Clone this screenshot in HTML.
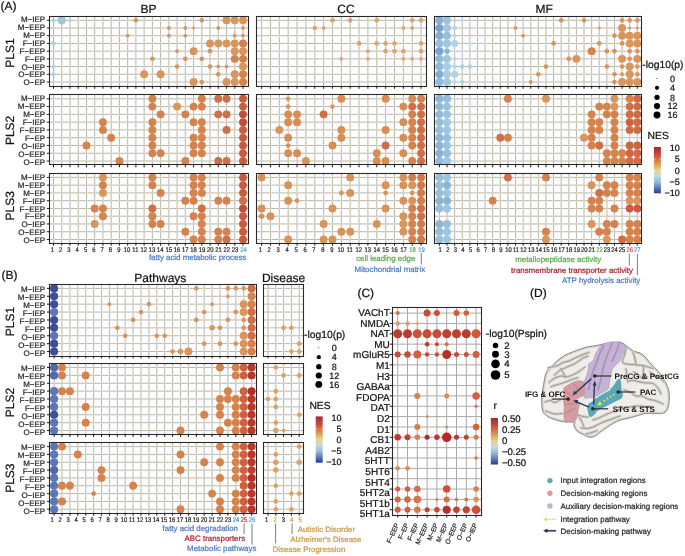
<!DOCTYPE html>
<html><head><meta charset="utf-8"><style>
html,body{margin:0;padding:0;background:#fff;width:685px;height:556px;overflow:hidden;}
svg{display:block;will-change:transform;}
text{font-family:"Liberation Sans", sans-serif;text-rendering:geometricPrecision;}
</style></head><body>
<svg width="685" height="556" viewBox="0 0 685 556" font-family='"Liberation Sans", sans-serif'>
<rect width="685" height="556" fill="#ffffff"/>
<path d="M53.50,16.0V86.4M61.74,16.0V86.4M69.98,16.0V86.4M78.22,16.0V86.4M86.46,16.0V86.4M94.70,16.0V86.4M102.94,16.0V86.4M111.18,16.0V86.4M119.42,16.0V86.4M127.66,16.0V86.4M135.90,16.0V86.4M144.14,16.0V86.4M152.38,16.0V86.4M160.62,16.0V86.4M168.86,16.0V86.4M177.10,16.0V86.4M185.34,16.0V86.4M193.58,16.0V86.4M201.82,16.0V86.4M210.06,16.0V86.4M218.30,16.0V86.4M226.54,16.0V86.4M234.78,16.0V86.4M243.02,16.0V86.4M49.5,20.30H248.3M49.5,28.01H248.3M49.5,35.72H248.3M49.5,43.43H248.3M49.5,51.14H248.3M49.5,58.85H248.3M49.5,66.56H248.3M49.5,74.27H248.3M49.5,81.98H248.3" stroke="#B6B6B6" stroke-width="1" fill="none"/>
<path d="M53.50,20.30h0M53.50,28.01h0M53.50,35.72h0M53.50,43.43h0M53.50,51.14h0M53.50,58.85h0M53.50,66.56h0M53.50,74.27h0M53.50,81.98h0M61.74,20.30h0M61.74,28.01h0M61.74,35.72h0M61.74,43.43h0M61.74,51.14h0M61.74,58.85h0M61.74,66.56h0M61.74,74.27h0M61.74,81.98h0M69.98,20.30h0M69.98,28.01h0M69.98,35.72h0M69.98,43.43h0M69.98,51.14h0M69.98,58.85h0M69.98,66.56h0M69.98,74.27h0M69.98,81.98h0M78.22,20.30h0M78.22,28.01h0M78.22,35.72h0M78.22,43.43h0M78.22,51.14h0M78.22,58.85h0M78.22,66.56h0M78.22,74.27h0M78.22,81.98h0M86.46,20.30h0M86.46,28.01h0M86.46,35.72h0M86.46,43.43h0M86.46,51.14h0M86.46,58.85h0M86.46,66.56h0M86.46,74.27h0M86.46,81.98h0M94.70,20.30h0M94.70,28.01h0M94.70,35.72h0M94.70,43.43h0M94.70,51.14h0M94.70,58.85h0M94.70,66.56h0M94.70,74.27h0M94.70,81.98h0M102.94,20.30h0M102.94,28.01h0M102.94,35.72h0M102.94,43.43h0M102.94,51.14h0M102.94,58.85h0M102.94,66.56h0M102.94,74.27h0M102.94,81.98h0M111.18,20.30h0M111.18,28.01h0M111.18,35.72h0M111.18,43.43h0M111.18,51.14h0M111.18,58.85h0M111.18,66.56h0M111.18,74.27h0M111.18,81.98h0M119.42,20.30h0M119.42,28.01h0M119.42,35.72h0M119.42,43.43h0M119.42,51.14h0M119.42,58.85h0M119.42,66.56h0M119.42,74.27h0M119.42,81.98h0M127.66,20.30h0M127.66,28.01h0M127.66,35.72h0M127.66,43.43h0M127.66,51.14h0M127.66,58.85h0M127.66,66.56h0M127.66,74.27h0M127.66,81.98h0M135.90,20.30h0M135.90,28.01h0M135.90,35.72h0M135.90,43.43h0M135.90,51.14h0M135.90,58.85h0M135.90,66.56h0M135.90,74.27h0M135.90,81.98h0M144.14,20.30h0M144.14,28.01h0M144.14,35.72h0M144.14,43.43h0M144.14,51.14h0M144.14,58.85h0M144.14,66.56h0M144.14,74.27h0M144.14,81.98h0M152.38,20.30h0M152.38,28.01h0M152.38,35.72h0M152.38,43.43h0M152.38,51.14h0M152.38,58.85h0M152.38,66.56h0M152.38,74.27h0M152.38,81.98h0M160.62,20.30h0M160.62,28.01h0M160.62,35.72h0M160.62,43.43h0M160.62,51.14h0M160.62,58.85h0M160.62,66.56h0M160.62,74.27h0M160.62,81.98h0M168.86,20.30h0M168.86,28.01h0M168.86,35.72h0M168.86,43.43h0M168.86,51.14h0M168.86,58.85h0M168.86,66.56h0M168.86,74.27h0M168.86,81.98h0M177.10,20.30h0M177.10,28.01h0M177.10,35.72h0M177.10,43.43h0M177.10,51.14h0M177.10,58.85h0M177.10,66.56h0M177.10,74.27h0M177.10,81.98h0M185.34,20.30h0M185.34,28.01h0M185.34,35.72h0M185.34,43.43h0M185.34,51.14h0M185.34,58.85h0M185.34,66.56h0M185.34,74.27h0M185.34,81.98h0M193.58,20.30h0M193.58,28.01h0M193.58,35.72h0M193.58,43.43h0M193.58,51.14h0M193.58,58.85h0M193.58,66.56h0M193.58,74.27h0M193.58,81.98h0M201.82,20.30h0M201.82,28.01h0M201.82,35.72h0M201.82,43.43h0M201.82,51.14h0M201.82,58.85h0M201.82,66.56h0M201.82,74.27h0M201.82,81.98h0M210.06,20.30h0M210.06,28.01h0M210.06,35.72h0M210.06,43.43h0M210.06,51.14h0M210.06,58.85h0M210.06,66.56h0M210.06,74.27h0M210.06,81.98h0M218.30,20.30h0M218.30,28.01h0M218.30,35.72h0M218.30,43.43h0M218.30,51.14h0M218.30,58.85h0M218.30,66.56h0M218.30,74.27h0M218.30,81.98h0M226.54,20.30h0M226.54,28.01h0M226.54,35.72h0M226.54,43.43h0M226.54,51.14h0M226.54,58.85h0M226.54,66.56h0M226.54,74.27h0M226.54,81.98h0M234.78,20.30h0M234.78,28.01h0M234.78,35.72h0M234.78,43.43h0M234.78,51.14h0M234.78,58.85h0M234.78,66.56h0M234.78,74.27h0M234.78,81.98h0M243.02,20.30h0M243.02,28.01h0M243.02,35.72h0M243.02,43.43h0M243.02,51.14h0M243.02,58.85h0M243.02,66.56h0M243.02,74.27h0M243.02,81.98h0" stroke="#EBDB88" stroke-width="1.7" stroke-linecap="round" fill="none"/>
<circle cx="53.50" cy="20.30" r="1.90" fill="#ADD2E3"/>
<circle cx="61.74" cy="20.30" r="4.20" fill="#A0C6DE"/>
<circle cx="69.98" cy="20.30" r="1.90" fill="#ADD2E3"/>
<circle cx="78.22" cy="20.30" r="1.40" fill="#C4DFE7"/>
<circle cx="135.90" cy="20.30" r="2.35" fill="#D9955A"/>
<circle cx="201.82" cy="20.30" r="2.35" fill="#D9955A"/>
<circle cx="226.54" cy="20.30" r="3.95" fill="#D9955A"/>
<circle cx="234.78" cy="20.30" r="3.95" fill="#D9955A"/>
<circle cx="243.02" cy="20.30" r="3.95" fill="#D9955A"/>
<circle cx="168.86" cy="28.01" r="1.90" fill="#D9955A"/>
<circle cx="185.34" cy="28.01" r="1.90" fill="#D9955A"/>
<circle cx="193.58" cy="28.01" r="1.40" fill="#D9955A"/>
<circle cx="218.30" cy="28.01" r="1.90" fill="#D9955A"/>
<circle cx="243.02" cy="28.01" r="1.90" fill="#D9955A"/>
<circle cx="127.66" cy="35.72" r="1.90" fill="#D9955A"/>
<circle cx="168.86" cy="35.72" r="1.90" fill="#D9955A"/>
<circle cx="185.34" cy="35.72" r="1.90" fill="#D9955A"/>
<circle cx="234.78" cy="35.72" r="1.90" fill="#D9955A"/>
<circle cx="243.02" cy="35.72" r="1.90" fill="#D9955A"/>
<circle cx="53.50" cy="43.43" r="2.35" fill="#ADD2E3"/>
<circle cx="210.06" cy="43.43" r="3.95" fill="#D9955A"/>
<circle cx="218.30" cy="43.43" r="3.95" fill="#D9955A"/>
<circle cx="226.54" cy="43.43" r="3.95" fill="#D9955A"/>
<circle cx="234.78" cy="43.43" r="3.95" fill="#D9955A"/>
<circle cx="243.02" cy="43.43" r="3.95" fill="#D4804A"/>
<circle cx="177.10" cy="51.14" r="1.90" fill="#D9955A"/>
<circle cx="193.58" cy="51.14" r="3.95" fill="#D9955A"/>
<circle cx="210.06" cy="51.14" r="2.35" fill="#D9955A"/>
<circle cx="234.78" cy="51.14" r="3.95" fill="#D9955A"/>
<circle cx="243.02" cy="51.14" r="3.95" fill="#D9955A"/>
<circle cx="152.38" cy="58.85" r="2.35" fill="#D9955A"/>
<circle cx="185.34" cy="58.85" r="2.35" fill="#D9955A"/>
<circle cx="201.82" cy="58.85" r="2.35" fill="#D9955A"/>
<circle cx="234.78" cy="58.85" r="3.95" fill="#D6824D"/>
<circle cx="243.02" cy="58.85" r="3.95" fill="#D4804A"/>
<circle cx="53.50" cy="66.56" r="1.90" fill="#ADD2E3"/>
<circle cx="177.10" cy="66.56" r="2.35" fill="#D9955A"/>
<circle cx="210.06" cy="66.56" r="2.35" fill="#D9955A"/>
<circle cx="218.30" cy="66.56" r="1.90" fill="#D9955A"/>
<circle cx="226.54" cy="66.56" r="1.90" fill="#D9955A"/>
<circle cx="243.02" cy="66.56" r="3.95" fill="#D9955A"/>
<circle cx="53.50" cy="74.27" r="1.90" fill="#ADD2E3"/>
<circle cx="144.14" cy="74.27" r="3.95" fill="#D9955A"/>
<circle cx="160.62" cy="74.27" r="3.95" fill="#D9955A"/>
<circle cx="218.30" cy="74.27" r="2.35" fill="#D9955A"/>
<circle cx="234.78" cy="74.27" r="3.95" fill="#D9955A"/>
<circle cx="243.02" cy="74.27" r="3.95" fill="#D6824D"/>
<circle cx="193.58" cy="81.98" r="3.95" fill="#D9955A"/>
<circle cx="201.82" cy="81.98" r="2.35" fill="#D9955A"/>
<circle cx="226.54" cy="81.98" r="3.95" fill="#D9955A"/>
<circle cx="234.78" cy="81.98" r="3.95" fill="#D9955A"/>
<circle cx="243.02" cy="81.98" r="3.95" fill="#D6824D"/>
<rect x="49.5" y="16.5" width="199.00" height="70.00" fill="none" stroke="#2a2a2a" stroke-width="1.1"/>
<line x1="46.90" y1="20.30" x2="49.5" y2="20.30" stroke="#1a1a1a" stroke-width="1.0"/>
<line x1="46.90" y1="28.01" x2="49.5" y2="28.01" stroke="#1a1a1a" stroke-width="1.0"/>
<line x1="46.90" y1="35.72" x2="49.5" y2="35.72" stroke="#1a1a1a" stroke-width="1.0"/>
<line x1="46.90" y1="43.43" x2="49.5" y2="43.43" stroke="#1a1a1a" stroke-width="1.0"/>
<line x1="46.90" y1="51.14" x2="49.5" y2="51.14" stroke="#1a1a1a" stroke-width="1.0"/>
<line x1="46.90" y1="58.85" x2="49.5" y2="58.85" stroke="#1a1a1a" stroke-width="1.0"/>
<line x1="46.90" y1="66.56" x2="49.5" y2="66.56" stroke="#1a1a1a" stroke-width="1.0"/>
<line x1="46.90" y1="74.27" x2="49.5" y2="74.27" stroke="#1a1a1a" stroke-width="1.0"/>
<line x1="46.90" y1="81.98" x2="49.5" y2="81.98" stroke="#1a1a1a" stroke-width="1.0"/>
<line x1="53.50" y1="86.4" x2="53.50" y2="88.80" stroke="#1a1a1a" stroke-width="1.0"/>
<line x1="61.74" y1="86.4" x2="61.74" y2="88.80" stroke="#1a1a1a" stroke-width="1.0"/>
<line x1="69.98" y1="86.4" x2="69.98" y2="88.80" stroke="#1a1a1a" stroke-width="1.0"/>
<line x1="78.22" y1="86.4" x2="78.22" y2="88.80" stroke="#1a1a1a" stroke-width="1.0"/>
<line x1="86.46" y1="86.4" x2="86.46" y2="88.80" stroke="#1a1a1a" stroke-width="1.0"/>
<line x1="94.70" y1="86.4" x2="94.70" y2="88.80" stroke="#1a1a1a" stroke-width="1.0"/>
<line x1="102.94" y1="86.4" x2="102.94" y2="88.80" stroke="#1a1a1a" stroke-width="1.0"/>
<line x1="111.18" y1="86.4" x2="111.18" y2="88.80" stroke="#1a1a1a" stroke-width="1.0"/>
<line x1="119.42" y1="86.4" x2="119.42" y2="88.80" stroke="#1a1a1a" stroke-width="1.0"/>
<line x1="127.66" y1="86.4" x2="127.66" y2="88.80" stroke="#1a1a1a" stroke-width="1.0"/>
<line x1="135.90" y1="86.4" x2="135.90" y2="88.80" stroke="#1a1a1a" stroke-width="1.0"/>
<line x1="144.14" y1="86.4" x2="144.14" y2="88.80" stroke="#1a1a1a" stroke-width="1.0"/>
<line x1="152.38" y1="86.4" x2="152.38" y2="88.80" stroke="#1a1a1a" stroke-width="1.0"/>
<line x1="160.62" y1="86.4" x2="160.62" y2="88.80" stroke="#1a1a1a" stroke-width="1.0"/>
<line x1="168.86" y1="86.4" x2="168.86" y2="88.80" stroke="#1a1a1a" stroke-width="1.0"/>
<line x1="177.10" y1="86.4" x2="177.10" y2="88.80" stroke="#1a1a1a" stroke-width="1.0"/>
<line x1="185.34" y1="86.4" x2="185.34" y2="88.80" stroke="#1a1a1a" stroke-width="1.0"/>
<line x1="193.58" y1="86.4" x2="193.58" y2="88.80" stroke="#1a1a1a" stroke-width="1.0"/>
<line x1="201.82" y1="86.4" x2="201.82" y2="88.80" stroke="#1a1a1a" stroke-width="1.0"/>
<line x1="210.06" y1="86.4" x2="210.06" y2="88.80" stroke="#1a1a1a" stroke-width="1.0"/>
<line x1="218.30" y1="86.4" x2="218.30" y2="88.80" stroke="#1a1a1a" stroke-width="1.0"/>
<line x1="226.54" y1="86.4" x2="226.54" y2="88.80" stroke="#1a1a1a" stroke-width="1.0"/>
<line x1="234.78" y1="86.4" x2="234.78" y2="88.80" stroke="#1a1a1a" stroke-width="1.0"/>
<line x1="243.02" y1="86.4" x2="243.02" y2="88.80" stroke="#1a1a1a" stroke-width="1.0"/>
<path d="M261.60,16.0V86.4M270.46,16.0V86.4M279.32,16.0V86.4M288.18,16.0V86.4M297.04,16.0V86.4M305.90,16.0V86.4M314.76,16.0V86.4M323.62,16.0V86.4M332.48,16.0V86.4M341.34,16.0V86.4M350.20,16.0V86.4M359.06,16.0V86.4M367.92,16.0V86.4M376.78,16.0V86.4M385.64,16.0V86.4M394.50,16.0V86.4M403.36,16.0V86.4M412.22,16.0V86.4M421.08,16.0V86.4M256.6,20.30H426.6M256.6,28.01H426.6M256.6,35.72H426.6M256.6,43.43H426.6M256.6,51.14H426.6M256.6,58.85H426.6M256.6,66.56H426.6M256.6,74.27H426.6M256.6,81.98H426.6" stroke="#B6B6B6" stroke-width="1" fill="none"/>
<path d="M261.60,20.30h0M261.60,28.01h0M261.60,35.72h0M261.60,43.43h0M261.60,51.14h0M261.60,58.85h0M261.60,66.56h0M261.60,74.27h0M261.60,81.98h0M270.46,20.30h0M270.46,28.01h0M270.46,35.72h0M270.46,43.43h0M270.46,51.14h0M270.46,58.85h0M270.46,66.56h0M270.46,74.27h0M270.46,81.98h0M279.32,20.30h0M279.32,28.01h0M279.32,35.72h0M279.32,43.43h0M279.32,51.14h0M279.32,58.85h0M279.32,66.56h0M279.32,74.27h0M279.32,81.98h0M288.18,20.30h0M288.18,28.01h0M288.18,35.72h0M288.18,43.43h0M288.18,51.14h0M288.18,58.85h0M288.18,66.56h0M288.18,74.27h0M288.18,81.98h0M297.04,20.30h0M297.04,28.01h0M297.04,35.72h0M297.04,43.43h0M297.04,51.14h0M297.04,58.85h0M297.04,66.56h0M297.04,74.27h0M297.04,81.98h0M305.90,20.30h0M305.90,28.01h0M305.90,35.72h0M305.90,43.43h0M305.90,51.14h0M305.90,58.85h0M305.90,66.56h0M305.90,74.27h0M305.90,81.98h0M314.76,20.30h0M314.76,28.01h0M314.76,35.72h0M314.76,43.43h0M314.76,51.14h0M314.76,58.85h0M314.76,66.56h0M314.76,74.27h0M314.76,81.98h0M323.62,20.30h0M323.62,28.01h0M323.62,35.72h0M323.62,43.43h0M323.62,51.14h0M323.62,58.85h0M323.62,66.56h0M323.62,74.27h0M323.62,81.98h0M332.48,20.30h0M332.48,28.01h0M332.48,35.72h0M332.48,43.43h0M332.48,51.14h0M332.48,58.85h0M332.48,66.56h0M332.48,74.27h0M332.48,81.98h0M341.34,20.30h0M341.34,28.01h0M341.34,35.72h0M341.34,43.43h0M341.34,51.14h0M341.34,58.85h0M341.34,66.56h0M341.34,74.27h0M341.34,81.98h0M350.20,20.30h0M350.20,28.01h0M350.20,35.72h0M350.20,43.43h0M350.20,51.14h0M350.20,58.85h0M350.20,66.56h0M350.20,74.27h0M350.20,81.98h0M359.06,20.30h0M359.06,28.01h0M359.06,35.72h0M359.06,43.43h0M359.06,51.14h0M359.06,58.85h0M359.06,66.56h0M359.06,74.27h0M359.06,81.98h0M367.92,20.30h0M367.92,28.01h0M367.92,35.72h0M367.92,43.43h0M367.92,51.14h0M367.92,58.85h0M367.92,66.56h0M367.92,74.27h0M367.92,81.98h0M376.78,20.30h0M376.78,28.01h0M376.78,35.72h0M376.78,43.43h0M376.78,51.14h0M376.78,58.85h0M376.78,66.56h0M376.78,74.27h0M376.78,81.98h0M385.64,20.30h0M385.64,28.01h0M385.64,35.72h0M385.64,43.43h0M385.64,51.14h0M385.64,58.85h0M385.64,66.56h0M385.64,74.27h0M385.64,81.98h0M394.50,20.30h0M394.50,28.01h0M394.50,35.72h0M394.50,43.43h0M394.50,51.14h0M394.50,58.85h0M394.50,66.56h0M394.50,74.27h0M394.50,81.98h0M403.36,20.30h0M403.36,28.01h0M403.36,35.72h0M403.36,43.43h0M403.36,51.14h0M403.36,58.85h0M403.36,66.56h0M403.36,74.27h0M403.36,81.98h0M412.22,20.30h0M412.22,28.01h0M412.22,35.72h0M412.22,43.43h0M412.22,51.14h0M412.22,58.85h0M412.22,66.56h0M412.22,74.27h0M412.22,81.98h0M421.08,20.30h0M421.08,28.01h0M421.08,35.72h0M421.08,43.43h0M421.08,51.14h0M421.08,58.85h0M421.08,66.56h0M421.08,74.27h0M421.08,81.98h0" stroke="#EBDB88" stroke-width="1.7" stroke-linecap="round" fill="none"/>
<circle cx="332.48" cy="20.30" r="2.35" fill="#DFA466"/>
<circle cx="350.20" cy="20.30" r="2.35" fill="#DFA466"/>
<circle cx="376.78" cy="20.30" r="2.35" fill="#DFA466"/>
<circle cx="412.22" cy="20.30" r="2.35" fill="#DFA466"/>
<circle cx="421.08" cy="20.30" r="2.35" fill="#DFA466"/>
<circle cx="314.76" cy="28.01" r="2.35" fill="#DFA466"/>
<circle cx="323.62" cy="28.01" r="1.90" fill="#DFA466"/>
<circle cx="403.36" cy="28.01" r="1.90" fill="#DFA466"/>
<circle cx="412.22" cy="28.01" r="1.90" fill="#DFA466"/>
<circle cx="359.06" cy="43.43" r="2.35" fill="#DFA466"/>
<circle cx="376.78" cy="43.43" r="2.35" fill="#DFA466"/>
<circle cx="385.64" cy="43.43" r="2.35" fill="#DFA466"/>
<circle cx="394.50" cy="43.43" r="2.35" fill="#DFA466"/>
<circle cx="421.08" cy="43.43" r="2.35" fill="#DFA466"/>
<circle cx="367.92" cy="51.14" r="1.90" fill="#DFA466"/>
<circle cx="385.64" cy="51.14" r="2.35" fill="#DFA466"/>
<circle cx="394.50" cy="51.14" r="2.35" fill="#DFA466"/>
<circle cx="403.36" cy="51.14" r="2.35" fill="#DFA466"/>
<circle cx="421.08" cy="51.14" r="2.35" fill="#DFA466"/>
<circle cx="341.34" cy="58.85" r="1.90" fill="#DFA466"/>
<circle cx="367.92" cy="58.85" r="1.90" fill="#DFA466"/>
<circle cx="403.36" cy="58.85" r="1.90" fill="#DFA466"/>
<circle cx="412.22" cy="58.85" r="1.90" fill="#DFA466"/>
<circle cx="421.08" cy="58.85" r="1.90" fill="#DFA466"/>
<rect x="256.5" y="16.5" width="170.00" height="70.00" fill="none" stroke="#2a2a2a" stroke-width="1.1"/>
<line x1="261.60" y1="86.4" x2="261.60" y2="88.80" stroke="#1a1a1a" stroke-width="1.0"/>
<line x1="270.46" y1="86.4" x2="270.46" y2="88.80" stroke="#1a1a1a" stroke-width="1.0"/>
<line x1="279.32" y1="86.4" x2="279.32" y2="88.80" stroke="#1a1a1a" stroke-width="1.0"/>
<line x1="288.18" y1="86.4" x2="288.18" y2="88.80" stroke="#1a1a1a" stroke-width="1.0"/>
<line x1="297.04" y1="86.4" x2="297.04" y2="88.80" stroke="#1a1a1a" stroke-width="1.0"/>
<line x1="305.90" y1="86.4" x2="305.90" y2="88.80" stroke="#1a1a1a" stroke-width="1.0"/>
<line x1="314.76" y1="86.4" x2="314.76" y2="88.80" stroke="#1a1a1a" stroke-width="1.0"/>
<line x1="323.62" y1="86.4" x2="323.62" y2="88.80" stroke="#1a1a1a" stroke-width="1.0"/>
<line x1="332.48" y1="86.4" x2="332.48" y2="88.80" stroke="#1a1a1a" stroke-width="1.0"/>
<line x1="341.34" y1="86.4" x2="341.34" y2="88.80" stroke="#1a1a1a" stroke-width="1.0"/>
<line x1="350.20" y1="86.4" x2="350.20" y2="88.80" stroke="#1a1a1a" stroke-width="1.0"/>
<line x1="359.06" y1="86.4" x2="359.06" y2="88.80" stroke="#1a1a1a" stroke-width="1.0"/>
<line x1="367.92" y1="86.4" x2="367.92" y2="88.80" stroke="#1a1a1a" stroke-width="1.0"/>
<line x1="376.78" y1="86.4" x2="376.78" y2="88.80" stroke="#1a1a1a" stroke-width="1.0"/>
<line x1="385.64" y1="86.4" x2="385.64" y2="88.80" stroke="#1a1a1a" stroke-width="1.0"/>
<line x1="394.50" y1="86.4" x2="394.50" y2="88.80" stroke="#1a1a1a" stroke-width="1.0"/>
<line x1="403.36" y1="86.4" x2="403.36" y2="88.80" stroke="#1a1a1a" stroke-width="1.0"/>
<line x1="412.22" y1="86.4" x2="412.22" y2="88.80" stroke="#1a1a1a" stroke-width="1.0"/>
<line x1="421.08" y1="86.4" x2="421.08" y2="88.80" stroke="#1a1a1a" stroke-width="1.0"/>
<path d="M439.40,16.0V86.4M447.01,16.0V86.4M454.62,16.0V86.4M462.24,16.0V86.4M469.85,16.0V86.4M477.46,16.0V86.4M485.07,16.0V86.4M492.68,16.0V86.4M500.30,16.0V86.4M507.91,16.0V86.4M515.52,16.0V86.4M523.13,16.0V86.4M530.74,16.0V86.4M538.36,16.0V86.4M545.97,16.0V86.4M553.58,16.0V86.4M561.19,16.0V86.4M568.80,16.0V86.4M576.42,16.0V86.4M584.03,16.0V86.4M591.64,16.0V86.4M599.25,16.0V86.4M606.86,16.0V86.4M614.48,16.0V86.4M622.09,16.0V86.4M629.70,16.0V86.4M637.31,16.0V86.4M435.0,20.30H641.3M435.0,28.01H641.3M435.0,35.72H641.3M435.0,43.43H641.3M435.0,51.14H641.3M435.0,58.85H641.3M435.0,66.56H641.3M435.0,74.27H641.3M435.0,81.98H641.3" stroke="#B6B6B6" stroke-width="1" fill="none"/>
<path d="M439.40,20.30h0M439.40,28.01h0M439.40,35.72h0M439.40,43.43h0M439.40,51.14h0M439.40,58.85h0M439.40,66.56h0M439.40,74.27h0M439.40,81.98h0M447.01,20.30h0M447.01,28.01h0M447.01,35.72h0M447.01,43.43h0M447.01,51.14h0M447.01,58.85h0M447.01,66.56h0M447.01,74.27h0M447.01,81.98h0M454.62,20.30h0M454.62,28.01h0M454.62,35.72h0M454.62,43.43h0M454.62,51.14h0M454.62,58.85h0M454.62,66.56h0M454.62,74.27h0M454.62,81.98h0M462.24,20.30h0M462.24,28.01h0M462.24,35.72h0M462.24,43.43h0M462.24,51.14h0M462.24,58.85h0M462.24,66.56h0M462.24,74.27h0M462.24,81.98h0M469.85,20.30h0M469.85,28.01h0M469.85,35.72h0M469.85,43.43h0M469.85,51.14h0M469.85,58.85h0M469.85,66.56h0M469.85,74.27h0M469.85,81.98h0M477.46,20.30h0M477.46,28.01h0M477.46,35.72h0M477.46,43.43h0M477.46,51.14h0M477.46,58.85h0M477.46,66.56h0M477.46,74.27h0M477.46,81.98h0M485.07,20.30h0M485.07,28.01h0M485.07,35.72h0M485.07,43.43h0M485.07,51.14h0M485.07,58.85h0M485.07,66.56h0M485.07,74.27h0M485.07,81.98h0M492.68,20.30h0M492.68,28.01h0M492.68,35.72h0M492.68,43.43h0M492.68,51.14h0M492.68,58.85h0M492.68,66.56h0M492.68,74.27h0M492.68,81.98h0M500.30,20.30h0M500.30,28.01h0M500.30,35.72h0M500.30,43.43h0M500.30,51.14h0M500.30,58.85h0M500.30,66.56h0M500.30,74.27h0M500.30,81.98h0M507.91,20.30h0M507.91,28.01h0M507.91,35.72h0M507.91,43.43h0M507.91,51.14h0M507.91,58.85h0M507.91,66.56h0M507.91,74.27h0M507.91,81.98h0M515.52,20.30h0M515.52,28.01h0M515.52,35.72h0M515.52,43.43h0M515.52,51.14h0M515.52,58.85h0M515.52,66.56h0M515.52,74.27h0M515.52,81.98h0M523.13,20.30h0M523.13,28.01h0M523.13,35.72h0M523.13,43.43h0M523.13,51.14h0M523.13,58.85h0M523.13,66.56h0M523.13,74.27h0M523.13,81.98h0M530.74,20.30h0M530.74,28.01h0M530.74,35.72h0M530.74,43.43h0M530.74,51.14h0M530.74,58.85h0M530.74,66.56h0M530.74,74.27h0M530.74,81.98h0M538.36,20.30h0M538.36,28.01h0M538.36,35.72h0M538.36,43.43h0M538.36,51.14h0M538.36,58.85h0M538.36,66.56h0M538.36,74.27h0M538.36,81.98h0M545.97,20.30h0M545.97,28.01h0M545.97,35.72h0M545.97,43.43h0M545.97,51.14h0M545.97,58.85h0M545.97,66.56h0M545.97,74.27h0M545.97,81.98h0M553.58,20.30h0M553.58,28.01h0M553.58,35.72h0M553.58,43.43h0M553.58,51.14h0M553.58,58.85h0M553.58,66.56h0M553.58,74.27h0M553.58,81.98h0M561.19,20.30h0M561.19,28.01h0M561.19,35.72h0M561.19,43.43h0M561.19,51.14h0M561.19,58.85h0M561.19,66.56h0M561.19,74.27h0M561.19,81.98h0M568.80,20.30h0M568.80,28.01h0M568.80,35.72h0M568.80,43.43h0M568.80,51.14h0M568.80,58.85h0M568.80,66.56h0M568.80,74.27h0M568.80,81.98h0M576.42,20.30h0M576.42,28.01h0M576.42,35.72h0M576.42,43.43h0M576.42,51.14h0M576.42,58.85h0M576.42,66.56h0M576.42,74.27h0M576.42,81.98h0M584.03,20.30h0M584.03,28.01h0M584.03,35.72h0M584.03,43.43h0M584.03,51.14h0M584.03,58.85h0M584.03,66.56h0M584.03,74.27h0M584.03,81.98h0M591.64,20.30h0M591.64,28.01h0M591.64,35.72h0M591.64,43.43h0M591.64,51.14h0M591.64,58.85h0M591.64,66.56h0M591.64,74.27h0M591.64,81.98h0M599.25,20.30h0M599.25,28.01h0M599.25,35.72h0M599.25,43.43h0M599.25,51.14h0M599.25,58.85h0M599.25,66.56h0M599.25,74.27h0M599.25,81.98h0M606.86,20.30h0M606.86,28.01h0M606.86,35.72h0M606.86,43.43h0M606.86,51.14h0M606.86,58.85h0M606.86,66.56h0M606.86,74.27h0M606.86,81.98h0M614.48,20.30h0M614.48,28.01h0M614.48,35.72h0M614.48,43.43h0M614.48,51.14h0M614.48,58.85h0M614.48,66.56h0M614.48,74.27h0M614.48,81.98h0M622.09,20.30h0M622.09,28.01h0M622.09,35.72h0M622.09,43.43h0M622.09,51.14h0M622.09,58.85h0M622.09,66.56h0M622.09,74.27h0M622.09,81.98h0M629.70,20.30h0M629.70,28.01h0M629.70,35.72h0M629.70,43.43h0M629.70,51.14h0M629.70,58.85h0M629.70,66.56h0M629.70,74.27h0M629.70,81.98h0M637.31,20.30h0M637.31,28.01h0M637.31,35.72h0M637.31,43.43h0M637.31,51.14h0M637.31,58.85h0M637.31,66.56h0M637.31,74.27h0M637.31,81.98h0" stroke="#EBDB88" stroke-width="1.7" stroke-linecap="round" fill="none"/>
<circle cx="439.40" cy="20.30" r="3.95" fill="#8AB0D3"/>
<circle cx="447.01" cy="20.30" r="3.95" fill="#9CC2DC"/>
<circle cx="454.62" cy="20.30" r="1.90" fill="#B8DAE8"/>
<circle cx="462.24" cy="20.30" r="1.90" fill="#C4DFE7"/>
<circle cx="561.19" cy="20.30" r="2.35" fill="#D9955A"/>
<circle cx="584.03" cy="20.30" r="2.35" fill="#D9955A"/>
<circle cx="622.09" cy="20.30" r="2.35" fill="#D9955A"/>
<circle cx="629.70" cy="20.30" r="2.35" fill="#D9955A"/>
<circle cx="637.31" cy="20.30" r="2.35" fill="#D9955A"/>
<circle cx="439.40" cy="28.01" r="3.95" fill="#7BA2CC"/>
<circle cx="447.01" cy="28.01" r="3.95" fill="#A2C7DF"/>
<circle cx="454.62" cy="28.01" r="2.35" fill="#B5D8E8"/>
<circle cx="515.52" cy="28.01" r="1.90" fill="#D9955A"/>
<circle cx="599.25" cy="28.01" r="1.40" fill="#D9955A"/>
<circle cx="622.09" cy="28.01" r="3.95" fill="#D9955A"/>
<circle cx="629.70" cy="28.01" r="1.40" fill="#D9955A"/>
<circle cx="637.31" cy="28.01" r="1.40" fill="#D9955A"/>
<circle cx="439.40" cy="35.72" r="3.95" fill="#84ABD1"/>
<circle cx="447.01" cy="35.72" r="3.95" fill="#98BEDA"/>
<circle cx="454.62" cy="35.72" r="1.90" fill="#B8DAE8"/>
<circle cx="523.13" cy="35.72" r="1.90" fill="#D9955A"/>
<circle cx="614.48" cy="35.72" r="2.35" fill="#D9955A"/>
<circle cx="622.09" cy="35.72" r="3.95" fill="#D9955A"/>
<circle cx="629.70" cy="35.72" r="3.95" fill="#D9955A"/>
<circle cx="637.31" cy="35.72" r="3.95" fill="#D9955A"/>
<circle cx="439.40" cy="43.43" r="3.95" fill="#98BEDA"/>
<circle cx="447.01" cy="43.43" r="3.95" fill="#A0C5DE"/>
<circle cx="454.62" cy="43.43" r="3.50" fill="#AFD3E4"/>
<circle cx="469.85" cy="43.43" r="1.90" fill="#C4DFE7"/>
<circle cx="485.07" cy="43.43" r="1.40" fill="#C4DFE7"/>
<circle cx="553.58" cy="43.43" r="2.35" fill="#D9955A"/>
<circle cx="599.25" cy="43.43" r="2.35" fill="#D9955A"/>
<circle cx="622.09" cy="43.43" r="2.35" fill="#D9955A"/>
<circle cx="629.70" cy="43.43" r="3.95" fill="#D9955A"/>
<circle cx="637.31" cy="43.43" r="3.95" fill="#D9955A"/>
<circle cx="439.40" cy="51.14" r="3.95" fill="#7CA3CC"/>
<circle cx="447.01" cy="51.14" r="2.75" fill="#8DB3D4"/>
<circle cx="454.62" cy="51.14" r="1.40" fill="#CDE5E5"/>
<circle cx="462.24" cy="51.14" r="1.40" fill="#C4DFE7"/>
<circle cx="591.64" cy="51.14" r="3.95" fill="#D6824D"/>
<circle cx="606.86" cy="51.14" r="2.35" fill="#D9955A"/>
<circle cx="614.48" cy="51.14" r="2.35" fill="#D9955A"/>
<circle cx="629.70" cy="51.14" r="2.35" fill="#D9955A"/>
<circle cx="637.31" cy="51.14" r="2.35" fill="#D9955A"/>
<circle cx="439.40" cy="58.85" r="3.95" fill="#92B8D7"/>
<circle cx="447.01" cy="58.85" r="3.95" fill="#A0C5DE"/>
<circle cx="454.62" cy="58.85" r="1.90" fill="#B8DAE8"/>
<circle cx="462.24" cy="58.85" r="1.40" fill="#C4DFE7"/>
<circle cx="469.85" cy="58.85" r="1.40" fill="#C4DFE7"/>
<circle cx="568.80" cy="58.85" r="2.35" fill="#D9955A"/>
<circle cx="576.42" cy="58.85" r="3.95" fill="#D9955A"/>
<circle cx="622.09" cy="58.85" r="3.95" fill="#D9955A"/>
<circle cx="629.70" cy="58.85" r="2.35" fill="#D9955A"/>
<circle cx="637.31" cy="58.85" r="3.95" fill="#D9955A"/>
<circle cx="439.40" cy="66.56" r="3.95" fill="#92B8D7"/>
<circle cx="447.01" cy="66.56" r="3.95" fill="#A8CCE2"/>
<circle cx="454.62" cy="66.56" r="2.35" fill="#B5D8E8"/>
<circle cx="462.24" cy="66.56" r="2.35" fill="#ADD2E3"/>
<circle cx="469.85" cy="66.56" r="2.35" fill="#ADD2E3"/>
<circle cx="545.97" cy="66.56" r="2.35" fill="#D9955A"/>
<circle cx="606.86" cy="66.56" r="2.35" fill="#D9955A"/>
<circle cx="622.09" cy="66.56" r="2.35" fill="#D9955A"/>
<circle cx="629.70" cy="66.56" r="3.95" fill="#D9955A"/>
<circle cx="637.31" cy="66.56" r="2.35" fill="#D9955A"/>
<circle cx="439.40" cy="74.27" r="3.95" fill="#84ABD1"/>
<circle cx="447.01" cy="74.27" r="3.95" fill="#A8CCE2"/>
<circle cx="454.62" cy="74.27" r="3.50" fill="#AFD3E4"/>
<circle cx="538.36" cy="74.27" r="2.35" fill="#D9955A"/>
<circle cx="614.48" cy="74.27" r="2.35" fill="#D9955A"/>
<circle cx="622.09" cy="74.27" r="1.90" fill="#D9955A"/>
<circle cx="629.70" cy="74.27" r="3.95" fill="#D9955A"/>
<circle cx="637.31" cy="74.27" r="2.35" fill="#D9955A"/>
<circle cx="439.40" cy="81.98" r="3.95" fill="#93B9D8"/>
<circle cx="447.01" cy="81.98" r="3.95" fill="#A5CAE0"/>
<circle cx="454.62" cy="81.98" r="1.90" fill="#BBDCE8"/>
<circle cx="462.24" cy="81.98" r="1.90" fill="#ADD2E3"/>
<circle cx="477.46" cy="81.98" r="1.40" fill="#C4DFE7"/>
<circle cx="530.74" cy="81.98" r="1.90" fill="#D9955A"/>
<circle cx="614.48" cy="81.98" r="2.35" fill="#D9955A"/>
<circle cx="622.09" cy="81.98" r="3.95" fill="#D9955A"/>
<circle cx="629.70" cy="81.98" r="3.95" fill="#D9955A"/>
<circle cx="637.31" cy="81.98" r="3.95" fill="#D9955A"/>
<rect x="434.5" y="16.5" width="207.00" height="70.00" fill="none" stroke="#2a2a2a" stroke-width="1.1"/>
<line x1="439.40" y1="86.4" x2="439.40" y2="88.80" stroke="#1a1a1a" stroke-width="1.0"/>
<line x1="447.01" y1="86.4" x2="447.01" y2="88.80" stroke="#1a1a1a" stroke-width="1.0"/>
<line x1="454.62" y1="86.4" x2="454.62" y2="88.80" stroke="#1a1a1a" stroke-width="1.0"/>
<line x1="462.24" y1="86.4" x2="462.24" y2="88.80" stroke="#1a1a1a" stroke-width="1.0"/>
<line x1="469.85" y1="86.4" x2="469.85" y2="88.80" stroke="#1a1a1a" stroke-width="1.0"/>
<line x1="477.46" y1="86.4" x2="477.46" y2="88.80" stroke="#1a1a1a" stroke-width="1.0"/>
<line x1="485.07" y1="86.4" x2="485.07" y2="88.80" stroke="#1a1a1a" stroke-width="1.0"/>
<line x1="492.68" y1="86.4" x2="492.68" y2="88.80" stroke="#1a1a1a" stroke-width="1.0"/>
<line x1="500.30" y1="86.4" x2="500.30" y2="88.80" stroke="#1a1a1a" stroke-width="1.0"/>
<line x1="507.91" y1="86.4" x2="507.91" y2="88.80" stroke="#1a1a1a" stroke-width="1.0"/>
<line x1="515.52" y1="86.4" x2="515.52" y2="88.80" stroke="#1a1a1a" stroke-width="1.0"/>
<line x1="523.13" y1="86.4" x2="523.13" y2="88.80" stroke="#1a1a1a" stroke-width="1.0"/>
<line x1="530.74" y1="86.4" x2="530.74" y2="88.80" stroke="#1a1a1a" stroke-width="1.0"/>
<line x1="538.36" y1="86.4" x2="538.36" y2="88.80" stroke="#1a1a1a" stroke-width="1.0"/>
<line x1="545.97" y1="86.4" x2="545.97" y2="88.80" stroke="#1a1a1a" stroke-width="1.0"/>
<line x1="553.58" y1="86.4" x2="553.58" y2="88.80" stroke="#1a1a1a" stroke-width="1.0"/>
<line x1="561.19" y1="86.4" x2="561.19" y2="88.80" stroke="#1a1a1a" stroke-width="1.0"/>
<line x1="568.80" y1="86.4" x2="568.80" y2="88.80" stroke="#1a1a1a" stroke-width="1.0"/>
<line x1="576.42" y1="86.4" x2="576.42" y2="88.80" stroke="#1a1a1a" stroke-width="1.0"/>
<line x1="584.03" y1="86.4" x2="584.03" y2="88.80" stroke="#1a1a1a" stroke-width="1.0"/>
<line x1="591.64" y1="86.4" x2="591.64" y2="88.80" stroke="#1a1a1a" stroke-width="1.0"/>
<line x1="599.25" y1="86.4" x2="599.25" y2="88.80" stroke="#1a1a1a" stroke-width="1.0"/>
<line x1="606.86" y1="86.4" x2="606.86" y2="88.80" stroke="#1a1a1a" stroke-width="1.0"/>
<line x1="614.48" y1="86.4" x2="614.48" y2="88.80" stroke="#1a1a1a" stroke-width="1.0"/>
<line x1="622.09" y1="86.4" x2="622.09" y2="88.80" stroke="#1a1a1a" stroke-width="1.0"/>
<line x1="629.70" y1="86.4" x2="629.70" y2="88.80" stroke="#1a1a1a" stroke-width="1.0"/>
<line x1="637.31" y1="86.4" x2="637.31" y2="88.80" stroke="#1a1a1a" stroke-width="1.0"/>
<text x="45.2" y="21.93" font-size="8.0" text-anchor="end" fill="#262626" stroke="#262626" stroke-width="0.22" font-weight="normal" >M−IEP</text>
<text x="45.2" y="29.86" font-size="8.0" text-anchor="end" fill="#262626" stroke="#262626" stroke-width="0.22" font-weight="normal" >M−EEP</text>
<text x="45.2" y="37.79" font-size="8.0" text-anchor="end" fill="#262626" stroke="#262626" stroke-width="0.22" font-weight="normal" >M−EP</text>
<text x="45.2" y="45.72" font-size="8.0" text-anchor="end" fill="#262626" stroke="#262626" stroke-width="0.22" font-weight="normal" >F−IEP</text>
<text x="45.2" y="53.65" font-size="8.0" text-anchor="end" fill="#262626" stroke="#262626" stroke-width="0.22" font-weight="normal" >F−EEP</text>
<text x="45.2" y="61.58" font-size="8.0" text-anchor="end" fill="#262626" stroke="#262626" stroke-width="0.22" font-weight="normal" >F−EP</text>
<text x="45.2" y="69.51" font-size="8.0" text-anchor="end" fill="#262626" stroke="#262626" stroke-width="0.22" font-weight="normal" >O−IEP</text>
<text x="45.2" y="77.44" font-size="8.0" text-anchor="end" fill="#262626" stroke="#262626" stroke-width="0.22" font-weight="normal" >O−EEP</text>
<text x="45.2" y="85.37" font-size="8.0" text-anchor="end" fill="#262626" stroke="#262626" stroke-width="0.22" font-weight="normal" >O−EP</text>
<text x="0" y="0" font-size="12" text-anchor="middle" fill="#111" stroke="#111" stroke-width="0.22" font-weight="normal" transform="translate(13.8,53.0) rotate(-90)">PLS1</text>
<path d="M53.50,94.7V164.9M61.74,94.7V164.9M69.98,94.7V164.9M78.22,94.7V164.9M86.46,94.7V164.9M94.70,94.7V164.9M102.94,94.7V164.9M111.18,94.7V164.9M119.42,94.7V164.9M127.66,94.7V164.9M135.90,94.7V164.9M144.14,94.7V164.9M152.38,94.7V164.9M160.62,94.7V164.9M168.86,94.7V164.9M177.10,94.7V164.9M185.34,94.7V164.9M193.58,94.7V164.9M201.82,94.7V164.9M210.06,94.7V164.9M218.30,94.7V164.9M226.54,94.7V164.9M234.78,94.7V164.9M243.02,94.7V164.9M49.5,98.80H248.3M49.5,106.58H248.3M49.5,114.36H248.3M49.5,122.14H248.3M49.5,129.92H248.3M49.5,137.70H248.3M49.5,145.48H248.3M49.5,153.26H248.3M49.5,161.04H248.3" stroke="#B6B6B6" stroke-width="1" fill="none"/>
<path d="M53.50,98.80h0M53.50,106.58h0M53.50,114.36h0M53.50,122.14h0M53.50,129.92h0M53.50,137.70h0M53.50,145.48h0M53.50,153.26h0M53.50,161.04h0M61.74,98.80h0M61.74,106.58h0M61.74,114.36h0M61.74,122.14h0M61.74,129.92h0M61.74,137.70h0M61.74,145.48h0M61.74,153.26h0M61.74,161.04h0M69.98,98.80h0M69.98,106.58h0M69.98,114.36h0M69.98,122.14h0M69.98,129.92h0M69.98,137.70h0M69.98,145.48h0M69.98,153.26h0M69.98,161.04h0M78.22,98.80h0M78.22,106.58h0M78.22,114.36h0M78.22,122.14h0M78.22,129.92h0M78.22,137.70h0M78.22,145.48h0M78.22,153.26h0M78.22,161.04h0M86.46,98.80h0M86.46,106.58h0M86.46,114.36h0M86.46,122.14h0M86.46,129.92h0M86.46,137.70h0M86.46,145.48h0M86.46,153.26h0M86.46,161.04h0M94.70,98.80h0M94.70,106.58h0M94.70,114.36h0M94.70,122.14h0M94.70,129.92h0M94.70,137.70h0M94.70,145.48h0M94.70,153.26h0M94.70,161.04h0M102.94,98.80h0M102.94,106.58h0M102.94,114.36h0M102.94,122.14h0M102.94,129.92h0M102.94,137.70h0M102.94,145.48h0M102.94,153.26h0M102.94,161.04h0M111.18,98.80h0M111.18,106.58h0M111.18,114.36h0M111.18,122.14h0M111.18,129.92h0M111.18,137.70h0M111.18,145.48h0M111.18,153.26h0M111.18,161.04h0M119.42,98.80h0M119.42,106.58h0M119.42,114.36h0M119.42,122.14h0M119.42,129.92h0M119.42,137.70h0M119.42,145.48h0M119.42,153.26h0M119.42,161.04h0M127.66,98.80h0M127.66,106.58h0M127.66,114.36h0M127.66,122.14h0M127.66,129.92h0M127.66,137.70h0M127.66,145.48h0M127.66,153.26h0M127.66,161.04h0M135.90,98.80h0M135.90,106.58h0M135.90,114.36h0M135.90,122.14h0M135.90,129.92h0M135.90,137.70h0M135.90,145.48h0M135.90,153.26h0M135.90,161.04h0M144.14,98.80h0M144.14,106.58h0M144.14,114.36h0M144.14,122.14h0M144.14,129.92h0M144.14,137.70h0M144.14,145.48h0M144.14,153.26h0M144.14,161.04h0M152.38,98.80h0M152.38,106.58h0M152.38,114.36h0M152.38,122.14h0M152.38,129.92h0M152.38,137.70h0M152.38,145.48h0M152.38,153.26h0M152.38,161.04h0M160.62,98.80h0M160.62,106.58h0M160.62,114.36h0M160.62,122.14h0M160.62,129.92h0M160.62,137.70h0M160.62,145.48h0M160.62,153.26h0M160.62,161.04h0M168.86,98.80h0M168.86,106.58h0M168.86,114.36h0M168.86,122.14h0M168.86,129.92h0M168.86,137.70h0M168.86,145.48h0M168.86,153.26h0M168.86,161.04h0M177.10,98.80h0M177.10,106.58h0M177.10,114.36h0M177.10,122.14h0M177.10,129.92h0M177.10,137.70h0M177.10,145.48h0M177.10,153.26h0M177.10,161.04h0M185.34,98.80h0M185.34,106.58h0M185.34,114.36h0M185.34,122.14h0M185.34,129.92h0M185.34,137.70h0M185.34,145.48h0M185.34,153.26h0M185.34,161.04h0M193.58,98.80h0M193.58,106.58h0M193.58,114.36h0M193.58,122.14h0M193.58,129.92h0M193.58,137.70h0M193.58,145.48h0M193.58,153.26h0M193.58,161.04h0M201.82,98.80h0M201.82,106.58h0M201.82,114.36h0M201.82,122.14h0M201.82,129.92h0M201.82,137.70h0M201.82,145.48h0M201.82,153.26h0M201.82,161.04h0M210.06,98.80h0M210.06,106.58h0M210.06,114.36h0M210.06,122.14h0M210.06,129.92h0M210.06,137.70h0M210.06,145.48h0M210.06,153.26h0M210.06,161.04h0M218.30,98.80h0M218.30,106.58h0M218.30,114.36h0M218.30,122.14h0M218.30,129.92h0M218.30,137.70h0M218.30,145.48h0M218.30,153.26h0M218.30,161.04h0M226.54,98.80h0M226.54,106.58h0M226.54,114.36h0M226.54,122.14h0M226.54,129.92h0M226.54,137.70h0M226.54,145.48h0M226.54,153.26h0M226.54,161.04h0M234.78,98.80h0M234.78,106.58h0M234.78,114.36h0M234.78,122.14h0M234.78,129.92h0M234.78,137.70h0M234.78,145.48h0M234.78,153.26h0M234.78,161.04h0M243.02,98.80h0M243.02,106.58h0M243.02,114.36h0M243.02,122.14h0M243.02,129.92h0M243.02,137.70h0M243.02,145.48h0M243.02,153.26h0M243.02,161.04h0" stroke="#EBDB88" stroke-width="1.7" stroke-linecap="round" fill="none"/>
<circle cx="152.38" cy="98.80" r="3.95" fill="#D6824D"/>
<circle cx="201.82" cy="98.80" r="3.95" fill="#D6824D"/>
<circle cx="218.30" cy="98.80" r="3.95" fill="#D06E48"/>
<circle cx="226.54" cy="98.80" r="3.95" fill="#D06E48"/>
<circle cx="243.02" cy="98.80" r="3.95" fill="#C95C3F"/>
<circle cx="152.38" cy="106.58" r="3.95" fill="#D6824D"/>
<circle cx="177.10" cy="106.58" r="3.95" fill="#D9955A"/>
<circle cx="193.58" cy="106.58" r="3.95" fill="#D6824D"/>
<circle cx="201.82" cy="106.58" r="3.95" fill="#D6824D"/>
<circle cx="243.02" cy="106.58" r="3.95" fill="#C95C3F"/>
<circle cx="160.62" cy="114.36" r="3.95" fill="#D6824D"/>
<circle cx="185.34" cy="114.36" r="3.95" fill="#D6824D"/>
<circle cx="218.30" cy="114.36" r="3.95" fill="#D06E48"/>
<circle cx="226.54" cy="114.36" r="3.95" fill="#D06E48"/>
<circle cx="243.02" cy="114.36" r="3.95" fill="#C24E3A"/>
<circle cx="102.94" cy="122.14" r="3.95" fill="#D6824D"/>
<circle cx="152.38" cy="122.14" r="3.95" fill="#D6824D"/>
<circle cx="193.58" cy="122.14" r="3.95" fill="#D6824D"/>
<circle cx="201.82" cy="122.14" r="3.95" fill="#D6824D"/>
<circle cx="243.02" cy="122.14" r="3.95" fill="#C24E3A"/>
<circle cx="102.94" cy="129.92" r="3.95" fill="#D6824D"/>
<circle cx="152.38" cy="129.92" r="3.95" fill="#D6824D"/>
<circle cx="201.82" cy="129.92" r="3.95" fill="#D6824D"/>
<circle cx="226.54" cy="129.92" r="3.95" fill="#D06E48"/>
<circle cx="243.02" cy="129.92" r="3.95" fill="#C95C3F"/>
<circle cx="111.18" cy="137.70" r="3.95" fill="#D6824D"/>
<circle cx="152.38" cy="137.70" r="3.95" fill="#D6824D"/>
<circle cx="193.58" cy="137.70" r="3.95" fill="#D6824D"/>
<circle cx="201.82" cy="137.70" r="3.95" fill="#D6824D"/>
<circle cx="243.02" cy="137.70" r="3.95" fill="#C95C3F"/>
<circle cx="86.46" cy="145.48" r="3.95" fill="#D6824D"/>
<circle cx="152.38" cy="145.48" r="3.95" fill="#D6824D"/>
<circle cx="193.58" cy="145.48" r="3.95" fill="#D6824D"/>
<circle cx="201.82" cy="145.48" r="3.95" fill="#D6824D"/>
<circle cx="243.02" cy="145.48" r="3.95" fill="#C95C3F"/>
<circle cx="152.38" cy="153.26" r="3.95" fill="#D6824D"/>
<circle cx="160.62" cy="153.26" r="3.95" fill="#D6824D"/>
<circle cx="193.58" cy="153.26" r="3.95" fill="#D6824D"/>
<circle cx="201.82" cy="153.26" r="3.95" fill="#D6824D"/>
<circle cx="243.02" cy="153.26" r="3.95" fill="#C95C3F"/>
<circle cx="119.42" cy="161.04" r="3.95" fill="#D6824D"/>
<circle cx="185.34" cy="161.04" r="3.95" fill="#D6824D"/>
<circle cx="218.30" cy="161.04" r="3.95" fill="#D06E48"/>
<circle cx="226.54" cy="161.04" r="3.95" fill="#D06E48"/>
<circle cx="243.02" cy="161.04" r="3.95" fill="#C95C3F"/>
<rect x="49.5" y="94.5" width="199.00" height="70.00" fill="none" stroke="#2a2a2a" stroke-width="1.1"/>
<line x1="46.90" y1="98.80" x2="49.5" y2="98.80" stroke="#1a1a1a" stroke-width="1.0"/>
<line x1="46.90" y1="106.58" x2="49.5" y2="106.58" stroke="#1a1a1a" stroke-width="1.0"/>
<line x1="46.90" y1="114.36" x2="49.5" y2="114.36" stroke="#1a1a1a" stroke-width="1.0"/>
<line x1="46.90" y1="122.14" x2="49.5" y2="122.14" stroke="#1a1a1a" stroke-width="1.0"/>
<line x1="46.90" y1="129.92" x2="49.5" y2="129.92" stroke="#1a1a1a" stroke-width="1.0"/>
<line x1="46.90" y1="137.70" x2="49.5" y2="137.70" stroke="#1a1a1a" stroke-width="1.0"/>
<line x1="46.90" y1="145.48" x2="49.5" y2="145.48" stroke="#1a1a1a" stroke-width="1.0"/>
<line x1="46.90" y1="153.26" x2="49.5" y2="153.26" stroke="#1a1a1a" stroke-width="1.0"/>
<line x1="46.90" y1="161.04" x2="49.5" y2="161.04" stroke="#1a1a1a" stroke-width="1.0"/>
<line x1="53.50" y1="164.9" x2="53.50" y2="167.30" stroke="#1a1a1a" stroke-width="1.0"/>
<line x1="61.74" y1="164.9" x2="61.74" y2="167.30" stroke="#1a1a1a" stroke-width="1.0"/>
<line x1="69.98" y1="164.9" x2="69.98" y2="167.30" stroke="#1a1a1a" stroke-width="1.0"/>
<line x1="78.22" y1="164.9" x2="78.22" y2="167.30" stroke="#1a1a1a" stroke-width="1.0"/>
<line x1="86.46" y1="164.9" x2="86.46" y2="167.30" stroke="#1a1a1a" stroke-width="1.0"/>
<line x1="94.70" y1="164.9" x2="94.70" y2="167.30" stroke="#1a1a1a" stroke-width="1.0"/>
<line x1="102.94" y1="164.9" x2="102.94" y2="167.30" stroke="#1a1a1a" stroke-width="1.0"/>
<line x1="111.18" y1="164.9" x2="111.18" y2="167.30" stroke="#1a1a1a" stroke-width="1.0"/>
<line x1="119.42" y1="164.9" x2="119.42" y2="167.30" stroke="#1a1a1a" stroke-width="1.0"/>
<line x1="127.66" y1="164.9" x2="127.66" y2="167.30" stroke="#1a1a1a" stroke-width="1.0"/>
<line x1="135.90" y1="164.9" x2="135.90" y2="167.30" stroke="#1a1a1a" stroke-width="1.0"/>
<line x1="144.14" y1="164.9" x2="144.14" y2="167.30" stroke="#1a1a1a" stroke-width="1.0"/>
<line x1="152.38" y1="164.9" x2="152.38" y2="167.30" stroke="#1a1a1a" stroke-width="1.0"/>
<line x1="160.62" y1="164.9" x2="160.62" y2="167.30" stroke="#1a1a1a" stroke-width="1.0"/>
<line x1="168.86" y1="164.9" x2="168.86" y2="167.30" stroke="#1a1a1a" stroke-width="1.0"/>
<line x1="177.10" y1="164.9" x2="177.10" y2="167.30" stroke="#1a1a1a" stroke-width="1.0"/>
<line x1="185.34" y1="164.9" x2="185.34" y2="167.30" stroke="#1a1a1a" stroke-width="1.0"/>
<line x1="193.58" y1="164.9" x2="193.58" y2="167.30" stroke="#1a1a1a" stroke-width="1.0"/>
<line x1="201.82" y1="164.9" x2="201.82" y2="167.30" stroke="#1a1a1a" stroke-width="1.0"/>
<line x1="210.06" y1="164.9" x2="210.06" y2="167.30" stroke="#1a1a1a" stroke-width="1.0"/>
<line x1="218.30" y1="164.9" x2="218.30" y2="167.30" stroke="#1a1a1a" stroke-width="1.0"/>
<line x1="226.54" y1="164.9" x2="226.54" y2="167.30" stroke="#1a1a1a" stroke-width="1.0"/>
<line x1="234.78" y1="164.9" x2="234.78" y2="167.30" stroke="#1a1a1a" stroke-width="1.0"/>
<line x1="243.02" y1="164.9" x2="243.02" y2="167.30" stroke="#1a1a1a" stroke-width="1.0"/>
<path d="M261.60,94.7V164.9M270.46,94.7V164.9M279.32,94.7V164.9M288.18,94.7V164.9M297.04,94.7V164.9M305.90,94.7V164.9M314.76,94.7V164.9M323.62,94.7V164.9M332.48,94.7V164.9M341.34,94.7V164.9M350.20,94.7V164.9M359.06,94.7V164.9M367.92,94.7V164.9M376.78,94.7V164.9M385.64,94.7V164.9M394.50,94.7V164.9M403.36,94.7V164.9M412.22,94.7V164.9M421.08,94.7V164.9M256.6,98.80H426.6M256.6,106.58H426.6M256.6,114.36H426.6M256.6,122.14H426.6M256.6,129.92H426.6M256.6,137.70H426.6M256.6,145.48H426.6M256.6,153.26H426.6M256.6,161.04H426.6" stroke="#B6B6B6" stroke-width="1" fill="none"/>
<path d="M261.60,98.80h0M261.60,106.58h0M261.60,114.36h0M261.60,122.14h0M261.60,129.92h0M261.60,137.70h0M261.60,145.48h0M261.60,153.26h0M261.60,161.04h0M270.46,98.80h0M270.46,106.58h0M270.46,114.36h0M270.46,122.14h0M270.46,129.92h0M270.46,137.70h0M270.46,145.48h0M270.46,153.26h0M270.46,161.04h0M279.32,98.80h0M279.32,106.58h0M279.32,114.36h0M279.32,122.14h0M279.32,129.92h0M279.32,137.70h0M279.32,145.48h0M279.32,153.26h0M279.32,161.04h0M288.18,98.80h0M288.18,106.58h0M288.18,114.36h0M288.18,122.14h0M288.18,129.92h0M288.18,137.70h0M288.18,145.48h0M288.18,153.26h0M288.18,161.04h0M297.04,98.80h0M297.04,106.58h0M297.04,114.36h0M297.04,122.14h0M297.04,129.92h0M297.04,137.70h0M297.04,145.48h0M297.04,153.26h0M297.04,161.04h0M305.90,98.80h0M305.90,106.58h0M305.90,114.36h0M305.90,122.14h0M305.90,129.92h0M305.90,137.70h0M305.90,145.48h0M305.90,153.26h0M305.90,161.04h0M314.76,98.80h0M314.76,106.58h0M314.76,114.36h0M314.76,122.14h0M314.76,129.92h0M314.76,137.70h0M314.76,145.48h0M314.76,153.26h0M314.76,161.04h0M323.62,98.80h0M323.62,106.58h0M323.62,114.36h0M323.62,122.14h0M323.62,129.92h0M323.62,137.70h0M323.62,145.48h0M323.62,153.26h0M323.62,161.04h0M332.48,98.80h0M332.48,106.58h0M332.48,114.36h0M332.48,122.14h0M332.48,129.92h0M332.48,137.70h0M332.48,145.48h0M332.48,153.26h0M332.48,161.04h0M341.34,98.80h0M341.34,106.58h0M341.34,114.36h0M341.34,122.14h0M341.34,129.92h0M341.34,137.70h0M341.34,145.48h0M341.34,153.26h0M341.34,161.04h0M350.20,98.80h0M350.20,106.58h0M350.20,114.36h0M350.20,122.14h0M350.20,129.92h0M350.20,137.70h0M350.20,145.48h0M350.20,153.26h0M350.20,161.04h0M359.06,98.80h0M359.06,106.58h0M359.06,114.36h0M359.06,122.14h0M359.06,129.92h0M359.06,137.70h0M359.06,145.48h0M359.06,153.26h0M359.06,161.04h0M367.92,98.80h0M367.92,106.58h0M367.92,114.36h0M367.92,122.14h0M367.92,129.92h0M367.92,137.70h0M367.92,145.48h0M367.92,153.26h0M367.92,161.04h0M376.78,98.80h0M376.78,106.58h0M376.78,114.36h0M376.78,122.14h0M376.78,129.92h0M376.78,137.70h0M376.78,145.48h0M376.78,153.26h0M376.78,161.04h0M385.64,98.80h0M385.64,106.58h0M385.64,114.36h0M385.64,122.14h0M385.64,129.92h0M385.64,137.70h0M385.64,145.48h0M385.64,153.26h0M385.64,161.04h0M394.50,98.80h0M394.50,106.58h0M394.50,114.36h0M394.50,122.14h0M394.50,129.92h0M394.50,137.70h0M394.50,145.48h0M394.50,153.26h0M394.50,161.04h0M403.36,98.80h0M403.36,106.58h0M403.36,114.36h0M403.36,122.14h0M403.36,129.92h0M403.36,137.70h0M403.36,145.48h0M403.36,153.26h0M403.36,161.04h0M412.22,98.80h0M412.22,106.58h0M412.22,114.36h0M412.22,122.14h0M412.22,129.92h0M412.22,137.70h0M412.22,145.48h0M412.22,153.26h0M412.22,161.04h0M421.08,98.80h0M421.08,106.58h0M421.08,114.36h0M421.08,122.14h0M421.08,129.92h0M421.08,137.70h0M421.08,145.48h0M421.08,153.26h0M421.08,161.04h0" stroke="#EBDB88" stroke-width="1.7" stroke-linecap="round" fill="none"/>
<circle cx="288.18" cy="98.80" r="2.35" fill="#D9955A"/>
<circle cx="341.34" cy="98.80" r="3.95" fill="#D98D53"/>
<circle cx="385.64" cy="98.80" r="3.95" fill="#D98D53"/>
<circle cx="412.22" cy="98.80" r="3.95" fill="#D98D53"/>
<circle cx="421.08" cy="98.80" r="3.95" fill="#D6824D"/>
<circle cx="288.18" cy="106.58" r="2.35" fill="#D9955A"/>
<circle cx="332.48" cy="106.58" r="2.35" fill="#D9955A"/>
<circle cx="403.36" cy="106.58" r="3.95" fill="#D98D53"/>
<circle cx="412.22" cy="106.58" r="3.95" fill="#D06E48"/>
<circle cx="421.08" cy="106.58" r="3.95" fill="#D06E48"/>
<circle cx="288.18" cy="114.36" r="3.95" fill="#D98D53"/>
<circle cx="297.04" cy="114.36" r="3.95" fill="#D98D53"/>
<circle cx="323.62" cy="114.36" r="3.95" fill="#D06E48"/>
<circle cx="412.22" cy="114.36" r="3.95" fill="#D6824D"/>
<circle cx="421.08" cy="114.36" r="3.95" fill="#D06E48"/>
<circle cx="288.18" cy="122.14" r="3.95" fill="#D98D53"/>
<circle cx="297.04" cy="122.14" r="3.95" fill="#D98D53"/>
<circle cx="403.36" cy="122.14" r="3.95" fill="#D98D53"/>
<circle cx="412.22" cy="122.14" r="3.95" fill="#D6824D"/>
<circle cx="421.08" cy="122.14" r="3.95" fill="#D06E48"/>
<circle cx="279.32" cy="129.92" r="3.95" fill="#D9955A"/>
<circle cx="341.34" cy="129.92" r="3.95" fill="#D98D53"/>
<circle cx="385.64" cy="129.92" r="3.95" fill="#D98D53"/>
<circle cx="412.22" cy="129.92" r="3.95" fill="#D6824D"/>
<circle cx="421.08" cy="129.92" r="3.95" fill="#D06E48"/>
<circle cx="288.18" cy="137.70" r="3.95" fill="#D98D53"/>
<circle cx="341.34" cy="137.70" r="3.95" fill="#D98D53"/>
<circle cx="403.36" cy="137.70" r="3.95" fill="#D98D53"/>
<circle cx="412.22" cy="137.70" r="3.95" fill="#D6824D"/>
<circle cx="421.08" cy="137.70" r="3.95" fill="#D06E48"/>
<circle cx="288.18" cy="145.48" r="2.35" fill="#D98D53"/>
<circle cx="332.48" cy="145.48" r="3.95" fill="#D98D53"/>
<circle cx="385.64" cy="145.48" r="3.95" fill="#D06E48"/>
<circle cx="412.22" cy="145.48" r="3.95" fill="#D6824D"/>
<circle cx="421.08" cy="145.48" r="3.95" fill="#D06E48"/>
<circle cx="288.18" cy="153.26" r="3.95" fill="#D98D53"/>
<circle cx="297.04" cy="153.26" r="3.95" fill="#D98D53"/>
<circle cx="376.78" cy="153.26" r="3.95" fill="#D98D53"/>
<circle cx="403.36" cy="153.26" r="3.95" fill="#D98D53"/>
<circle cx="421.08" cy="153.26" r="3.95" fill="#D06E48"/>
<circle cx="305.90" cy="161.04" r="3.95" fill="#D9955A"/>
<circle cx="376.78" cy="161.04" r="3.95" fill="#D98D53"/>
<circle cx="385.64" cy="161.04" r="3.95" fill="#D98D53"/>
<circle cx="412.22" cy="161.04" r="3.95" fill="#D6824D"/>
<circle cx="421.08" cy="161.04" r="3.95" fill="#D06E48"/>
<rect x="256.5" y="94.5" width="170.00" height="70.00" fill="none" stroke="#2a2a2a" stroke-width="1.1"/>
<line x1="261.60" y1="164.9" x2="261.60" y2="167.30" stroke="#1a1a1a" stroke-width="1.0"/>
<line x1="270.46" y1="164.9" x2="270.46" y2="167.30" stroke="#1a1a1a" stroke-width="1.0"/>
<line x1="279.32" y1="164.9" x2="279.32" y2="167.30" stroke="#1a1a1a" stroke-width="1.0"/>
<line x1="288.18" y1="164.9" x2="288.18" y2="167.30" stroke="#1a1a1a" stroke-width="1.0"/>
<line x1="297.04" y1="164.9" x2="297.04" y2="167.30" stroke="#1a1a1a" stroke-width="1.0"/>
<line x1="305.90" y1="164.9" x2="305.90" y2="167.30" stroke="#1a1a1a" stroke-width="1.0"/>
<line x1="314.76" y1="164.9" x2="314.76" y2="167.30" stroke="#1a1a1a" stroke-width="1.0"/>
<line x1="323.62" y1="164.9" x2="323.62" y2="167.30" stroke="#1a1a1a" stroke-width="1.0"/>
<line x1="332.48" y1="164.9" x2="332.48" y2="167.30" stroke="#1a1a1a" stroke-width="1.0"/>
<line x1="341.34" y1="164.9" x2="341.34" y2="167.30" stroke="#1a1a1a" stroke-width="1.0"/>
<line x1="350.20" y1="164.9" x2="350.20" y2="167.30" stroke="#1a1a1a" stroke-width="1.0"/>
<line x1="359.06" y1="164.9" x2="359.06" y2="167.30" stroke="#1a1a1a" stroke-width="1.0"/>
<line x1="367.92" y1="164.9" x2="367.92" y2="167.30" stroke="#1a1a1a" stroke-width="1.0"/>
<line x1="376.78" y1="164.9" x2="376.78" y2="167.30" stroke="#1a1a1a" stroke-width="1.0"/>
<line x1="385.64" y1="164.9" x2="385.64" y2="167.30" stroke="#1a1a1a" stroke-width="1.0"/>
<line x1="394.50" y1="164.9" x2="394.50" y2="167.30" stroke="#1a1a1a" stroke-width="1.0"/>
<line x1="403.36" y1="164.9" x2="403.36" y2="167.30" stroke="#1a1a1a" stroke-width="1.0"/>
<line x1="412.22" y1="164.9" x2="412.22" y2="167.30" stroke="#1a1a1a" stroke-width="1.0"/>
<line x1="421.08" y1="164.9" x2="421.08" y2="167.30" stroke="#1a1a1a" stroke-width="1.0"/>
<path d="M439.40,94.7V164.9M447.01,94.7V164.9M454.62,94.7V164.9M462.24,94.7V164.9M469.85,94.7V164.9M477.46,94.7V164.9M485.07,94.7V164.9M492.68,94.7V164.9M500.30,94.7V164.9M507.91,94.7V164.9M515.52,94.7V164.9M523.13,94.7V164.9M530.74,94.7V164.9M538.36,94.7V164.9M545.97,94.7V164.9M553.58,94.7V164.9M561.19,94.7V164.9M568.80,94.7V164.9M576.42,94.7V164.9M584.03,94.7V164.9M591.64,94.7V164.9M599.25,94.7V164.9M606.86,94.7V164.9M614.48,94.7V164.9M622.09,94.7V164.9M629.70,94.7V164.9M637.31,94.7V164.9M435.0,98.80H641.3M435.0,106.58H641.3M435.0,114.36H641.3M435.0,122.14H641.3M435.0,129.92H641.3M435.0,137.70H641.3M435.0,145.48H641.3M435.0,153.26H641.3M435.0,161.04H641.3" stroke="#B6B6B6" stroke-width="1" fill="none"/>
<path d="M439.40,98.80h0M439.40,106.58h0M439.40,114.36h0M439.40,122.14h0M439.40,129.92h0M439.40,137.70h0M439.40,145.48h0M439.40,153.26h0M439.40,161.04h0M447.01,98.80h0M447.01,106.58h0M447.01,114.36h0M447.01,122.14h0M447.01,129.92h0M447.01,137.70h0M447.01,145.48h0M447.01,153.26h0M447.01,161.04h0M454.62,98.80h0M454.62,106.58h0M454.62,114.36h0M454.62,122.14h0M454.62,129.92h0M454.62,137.70h0M454.62,145.48h0M454.62,153.26h0M454.62,161.04h0M462.24,98.80h0M462.24,106.58h0M462.24,114.36h0M462.24,122.14h0M462.24,129.92h0M462.24,137.70h0M462.24,145.48h0M462.24,153.26h0M462.24,161.04h0M469.85,98.80h0M469.85,106.58h0M469.85,114.36h0M469.85,122.14h0M469.85,129.92h0M469.85,137.70h0M469.85,145.48h0M469.85,153.26h0M469.85,161.04h0M477.46,98.80h0M477.46,106.58h0M477.46,114.36h0M477.46,122.14h0M477.46,129.92h0M477.46,137.70h0M477.46,145.48h0M477.46,153.26h0M477.46,161.04h0M485.07,98.80h0M485.07,106.58h0M485.07,114.36h0M485.07,122.14h0M485.07,129.92h0M485.07,137.70h0M485.07,145.48h0M485.07,153.26h0M485.07,161.04h0M492.68,98.80h0M492.68,106.58h0M492.68,114.36h0M492.68,122.14h0M492.68,129.92h0M492.68,137.70h0M492.68,145.48h0M492.68,153.26h0M492.68,161.04h0M500.30,98.80h0M500.30,106.58h0M500.30,114.36h0M500.30,122.14h0M500.30,129.92h0M500.30,137.70h0M500.30,145.48h0M500.30,153.26h0M500.30,161.04h0M507.91,98.80h0M507.91,106.58h0M507.91,114.36h0M507.91,122.14h0M507.91,129.92h0M507.91,137.70h0M507.91,145.48h0M507.91,153.26h0M507.91,161.04h0M515.52,98.80h0M515.52,106.58h0M515.52,114.36h0M515.52,122.14h0M515.52,129.92h0M515.52,137.70h0M515.52,145.48h0M515.52,153.26h0M515.52,161.04h0M523.13,98.80h0M523.13,106.58h0M523.13,114.36h0M523.13,122.14h0M523.13,129.92h0M523.13,137.70h0M523.13,145.48h0M523.13,153.26h0M523.13,161.04h0M530.74,98.80h0M530.74,106.58h0M530.74,114.36h0M530.74,122.14h0M530.74,129.92h0M530.74,137.70h0M530.74,145.48h0M530.74,153.26h0M530.74,161.04h0M538.36,98.80h0M538.36,106.58h0M538.36,114.36h0M538.36,122.14h0M538.36,129.92h0M538.36,137.70h0M538.36,145.48h0M538.36,153.26h0M538.36,161.04h0M545.97,98.80h0M545.97,106.58h0M545.97,114.36h0M545.97,122.14h0M545.97,129.92h0M545.97,137.70h0M545.97,145.48h0M545.97,153.26h0M545.97,161.04h0M553.58,98.80h0M553.58,106.58h0M553.58,114.36h0M553.58,122.14h0M553.58,129.92h0M553.58,137.70h0M553.58,145.48h0M553.58,153.26h0M553.58,161.04h0M561.19,98.80h0M561.19,106.58h0M561.19,114.36h0M561.19,122.14h0M561.19,129.92h0M561.19,137.70h0M561.19,145.48h0M561.19,153.26h0M561.19,161.04h0M568.80,98.80h0M568.80,106.58h0M568.80,114.36h0M568.80,122.14h0M568.80,129.92h0M568.80,137.70h0M568.80,145.48h0M568.80,153.26h0M568.80,161.04h0M576.42,98.80h0M576.42,106.58h0M576.42,114.36h0M576.42,122.14h0M576.42,129.92h0M576.42,137.70h0M576.42,145.48h0M576.42,153.26h0M576.42,161.04h0M584.03,98.80h0M584.03,106.58h0M584.03,114.36h0M584.03,122.14h0M584.03,129.92h0M584.03,137.70h0M584.03,145.48h0M584.03,153.26h0M584.03,161.04h0M591.64,98.80h0M591.64,106.58h0M591.64,114.36h0M591.64,122.14h0M591.64,129.92h0M591.64,137.70h0M591.64,145.48h0M591.64,153.26h0M591.64,161.04h0M599.25,98.80h0M599.25,106.58h0M599.25,114.36h0M599.25,122.14h0M599.25,129.92h0M599.25,137.70h0M599.25,145.48h0M599.25,153.26h0M599.25,161.04h0M606.86,98.80h0M606.86,106.58h0M606.86,114.36h0M606.86,122.14h0M606.86,129.92h0M606.86,137.70h0M606.86,145.48h0M606.86,153.26h0M606.86,161.04h0M614.48,98.80h0M614.48,106.58h0M614.48,114.36h0M614.48,122.14h0M614.48,129.92h0M614.48,137.70h0M614.48,145.48h0M614.48,153.26h0M614.48,161.04h0M622.09,98.80h0M622.09,106.58h0M622.09,114.36h0M622.09,122.14h0M622.09,129.92h0M622.09,137.70h0M622.09,145.48h0M622.09,153.26h0M622.09,161.04h0M629.70,98.80h0M629.70,106.58h0M629.70,114.36h0M629.70,122.14h0M629.70,129.92h0M629.70,137.70h0M629.70,145.48h0M629.70,153.26h0M629.70,161.04h0M637.31,98.80h0M637.31,106.58h0M637.31,114.36h0M637.31,122.14h0M637.31,129.92h0M637.31,137.70h0M637.31,145.48h0M637.31,153.26h0M637.31,161.04h0" stroke="#EBDB88" stroke-width="1.7" stroke-linecap="round" fill="none"/>
<circle cx="439.40" cy="98.80" r="3.95" fill="#8EB4D5"/>
<circle cx="447.01" cy="98.80" r="3.95" fill="#95BBD8"/>
<circle cx="454.62" cy="98.80" r="1.40" fill="#C8E0E0"/>
<circle cx="469.85" cy="98.80" r="1.40" fill="#C4DFE7"/>
<circle cx="507.91" cy="98.80" r="3.95" fill="#D6824D"/>
<circle cx="545.97" cy="98.80" r="3.95" fill="#D9955A"/>
<circle cx="614.48" cy="98.80" r="3.95" fill="#D9955A"/>
<circle cx="629.70" cy="98.80" r="3.95" fill="#D6824D"/>
<circle cx="637.31" cy="98.80" r="3.95" fill="#D06B46"/>
<circle cx="439.40" cy="106.58" r="3.95" fill="#93B9D7"/>
<circle cx="447.01" cy="106.58" r="3.95" fill="#9CC2DC"/>
<circle cx="599.25" cy="106.58" r="3.95" fill="#D6824D"/>
<circle cx="606.86" cy="106.58" r="3.95" fill="#D6824D"/>
<circle cx="614.48" cy="106.58" r="3.95" fill="#D9955A"/>
<circle cx="629.70" cy="106.58" r="3.95" fill="#D06B46"/>
<circle cx="637.31" cy="106.58" r="3.95" fill="#D06B46"/>
<circle cx="439.40" cy="114.36" r="3.95" fill="#93B9D7"/>
<circle cx="447.01" cy="114.36" r="3.95" fill="#9CC2DC"/>
<circle cx="591.64" cy="114.36" r="3.95" fill="#D6824D"/>
<circle cx="606.86" cy="114.36" r="3.95" fill="#D6824D"/>
<circle cx="614.48" cy="114.36" r="3.95" fill="#D6824D"/>
<circle cx="629.70" cy="114.36" r="3.95" fill="#D06B46"/>
<circle cx="637.31" cy="114.36" r="3.95" fill="#D06B46"/>
<circle cx="439.40" cy="122.14" r="3.95" fill="#98BEDA"/>
<circle cx="447.01" cy="122.14" r="3.95" fill="#A2C7DE"/>
<circle cx="591.64" cy="122.14" r="3.95" fill="#D6824D"/>
<circle cx="599.25" cy="122.14" r="3.95" fill="#D6824D"/>
<circle cx="614.48" cy="122.14" r="3.95" fill="#D6824D"/>
<circle cx="629.70" cy="122.14" r="3.95" fill="#CC6242"/>
<circle cx="637.31" cy="122.14" r="3.95" fill="#D06B46"/>
<circle cx="439.40" cy="129.92" r="3.95" fill="#98BEDA"/>
<circle cx="447.01" cy="129.92" r="3.95" fill="#A0C5DE"/>
<circle cx="462.24" cy="129.92" r="1.40" fill="#C4DFE7"/>
<circle cx="591.64" cy="129.92" r="3.95" fill="#D6824D"/>
<circle cx="599.25" cy="129.92" r="3.95" fill="#D6824D"/>
<circle cx="614.48" cy="129.92" r="3.95" fill="#D6824D"/>
<circle cx="629.70" cy="129.92" r="3.95" fill="#D06B46"/>
<circle cx="637.31" cy="129.92" r="3.95" fill="#D06B46"/>
<circle cx="439.40" cy="137.70" r="3.95" fill="#90B6D6"/>
<circle cx="447.01" cy="137.70" r="3.95" fill="#98BEDA"/>
<circle cx="500.30" cy="137.70" r="3.95" fill="#D06E48"/>
<circle cx="507.91" cy="137.70" r="3.95" fill="#D6824D"/>
<circle cx="584.03" cy="137.70" r="3.95" fill="#D9955A"/>
<circle cx="591.64" cy="137.70" r="3.95" fill="#D6824D"/>
<circle cx="614.48" cy="137.70" r="3.95" fill="#D6824D"/>
<circle cx="439.40" cy="145.48" r="3.95" fill="#8EB4D5"/>
<circle cx="447.01" cy="145.48" r="3.95" fill="#9CC2DC"/>
<circle cx="462.24" cy="145.48" r="1.40" fill="#C4DFE7"/>
<circle cx="591.64" cy="145.48" r="3.95" fill="#D6824D"/>
<circle cx="599.25" cy="145.48" r="3.95" fill="#D06E48"/>
<circle cx="614.48" cy="145.48" r="3.95" fill="#D6824D"/>
<circle cx="629.70" cy="145.48" r="3.95" fill="#CE6644"/>
<circle cx="637.31" cy="145.48" r="3.95" fill="#CE6644"/>
<circle cx="439.40" cy="153.26" r="3.95" fill="#8AB0D3"/>
<circle cx="447.01" cy="153.26" r="3.95" fill="#98BEDA"/>
<circle cx="606.86" cy="153.26" r="3.95" fill="#D6824D"/>
<circle cx="614.48" cy="153.26" r="3.95" fill="#D6824D"/>
<circle cx="622.09" cy="153.26" r="3.95" fill="#D6824D"/>
<circle cx="629.70" cy="153.26" r="3.95" fill="#CE6644"/>
<circle cx="637.31" cy="153.26" r="3.95" fill="#D06B46"/>
<circle cx="439.40" cy="161.04" r="3.95" fill="#93B9D7"/>
<circle cx="447.01" cy="161.04" r="3.95" fill="#A0C5DE"/>
<circle cx="454.62" cy="161.04" r="1.40" fill="#C8E0E0"/>
<circle cx="606.86" cy="161.04" r="3.95" fill="#D6824D"/>
<circle cx="614.48" cy="161.04" r="3.95" fill="#D6824D"/>
<circle cx="622.09" cy="161.04" r="3.95" fill="#D6824D"/>
<circle cx="629.70" cy="161.04" r="3.95" fill="#D06B46"/>
<circle cx="637.31" cy="161.04" r="3.95" fill="#D06B46"/>
<rect x="434.5" y="94.5" width="207.00" height="70.00" fill="none" stroke="#2a2a2a" stroke-width="1.1"/>
<line x1="439.40" y1="164.9" x2="439.40" y2="167.30" stroke="#1a1a1a" stroke-width="1.0"/>
<line x1="447.01" y1="164.9" x2="447.01" y2="167.30" stroke="#1a1a1a" stroke-width="1.0"/>
<line x1="454.62" y1="164.9" x2="454.62" y2="167.30" stroke="#1a1a1a" stroke-width="1.0"/>
<line x1="462.24" y1="164.9" x2="462.24" y2="167.30" stroke="#1a1a1a" stroke-width="1.0"/>
<line x1="469.85" y1="164.9" x2="469.85" y2="167.30" stroke="#1a1a1a" stroke-width="1.0"/>
<line x1="477.46" y1="164.9" x2="477.46" y2="167.30" stroke="#1a1a1a" stroke-width="1.0"/>
<line x1="485.07" y1="164.9" x2="485.07" y2="167.30" stroke="#1a1a1a" stroke-width="1.0"/>
<line x1="492.68" y1="164.9" x2="492.68" y2="167.30" stroke="#1a1a1a" stroke-width="1.0"/>
<line x1="500.30" y1="164.9" x2="500.30" y2="167.30" stroke="#1a1a1a" stroke-width="1.0"/>
<line x1="507.91" y1="164.9" x2="507.91" y2="167.30" stroke="#1a1a1a" stroke-width="1.0"/>
<line x1="515.52" y1="164.9" x2="515.52" y2="167.30" stroke="#1a1a1a" stroke-width="1.0"/>
<line x1="523.13" y1="164.9" x2="523.13" y2="167.30" stroke="#1a1a1a" stroke-width="1.0"/>
<line x1="530.74" y1="164.9" x2="530.74" y2="167.30" stroke="#1a1a1a" stroke-width="1.0"/>
<line x1="538.36" y1="164.9" x2="538.36" y2="167.30" stroke="#1a1a1a" stroke-width="1.0"/>
<line x1="545.97" y1="164.9" x2="545.97" y2="167.30" stroke="#1a1a1a" stroke-width="1.0"/>
<line x1="553.58" y1="164.9" x2="553.58" y2="167.30" stroke="#1a1a1a" stroke-width="1.0"/>
<line x1="561.19" y1="164.9" x2="561.19" y2="167.30" stroke="#1a1a1a" stroke-width="1.0"/>
<line x1="568.80" y1="164.9" x2="568.80" y2="167.30" stroke="#1a1a1a" stroke-width="1.0"/>
<line x1="576.42" y1="164.9" x2="576.42" y2="167.30" stroke="#1a1a1a" stroke-width="1.0"/>
<line x1="584.03" y1="164.9" x2="584.03" y2="167.30" stroke="#1a1a1a" stroke-width="1.0"/>
<line x1="591.64" y1="164.9" x2="591.64" y2="167.30" stroke="#1a1a1a" stroke-width="1.0"/>
<line x1="599.25" y1="164.9" x2="599.25" y2="167.30" stroke="#1a1a1a" stroke-width="1.0"/>
<line x1="606.86" y1="164.9" x2="606.86" y2="167.30" stroke="#1a1a1a" stroke-width="1.0"/>
<line x1="614.48" y1="164.9" x2="614.48" y2="167.30" stroke="#1a1a1a" stroke-width="1.0"/>
<line x1="622.09" y1="164.9" x2="622.09" y2="167.30" stroke="#1a1a1a" stroke-width="1.0"/>
<line x1="629.70" y1="164.9" x2="629.70" y2="167.30" stroke="#1a1a1a" stroke-width="1.0"/>
<line x1="637.31" y1="164.9" x2="637.31" y2="167.30" stroke="#1a1a1a" stroke-width="1.0"/>
<text x="45.2" y="100.78" font-size="8.0" text-anchor="end" fill="#262626" stroke="#262626" stroke-width="0.22" font-weight="normal" >M−IEP</text>
<text x="45.2" y="108.78" font-size="8.0" text-anchor="end" fill="#262626" stroke="#262626" stroke-width="0.22" font-weight="normal" >M−EEP</text>
<text x="45.2" y="116.78" font-size="8.0" text-anchor="end" fill="#262626" stroke="#262626" stroke-width="0.22" font-weight="normal" >M−EP</text>
<text x="45.2" y="124.78" font-size="8.0" text-anchor="end" fill="#262626" stroke="#262626" stroke-width="0.22" font-weight="normal" >F−IEP</text>
<text x="45.2" y="132.78" font-size="8.0" text-anchor="end" fill="#262626" stroke="#262626" stroke-width="0.22" font-weight="normal" >F−EEP</text>
<text x="45.2" y="140.78" font-size="8.0" text-anchor="end" fill="#262626" stroke="#262626" stroke-width="0.22" font-weight="normal" >F−EP</text>
<text x="45.2" y="148.78" font-size="8.0" text-anchor="end" fill="#262626" stroke="#262626" stroke-width="0.22" font-weight="normal" >O−IEP</text>
<text x="45.2" y="156.78" font-size="8.0" text-anchor="end" fill="#262626" stroke="#262626" stroke-width="0.22" font-weight="normal" >O−EEP</text>
<text x="45.2" y="164.78" font-size="8.0" text-anchor="end" fill="#262626" stroke="#262626" stroke-width="0.22" font-weight="normal" >O−EP</text>
<text x="0" y="0" font-size="12" text-anchor="middle" fill="#111" stroke="#111" stroke-width="0.22" font-weight="normal" transform="translate(13.8,130.4) rotate(-90)">PLS2</text>
<path d="M53.50,173.4V243.3M61.74,173.4V243.3M69.98,173.4V243.3M78.22,173.4V243.3M86.46,173.4V243.3M94.70,173.4V243.3M102.94,173.4V243.3M111.18,173.4V243.3M119.42,173.4V243.3M127.66,173.4V243.3M135.90,173.4V243.3M144.14,173.4V243.3M152.38,173.4V243.3M160.62,173.4V243.3M168.86,173.4V243.3M177.10,173.4V243.3M185.34,173.4V243.3M193.58,173.4V243.3M201.82,173.4V243.3M210.06,173.4V243.3M218.30,173.4V243.3M226.54,173.4V243.3M234.78,173.4V243.3M243.02,173.4V243.3M49.5,177.40H248.3M49.5,185.16H248.3M49.5,192.92H248.3M49.5,200.68H248.3M49.5,208.44H248.3M49.5,216.20H248.3M49.5,223.96H248.3M49.5,231.72H248.3M49.5,239.48H248.3" stroke="#B6B6B6" stroke-width="1" fill="none"/>
<path d="M53.50,177.40h0M53.50,185.16h0M53.50,192.92h0M53.50,200.68h0M53.50,208.44h0M53.50,216.20h0M53.50,223.96h0M53.50,231.72h0M53.50,239.48h0M61.74,177.40h0M61.74,185.16h0M61.74,192.92h0M61.74,200.68h0M61.74,208.44h0M61.74,216.20h0M61.74,223.96h0M61.74,231.72h0M61.74,239.48h0M69.98,177.40h0M69.98,185.16h0M69.98,192.92h0M69.98,200.68h0M69.98,208.44h0M69.98,216.20h0M69.98,223.96h0M69.98,231.72h0M69.98,239.48h0M78.22,177.40h0M78.22,185.16h0M78.22,192.92h0M78.22,200.68h0M78.22,208.44h0M78.22,216.20h0M78.22,223.96h0M78.22,231.72h0M78.22,239.48h0M86.46,177.40h0M86.46,185.16h0M86.46,192.92h0M86.46,200.68h0M86.46,208.44h0M86.46,216.20h0M86.46,223.96h0M86.46,231.72h0M86.46,239.48h0M94.70,177.40h0M94.70,185.16h0M94.70,192.92h0M94.70,200.68h0M94.70,208.44h0M94.70,216.20h0M94.70,223.96h0M94.70,231.72h0M94.70,239.48h0M102.94,177.40h0M102.94,185.16h0M102.94,192.92h0M102.94,200.68h0M102.94,208.44h0M102.94,216.20h0M102.94,223.96h0M102.94,231.72h0M102.94,239.48h0M111.18,177.40h0M111.18,185.16h0M111.18,192.92h0M111.18,200.68h0M111.18,208.44h0M111.18,216.20h0M111.18,223.96h0M111.18,231.72h0M111.18,239.48h0M119.42,177.40h0M119.42,185.16h0M119.42,192.92h0M119.42,200.68h0M119.42,208.44h0M119.42,216.20h0M119.42,223.96h0M119.42,231.72h0M119.42,239.48h0M127.66,177.40h0M127.66,185.16h0M127.66,192.92h0M127.66,200.68h0M127.66,208.44h0M127.66,216.20h0M127.66,223.96h0M127.66,231.72h0M127.66,239.48h0M135.90,177.40h0M135.90,185.16h0M135.90,192.92h0M135.90,200.68h0M135.90,208.44h0M135.90,216.20h0M135.90,223.96h0M135.90,231.72h0M135.90,239.48h0M144.14,177.40h0M144.14,185.16h0M144.14,192.92h0M144.14,200.68h0M144.14,208.44h0M144.14,216.20h0M144.14,223.96h0M144.14,231.72h0M144.14,239.48h0M152.38,177.40h0M152.38,185.16h0M152.38,192.92h0M152.38,200.68h0M152.38,208.44h0M152.38,216.20h0M152.38,223.96h0M152.38,231.72h0M152.38,239.48h0M160.62,177.40h0M160.62,185.16h0M160.62,192.92h0M160.62,200.68h0M160.62,208.44h0M160.62,216.20h0M160.62,223.96h0M160.62,231.72h0M160.62,239.48h0M168.86,177.40h0M168.86,185.16h0M168.86,192.92h0M168.86,200.68h0M168.86,208.44h0M168.86,216.20h0M168.86,223.96h0M168.86,231.72h0M168.86,239.48h0M177.10,177.40h0M177.10,185.16h0M177.10,192.92h0M177.10,200.68h0M177.10,208.44h0M177.10,216.20h0M177.10,223.96h0M177.10,231.72h0M177.10,239.48h0M185.34,177.40h0M185.34,185.16h0M185.34,192.92h0M185.34,200.68h0M185.34,208.44h0M185.34,216.20h0M185.34,223.96h0M185.34,231.72h0M185.34,239.48h0M193.58,177.40h0M193.58,185.16h0M193.58,192.92h0M193.58,200.68h0M193.58,208.44h0M193.58,216.20h0M193.58,223.96h0M193.58,231.72h0M193.58,239.48h0M201.82,177.40h0M201.82,185.16h0M201.82,192.92h0M201.82,200.68h0M201.82,208.44h0M201.82,216.20h0M201.82,223.96h0M201.82,231.72h0M201.82,239.48h0M210.06,177.40h0M210.06,185.16h0M210.06,192.92h0M210.06,200.68h0M210.06,208.44h0M210.06,216.20h0M210.06,223.96h0M210.06,231.72h0M210.06,239.48h0M218.30,177.40h0M218.30,185.16h0M218.30,192.92h0M218.30,200.68h0M218.30,208.44h0M218.30,216.20h0M218.30,223.96h0M218.30,231.72h0M218.30,239.48h0M226.54,177.40h0M226.54,185.16h0M226.54,192.92h0M226.54,200.68h0M226.54,208.44h0M226.54,216.20h0M226.54,223.96h0M226.54,231.72h0M226.54,239.48h0M234.78,177.40h0M234.78,185.16h0M234.78,192.92h0M234.78,200.68h0M234.78,208.44h0M234.78,216.20h0M234.78,223.96h0M234.78,231.72h0M234.78,239.48h0M243.02,177.40h0M243.02,185.16h0M243.02,192.92h0M243.02,200.68h0M243.02,208.44h0M243.02,216.20h0M243.02,223.96h0M243.02,231.72h0M243.02,239.48h0" stroke="#EBDB88" stroke-width="1.7" stroke-linecap="round" fill="none"/>
<circle cx="102.94" cy="177.40" r="3.95" fill="#D9955A"/>
<circle cx="152.38" cy="177.40" r="3.95" fill="#D6824D"/>
<circle cx="193.58" cy="177.40" r="3.95" fill="#D6824D"/>
<circle cx="201.82" cy="177.40" r="3.95" fill="#D6824D"/>
<circle cx="243.02" cy="177.40" r="3.95" fill="#C95C3F"/>
<circle cx="102.94" cy="185.16" r="3.95" fill="#D6824D"/>
<circle cx="152.38" cy="185.16" r="3.95" fill="#D6824D"/>
<circle cx="193.58" cy="185.16" r="3.95" fill="#D6824D"/>
<circle cx="201.82" cy="185.16" r="3.95" fill="#D6824D"/>
<circle cx="243.02" cy="185.16" r="3.95" fill="#C95C3F"/>
<circle cx="102.94" cy="192.92" r="3.95" fill="#D9955A"/>
<circle cx="160.62" cy="192.92" r="3.95" fill="#D6824D"/>
<circle cx="193.58" cy="192.92" r="3.95" fill="#D6824D"/>
<circle cx="201.82" cy="192.92" r="3.95" fill="#D6824D"/>
<circle cx="243.02" cy="192.92" r="3.95" fill="#C95C3F"/>
<circle cx="185.34" cy="200.68" r="3.95" fill="#D6824D"/>
<circle cx="193.58" cy="200.68" r="3.95" fill="#D6824D"/>
<circle cx="218.30" cy="200.68" r="3.95" fill="#D6824D"/>
<circle cx="226.54" cy="200.68" r="3.95" fill="#D6824D"/>
<circle cx="243.02" cy="200.68" r="3.95" fill="#D06E48"/>
<circle cx="94.70" cy="208.44" r="3.95" fill="#D6824D"/>
<circle cx="102.94" cy="208.44" r="3.95" fill="#D6824D"/>
<circle cx="152.38" cy="208.44" r="3.95" fill="#D06E48"/>
<circle cx="201.82" cy="208.44" r="3.95" fill="#D06E48"/>
<circle cx="243.02" cy="208.44" r="3.95" fill="#C24E3A"/>
<circle cx="102.94" cy="216.20" r="3.95" fill="#D6824D"/>
<circle cx="152.38" cy="216.20" r="3.95" fill="#D6824D"/>
<circle cx="193.58" cy="216.20" r="3.95" fill="#D6824D"/>
<circle cx="201.82" cy="216.20" r="3.95" fill="#D6824D"/>
<circle cx="243.02" cy="216.20" r="3.95" fill="#C95C3F"/>
<circle cx="94.70" cy="223.96" r="3.95" fill="#D9955A"/>
<circle cx="152.38" cy="223.96" r="3.95" fill="#D6824D"/>
<circle cx="160.62" cy="223.96" r="3.95" fill="#D6824D"/>
<circle cx="201.82" cy="223.96" r="3.95" fill="#D6824D"/>
<circle cx="243.02" cy="223.96" r="3.95" fill="#C95C3F"/>
<circle cx="185.34" cy="231.72" r="3.95" fill="#D6824D"/>
<circle cx="201.82" cy="231.72" r="3.95" fill="#D6824D"/>
<circle cx="218.30" cy="231.72" r="3.95" fill="#D6824D"/>
<circle cx="226.54" cy="231.72" r="3.95" fill="#D6824D"/>
<circle cx="243.02" cy="231.72" r="3.95" fill="#C95C3F"/>
<circle cx="193.58" cy="239.48" r="3.95" fill="#D6824D"/>
<circle cx="201.82" cy="239.48" r="3.95" fill="#D6824D"/>
<circle cx="218.30" cy="239.48" r="3.95" fill="#D6824D"/>
<circle cx="226.54" cy="239.48" r="3.95" fill="#D06E48"/>
<circle cx="243.02" cy="239.48" r="3.95" fill="#C95C3F"/>
<rect x="49.5" y="173.5" width="199.00" height="70.00" fill="none" stroke="#2a2a2a" stroke-width="1.1"/>
<line x1="46.90" y1="177.40" x2="49.5" y2="177.40" stroke="#1a1a1a" stroke-width="1.0"/>
<line x1="46.90" y1="185.16" x2="49.5" y2="185.16" stroke="#1a1a1a" stroke-width="1.0"/>
<line x1="46.90" y1="192.92" x2="49.5" y2="192.92" stroke="#1a1a1a" stroke-width="1.0"/>
<line x1="46.90" y1="200.68" x2="49.5" y2="200.68" stroke="#1a1a1a" stroke-width="1.0"/>
<line x1="46.90" y1="208.44" x2="49.5" y2="208.44" stroke="#1a1a1a" stroke-width="1.0"/>
<line x1="46.90" y1="216.20" x2="49.5" y2="216.20" stroke="#1a1a1a" stroke-width="1.0"/>
<line x1="46.90" y1="223.96" x2="49.5" y2="223.96" stroke="#1a1a1a" stroke-width="1.0"/>
<line x1="46.90" y1="231.72" x2="49.5" y2="231.72" stroke="#1a1a1a" stroke-width="1.0"/>
<line x1="46.90" y1="239.48" x2="49.5" y2="239.48" stroke="#1a1a1a" stroke-width="1.0"/>
<line x1="53.50" y1="243.3" x2="53.50" y2="245.70" stroke="#1a1a1a" stroke-width="1.0"/>
<line x1="61.74" y1="243.3" x2="61.74" y2="245.70" stroke="#1a1a1a" stroke-width="1.0"/>
<line x1="69.98" y1="243.3" x2="69.98" y2="245.70" stroke="#1a1a1a" stroke-width="1.0"/>
<line x1="78.22" y1="243.3" x2="78.22" y2="245.70" stroke="#1a1a1a" stroke-width="1.0"/>
<line x1="86.46" y1="243.3" x2="86.46" y2="245.70" stroke="#1a1a1a" stroke-width="1.0"/>
<line x1="94.70" y1="243.3" x2="94.70" y2="245.70" stroke="#1a1a1a" stroke-width="1.0"/>
<line x1="102.94" y1="243.3" x2="102.94" y2="245.70" stroke="#1a1a1a" stroke-width="1.0"/>
<line x1="111.18" y1="243.3" x2="111.18" y2="245.70" stroke="#1a1a1a" stroke-width="1.0"/>
<line x1="119.42" y1="243.3" x2="119.42" y2="245.70" stroke="#1a1a1a" stroke-width="1.0"/>
<line x1="127.66" y1="243.3" x2="127.66" y2="245.70" stroke="#1a1a1a" stroke-width="1.0"/>
<line x1="135.90" y1="243.3" x2="135.90" y2="245.70" stroke="#1a1a1a" stroke-width="1.0"/>
<line x1="144.14" y1="243.3" x2="144.14" y2="245.70" stroke="#1a1a1a" stroke-width="1.0"/>
<line x1="152.38" y1="243.3" x2="152.38" y2="245.70" stroke="#1a1a1a" stroke-width="1.0"/>
<line x1="160.62" y1="243.3" x2="160.62" y2="245.70" stroke="#1a1a1a" stroke-width="1.0"/>
<line x1="168.86" y1="243.3" x2="168.86" y2="245.70" stroke="#1a1a1a" stroke-width="1.0"/>
<line x1="177.10" y1="243.3" x2="177.10" y2="245.70" stroke="#1a1a1a" stroke-width="1.0"/>
<line x1="185.34" y1="243.3" x2="185.34" y2="245.70" stroke="#1a1a1a" stroke-width="1.0"/>
<line x1="193.58" y1="243.3" x2="193.58" y2="245.70" stroke="#1a1a1a" stroke-width="1.0"/>
<line x1="201.82" y1="243.3" x2="201.82" y2="245.70" stroke="#1a1a1a" stroke-width="1.0"/>
<line x1="210.06" y1="243.3" x2="210.06" y2="245.70" stroke="#1a1a1a" stroke-width="1.0"/>
<line x1="218.30" y1="243.3" x2="218.30" y2="245.70" stroke="#1a1a1a" stroke-width="1.0"/>
<line x1="226.54" y1="243.3" x2="226.54" y2="245.70" stroke="#1a1a1a" stroke-width="1.0"/>
<line x1="234.78" y1="243.3" x2="234.78" y2="245.70" stroke="#1a1a1a" stroke-width="1.0"/>
<line x1="243.02" y1="243.3" x2="243.02" y2="245.70" stroke="#1a1a1a" stroke-width="1.0"/>
<path d="M261.60,173.4V243.3M270.46,173.4V243.3M279.32,173.4V243.3M288.18,173.4V243.3M297.04,173.4V243.3M305.90,173.4V243.3M314.76,173.4V243.3M323.62,173.4V243.3M332.48,173.4V243.3M341.34,173.4V243.3M350.20,173.4V243.3M359.06,173.4V243.3M367.92,173.4V243.3M376.78,173.4V243.3M385.64,173.4V243.3M394.50,173.4V243.3M403.36,173.4V243.3M412.22,173.4V243.3M421.08,173.4V243.3M256.6,177.40H426.6M256.6,185.16H426.6M256.6,192.92H426.6M256.6,200.68H426.6M256.6,208.44H426.6M256.6,216.20H426.6M256.6,223.96H426.6M256.6,231.72H426.6M256.6,239.48H426.6" stroke="#B6B6B6" stroke-width="1" fill="none"/>
<path d="M261.60,177.40h0M261.60,185.16h0M261.60,192.92h0M261.60,200.68h0M261.60,208.44h0M261.60,216.20h0M261.60,223.96h0M261.60,231.72h0M261.60,239.48h0M270.46,177.40h0M270.46,185.16h0M270.46,192.92h0M270.46,200.68h0M270.46,208.44h0M270.46,216.20h0M270.46,223.96h0M270.46,231.72h0M270.46,239.48h0M279.32,177.40h0M279.32,185.16h0M279.32,192.92h0M279.32,200.68h0M279.32,208.44h0M279.32,216.20h0M279.32,223.96h0M279.32,231.72h0M279.32,239.48h0M288.18,177.40h0M288.18,185.16h0M288.18,192.92h0M288.18,200.68h0M288.18,208.44h0M288.18,216.20h0M288.18,223.96h0M288.18,231.72h0M288.18,239.48h0M297.04,177.40h0M297.04,185.16h0M297.04,192.92h0M297.04,200.68h0M297.04,208.44h0M297.04,216.20h0M297.04,223.96h0M297.04,231.72h0M297.04,239.48h0M305.90,177.40h0M305.90,185.16h0M305.90,192.92h0M305.90,200.68h0M305.90,208.44h0M305.90,216.20h0M305.90,223.96h0M305.90,231.72h0M305.90,239.48h0M314.76,177.40h0M314.76,185.16h0M314.76,192.92h0M314.76,200.68h0M314.76,208.44h0M314.76,216.20h0M314.76,223.96h0M314.76,231.72h0M314.76,239.48h0M323.62,177.40h0M323.62,185.16h0M323.62,192.92h0M323.62,200.68h0M323.62,208.44h0M323.62,216.20h0M323.62,223.96h0M323.62,231.72h0M323.62,239.48h0M332.48,177.40h0M332.48,185.16h0M332.48,192.92h0M332.48,200.68h0M332.48,208.44h0M332.48,216.20h0M332.48,223.96h0M332.48,231.72h0M332.48,239.48h0M341.34,177.40h0M341.34,185.16h0M341.34,192.92h0M341.34,200.68h0M341.34,208.44h0M341.34,216.20h0M341.34,223.96h0M341.34,231.72h0M341.34,239.48h0M350.20,177.40h0M350.20,185.16h0M350.20,192.92h0M350.20,200.68h0M350.20,208.44h0M350.20,216.20h0M350.20,223.96h0M350.20,231.72h0M350.20,239.48h0M359.06,177.40h0M359.06,185.16h0M359.06,192.92h0M359.06,200.68h0M359.06,208.44h0M359.06,216.20h0M359.06,223.96h0M359.06,231.72h0M359.06,239.48h0M367.92,177.40h0M367.92,185.16h0M367.92,192.92h0M367.92,200.68h0M367.92,208.44h0M367.92,216.20h0M367.92,223.96h0M367.92,231.72h0M367.92,239.48h0M376.78,177.40h0M376.78,185.16h0M376.78,192.92h0M376.78,200.68h0M376.78,208.44h0M376.78,216.20h0M376.78,223.96h0M376.78,231.72h0M376.78,239.48h0M385.64,177.40h0M385.64,185.16h0M385.64,192.92h0M385.64,200.68h0M385.64,208.44h0M385.64,216.20h0M385.64,223.96h0M385.64,231.72h0M385.64,239.48h0M394.50,177.40h0M394.50,185.16h0M394.50,192.92h0M394.50,200.68h0M394.50,208.44h0M394.50,216.20h0M394.50,223.96h0M394.50,231.72h0M394.50,239.48h0M403.36,177.40h0M403.36,185.16h0M403.36,192.92h0M403.36,200.68h0M403.36,208.44h0M403.36,216.20h0M403.36,223.96h0M403.36,231.72h0M403.36,239.48h0M412.22,177.40h0M412.22,185.16h0M412.22,192.92h0M412.22,200.68h0M412.22,208.44h0M412.22,216.20h0M412.22,223.96h0M412.22,231.72h0M412.22,239.48h0M421.08,177.40h0M421.08,185.16h0M421.08,192.92h0M421.08,200.68h0M421.08,208.44h0M421.08,216.20h0M421.08,223.96h0M421.08,231.72h0M421.08,239.48h0" stroke="#EBDB88" stroke-width="1.7" stroke-linecap="round" fill="none"/>
<circle cx="261.60" cy="177.40" r="3.95" fill="#DA9357"/>
<circle cx="350.20" cy="177.40" r="3.95" fill="#DA9357"/>
<circle cx="403.36" cy="177.40" r="3.95" fill="#DA9357"/>
<circle cx="412.22" cy="177.40" r="3.95" fill="#D47E4B"/>
<circle cx="421.08" cy="177.40" r="3.95" fill="#D27A4A"/>
<circle cx="288.18" cy="185.16" r="3.95" fill="#DA9357"/>
<circle cx="385.64" cy="185.16" r="3.95" fill="#DA9357"/>
<circle cx="403.36" cy="185.16" r="3.95" fill="#DA9357"/>
<circle cx="412.22" cy="185.16" r="3.95" fill="#D9955A"/>
<circle cx="421.08" cy="185.16" r="3.95" fill="#D27A4A"/>
<circle cx="341.34" cy="192.92" r="2.35" fill="#DA9357"/>
<circle cx="350.20" cy="192.92" r="3.95" fill="#DA9357"/>
<circle cx="385.64" cy="192.92" r="2.35" fill="#DA9357"/>
<circle cx="412.22" cy="192.92" r="2.35" fill="#DA9357"/>
<circle cx="421.08" cy="192.92" r="3.95" fill="#D27A4A"/>
<circle cx="288.18" cy="200.68" r="3.95" fill="#DA9357"/>
<circle cx="297.04" cy="200.68" r="2.35" fill="#DA9357"/>
<circle cx="403.36" cy="200.68" r="3.95" fill="#DA9357"/>
<circle cx="412.22" cy="200.68" r="3.95" fill="#D9955A"/>
<circle cx="421.08" cy="200.68" r="3.95" fill="#D47E4B"/>
<circle cx="261.60" cy="208.44" r="3.95" fill="#DA9357"/>
<circle cx="332.48" cy="208.44" r="3.95" fill="#DA9357"/>
<circle cx="385.64" cy="208.44" r="3.95" fill="#DA9357"/>
<circle cx="412.22" cy="208.44" r="3.95" fill="#D6824D"/>
<circle cx="421.08" cy="208.44" r="3.95" fill="#D07248"/>
<circle cx="261.60" cy="216.20" r="2.75" fill="#DA9357"/>
<circle cx="270.46" cy="216.20" r="3.95" fill="#DA9357"/>
<circle cx="403.36" cy="216.20" r="3.95" fill="#DA9357"/>
<circle cx="412.22" cy="216.20" r="3.95" fill="#D6824D"/>
<circle cx="421.08" cy="216.20" r="3.95" fill="#D07248"/>
<circle cx="323.62" cy="223.96" r="3.95" fill="#DA9357"/>
<circle cx="376.78" cy="223.96" r="3.95" fill="#DA9357"/>
<circle cx="403.36" cy="223.96" r="3.95" fill="#DA9357"/>
<circle cx="412.22" cy="223.96" r="3.95" fill="#D6824D"/>
<circle cx="421.08" cy="223.96" r="3.95" fill="#D27A4A"/>
<circle cx="341.34" cy="231.72" r="3.95" fill="#DA9357"/>
<circle cx="350.20" cy="231.72" r="3.95" fill="#DA9357"/>
<circle cx="403.36" cy="231.72" r="3.95" fill="#DA9357"/>
<circle cx="412.22" cy="231.72" r="3.95" fill="#D6824D"/>
<circle cx="421.08" cy="231.72" r="3.95" fill="#D27A4A"/>
<circle cx="288.18" cy="239.48" r="3.95" fill="#DA9357"/>
<circle cx="323.62" cy="239.48" r="3.95" fill="#DA9357"/>
<circle cx="332.48" cy="239.48" r="3.95" fill="#DA9357"/>
<circle cx="412.22" cy="239.48" r="3.95" fill="#D6824D"/>
<circle cx="421.08" cy="239.48" r="3.95" fill="#D27A4A"/>
<rect x="256.5" y="173.5" width="170.00" height="70.00" fill="none" stroke="#2a2a2a" stroke-width="1.1"/>
<line x1="261.60" y1="243.3" x2="261.60" y2="245.70" stroke="#1a1a1a" stroke-width="1.0"/>
<line x1="270.46" y1="243.3" x2="270.46" y2="245.70" stroke="#1a1a1a" stroke-width="1.0"/>
<line x1="279.32" y1="243.3" x2="279.32" y2="245.70" stroke="#1a1a1a" stroke-width="1.0"/>
<line x1="288.18" y1="243.3" x2="288.18" y2="245.70" stroke="#1a1a1a" stroke-width="1.0"/>
<line x1="297.04" y1="243.3" x2="297.04" y2="245.70" stroke="#1a1a1a" stroke-width="1.0"/>
<line x1="305.90" y1="243.3" x2="305.90" y2="245.70" stroke="#1a1a1a" stroke-width="1.0"/>
<line x1="314.76" y1="243.3" x2="314.76" y2="245.70" stroke="#1a1a1a" stroke-width="1.0"/>
<line x1="323.62" y1="243.3" x2="323.62" y2="245.70" stroke="#1a1a1a" stroke-width="1.0"/>
<line x1="332.48" y1="243.3" x2="332.48" y2="245.70" stroke="#1a1a1a" stroke-width="1.0"/>
<line x1="341.34" y1="243.3" x2="341.34" y2="245.70" stroke="#1a1a1a" stroke-width="1.0"/>
<line x1="350.20" y1="243.3" x2="350.20" y2="245.70" stroke="#1a1a1a" stroke-width="1.0"/>
<line x1="359.06" y1="243.3" x2="359.06" y2="245.70" stroke="#1a1a1a" stroke-width="1.0"/>
<line x1="367.92" y1="243.3" x2="367.92" y2="245.70" stroke="#1a1a1a" stroke-width="1.0"/>
<line x1="376.78" y1="243.3" x2="376.78" y2="245.70" stroke="#1a1a1a" stroke-width="1.0"/>
<line x1="385.64" y1="243.3" x2="385.64" y2="245.70" stroke="#1a1a1a" stroke-width="1.0"/>
<line x1="394.50" y1="243.3" x2="394.50" y2="245.70" stroke="#1a1a1a" stroke-width="1.0"/>
<line x1="403.36" y1="243.3" x2="403.36" y2="245.70" stroke="#1a1a1a" stroke-width="1.0"/>
<line x1="412.22" y1="243.3" x2="412.22" y2="245.70" stroke="#1a1a1a" stroke-width="1.0"/>
<line x1="421.08" y1="243.3" x2="421.08" y2="245.70" stroke="#1a1a1a" stroke-width="1.0"/>
<path d="M439.40,173.4V243.3M447.01,173.4V243.3M454.62,173.4V243.3M462.24,173.4V243.3M469.85,173.4V243.3M477.46,173.4V243.3M485.07,173.4V243.3M492.68,173.4V243.3M500.30,173.4V243.3M507.91,173.4V243.3M515.52,173.4V243.3M523.13,173.4V243.3M530.74,173.4V243.3M538.36,173.4V243.3M545.97,173.4V243.3M553.58,173.4V243.3M561.19,173.4V243.3M568.80,173.4V243.3M576.42,173.4V243.3M584.03,173.4V243.3M591.64,173.4V243.3M599.25,173.4V243.3M606.86,173.4V243.3M614.48,173.4V243.3M622.09,173.4V243.3M629.70,173.4V243.3M637.31,173.4V243.3M435.0,177.40H641.3M435.0,185.16H641.3M435.0,192.92H641.3M435.0,200.68H641.3M435.0,208.44H641.3M435.0,216.20H641.3M435.0,223.96H641.3M435.0,231.72H641.3M435.0,239.48H641.3" stroke="#B6B6B6" stroke-width="1" fill="none"/>
<path d="M439.40,177.40h0M439.40,185.16h0M439.40,192.92h0M439.40,200.68h0M439.40,208.44h0M439.40,216.20h0M439.40,223.96h0M439.40,231.72h0M439.40,239.48h0M447.01,177.40h0M447.01,185.16h0M447.01,192.92h0M447.01,200.68h0M447.01,208.44h0M447.01,216.20h0M447.01,223.96h0M447.01,231.72h0M447.01,239.48h0M454.62,177.40h0M454.62,185.16h0M454.62,192.92h0M454.62,200.68h0M454.62,208.44h0M454.62,216.20h0M454.62,223.96h0M454.62,231.72h0M454.62,239.48h0M462.24,177.40h0M462.24,185.16h0M462.24,192.92h0M462.24,200.68h0M462.24,208.44h0M462.24,216.20h0M462.24,223.96h0M462.24,231.72h0M462.24,239.48h0M469.85,177.40h0M469.85,185.16h0M469.85,192.92h0M469.85,200.68h0M469.85,208.44h0M469.85,216.20h0M469.85,223.96h0M469.85,231.72h0M469.85,239.48h0M477.46,177.40h0M477.46,185.16h0M477.46,192.92h0M477.46,200.68h0M477.46,208.44h0M477.46,216.20h0M477.46,223.96h0M477.46,231.72h0M477.46,239.48h0M485.07,177.40h0M485.07,185.16h0M485.07,192.92h0M485.07,200.68h0M485.07,208.44h0M485.07,216.20h0M485.07,223.96h0M485.07,231.72h0M485.07,239.48h0M492.68,177.40h0M492.68,185.16h0M492.68,192.92h0M492.68,200.68h0M492.68,208.44h0M492.68,216.20h0M492.68,223.96h0M492.68,231.72h0M492.68,239.48h0M500.30,177.40h0M500.30,185.16h0M500.30,192.92h0M500.30,200.68h0M500.30,208.44h0M500.30,216.20h0M500.30,223.96h0M500.30,231.72h0M500.30,239.48h0M507.91,177.40h0M507.91,185.16h0M507.91,192.92h0M507.91,200.68h0M507.91,208.44h0M507.91,216.20h0M507.91,223.96h0M507.91,231.72h0M507.91,239.48h0M515.52,177.40h0M515.52,185.16h0M515.52,192.92h0M515.52,200.68h0M515.52,208.44h0M515.52,216.20h0M515.52,223.96h0M515.52,231.72h0M515.52,239.48h0M523.13,177.40h0M523.13,185.16h0M523.13,192.92h0M523.13,200.68h0M523.13,208.44h0M523.13,216.20h0M523.13,223.96h0M523.13,231.72h0M523.13,239.48h0M530.74,177.40h0M530.74,185.16h0M530.74,192.92h0M530.74,200.68h0M530.74,208.44h0M530.74,216.20h0M530.74,223.96h0M530.74,231.72h0M530.74,239.48h0M538.36,177.40h0M538.36,185.16h0M538.36,192.92h0M538.36,200.68h0M538.36,208.44h0M538.36,216.20h0M538.36,223.96h0M538.36,231.72h0M538.36,239.48h0M545.97,177.40h0M545.97,185.16h0M545.97,192.92h0M545.97,200.68h0M545.97,208.44h0M545.97,216.20h0M545.97,223.96h0M545.97,231.72h0M545.97,239.48h0M553.58,177.40h0M553.58,185.16h0M553.58,192.92h0M553.58,200.68h0M553.58,208.44h0M553.58,216.20h0M553.58,223.96h0M553.58,231.72h0M553.58,239.48h0M561.19,177.40h0M561.19,185.16h0M561.19,192.92h0M561.19,200.68h0M561.19,208.44h0M561.19,216.20h0M561.19,223.96h0M561.19,231.72h0M561.19,239.48h0M568.80,177.40h0M568.80,185.16h0M568.80,192.92h0M568.80,200.68h0M568.80,208.44h0M568.80,216.20h0M568.80,223.96h0M568.80,231.72h0M568.80,239.48h0M576.42,177.40h0M576.42,185.16h0M576.42,192.92h0M576.42,200.68h0M576.42,208.44h0M576.42,216.20h0M576.42,223.96h0M576.42,231.72h0M576.42,239.48h0M584.03,177.40h0M584.03,185.16h0M584.03,192.92h0M584.03,200.68h0M584.03,208.44h0M584.03,216.20h0M584.03,223.96h0M584.03,231.72h0M584.03,239.48h0M591.64,177.40h0M591.64,185.16h0M591.64,192.92h0M591.64,200.68h0M591.64,208.44h0M591.64,216.20h0M591.64,223.96h0M591.64,231.72h0M591.64,239.48h0M599.25,177.40h0M599.25,185.16h0M599.25,192.92h0M599.25,200.68h0M599.25,208.44h0M599.25,216.20h0M599.25,223.96h0M599.25,231.72h0M599.25,239.48h0M606.86,177.40h0M606.86,185.16h0M606.86,192.92h0M606.86,200.68h0M606.86,208.44h0M606.86,216.20h0M606.86,223.96h0M606.86,231.72h0M606.86,239.48h0M614.48,177.40h0M614.48,185.16h0M614.48,192.92h0M614.48,200.68h0M614.48,208.44h0M614.48,216.20h0M614.48,223.96h0M614.48,231.72h0M614.48,239.48h0M622.09,177.40h0M622.09,185.16h0M622.09,192.92h0M622.09,200.68h0M622.09,208.44h0M622.09,216.20h0M622.09,223.96h0M622.09,231.72h0M622.09,239.48h0M629.70,177.40h0M629.70,185.16h0M629.70,192.92h0M629.70,200.68h0M629.70,208.44h0M629.70,216.20h0M629.70,223.96h0M629.70,231.72h0M629.70,239.48h0M637.31,177.40h0M637.31,185.16h0M637.31,192.92h0M637.31,200.68h0M637.31,208.44h0M637.31,216.20h0M637.31,223.96h0M637.31,231.72h0M637.31,239.48h0" stroke="#EBDB88" stroke-width="1.7" stroke-linecap="round" fill="none"/>
<circle cx="439.40" cy="177.40" r="3.95" fill="#98BEDA"/>
<circle cx="447.01" cy="177.40" r="3.95" fill="#A0C5DE"/>
<circle cx="507.91" cy="177.40" r="3.95" fill="#D06E48"/>
<circle cx="545.97" cy="177.40" r="3.95" fill="#D6824D"/>
<circle cx="599.25" cy="177.40" r="3.95" fill="#D6824D"/>
<circle cx="629.70" cy="177.40" r="3.95" fill="#D6824D"/>
<circle cx="637.31" cy="177.40" r="3.95" fill="#D6824D"/>
<circle cx="439.40" cy="185.16" r="3.95" fill="#98BEDA"/>
<circle cx="447.01" cy="185.16" r="3.95" fill="#8EB4D5"/>
<circle cx="591.64" cy="185.16" r="3.95" fill="#D9955A"/>
<circle cx="606.86" cy="185.16" r="3.95" fill="#D6824D"/>
<circle cx="614.48" cy="185.16" r="3.95" fill="#D6824D"/>
<circle cx="629.70" cy="185.16" r="3.95" fill="#D6824D"/>
<circle cx="637.31" cy="185.16" r="3.95" fill="#D6824D"/>
<circle cx="439.40" cy="192.92" r="3.95" fill="#98BEDA"/>
<circle cx="447.01" cy="192.92" r="3.95" fill="#A0C5DE"/>
<circle cx="599.25" cy="192.92" r="3.95" fill="#D06E48"/>
<circle cx="606.86" cy="192.92" r="3.95" fill="#D6824D"/>
<circle cx="614.48" cy="192.92" r="3.95" fill="#D6824D"/>
<circle cx="629.70" cy="192.92" r="3.95" fill="#D6824D"/>
<circle cx="637.31" cy="192.92" r="3.95" fill="#D6824D"/>
<circle cx="439.40" cy="200.68" r="3.95" fill="#8EB4D5"/>
<circle cx="447.01" cy="200.68" r="3.95" fill="#8EB4D5"/>
<circle cx="492.68" cy="200.68" r="3.95" fill="#D6824D"/>
<circle cx="591.64" cy="200.68" r="3.95" fill="#D6824D"/>
<circle cx="599.25" cy="200.68" r="3.95" fill="#D6824D"/>
<circle cx="629.70" cy="200.68" r="3.95" fill="#D9955A"/>
<circle cx="637.31" cy="200.68" r="3.95" fill="#D9955A"/>
<circle cx="439.40" cy="208.44" r="3.95" fill="#98BEDA"/>
<circle cx="447.01" cy="208.44" r="3.95" fill="#A0C5DE"/>
<circle cx="591.64" cy="208.44" r="3.95" fill="#D6824D"/>
<circle cx="599.25" cy="208.44" r="3.95" fill="#D6824D"/>
<circle cx="614.48" cy="208.44" r="3.95" fill="#D6824D"/>
<circle cx="629.70" cy="208.44" r="3.95" fill="#C95C3F"/>
<circle cx="637.31" cy="208.44" r="3.95" fill="#C95C3F"/>
<circle cx="439.40" cy="223.96" r="3.95" fill="#8EB4D5"/>
<circle cx="447.01" cy="223.96" r="3.95" fill="#98BEDA"/>
<circle cx="591.64" cy="223.96" r="3.95" fill="#D9955A"/>
<circle cx="606.86" cy="223.96" r="3.95" fill="#D6824D"/>
<circle cx="614.48" cy="223.96" r="3.95" fill="#D6824D"/>
<circle cx="629.70" cy="223.96" r="3.95" fill="#D6824D"/>
<circle cx="637.31" cy="223.96" r="3.95" fill="#D6824D"/>
<circle cx="439.40" cy="231.72" r="3.95" fill="#98BEDA"/>
<circle cx="447.01" cy="231.72" r="3.95" fill="#A0C5DE"/>
<circle cx="545.97" cy="231.72" r="3.95" fill="#D6824D"/>
<circle cx="599.25" cy="231.72" r="3.95" fill="#D6824D"/>
<circle cx="606.86" cy="231.72" r="3.95" fill="#D6824D"/>
<circle cx="629.70" cy="231.72" r="3.95" fill="#D6824D"/>
<circle cx="637.31" cy="231.72" r="3.95" fill="#D6824D"/>
<circle cx="439.40" cy="239.48" r="3.95" fill="#98BEDA"/>
<circle cx="447.01" cy="239.48" r="3.95" fill="#A0C5DE"/>
<circle cx="545.97" cy="239.48" r="3.95" fill="#D9955A"/>
<circle cx="606.86" cy="239.48" r="3.95" fill="#D9955A"/>
<circle cx="622.09" cy="239.48" r="3.95" fill="#D06E48"/>
<circle cx="629.70" cy="239.48" r="3.95" fill="#D6824D"/>
<circle cx="637.31" cy="239.48" r="3.95" fill="#D6824D"/>
<rect x="434.5" y="173.5" width="207.00" height="70.00" fill="none" stroke="#2a2a2a" stroke-width="1.1"/>
<line x1="439.40" y1="243.3" x2="439.40" y2="245.70" stroke="#1a1a1a" stroke-width="1.0"/>
<line x1="447.01" y1="243.3" x2="447.01" y2="245.70" stroke="#1a1a1a" stroke-width="1.0"/>
<line x1="454.62" y1="243.3" x2="454.62" y2="245.70" stroke="#1a1a1a" stroke-width="1.0"/>
<line x1="462.24" y1="243.3" x2="462.24" y2="245.70" stroke="#1a1a1a" stroke-width="1.0"/>
<line x1="469.85" y1="243.3" x2="469.85" y2="245.70" stroke="#1a1a1a" stroke-width="1.0"/>
<line x1="477.46" y1="243.3" x2="477.46" y2="245.70" stroke="#1a1a1a" stroke-width="1.0"/>
<line x1="485.07" y1="243.3" x2="485.07" y2="245.70" stroke="#1a1a1a" stroke-width="1.0"/>
<line x1="492.68" y1="243.3" x2="492.68" y2="245.70" stroke="#1a1a1a" stroke-width="1.0"/>
<line x1="500.30" y1="243.3" x2="500.30" y2="245.70" stroke="#1a1a1a" stroke-width="1.0"/>
<line x1="507.91" y1="243.3" x2="507.91" y2="245.70" stroke="#1a1a1a" stroke-width="1.0"/>
<line x1="515.52" y1="243.3" x2="515.52" y2="245.70" stroke="#1a1a1a" stroke-width="1.0"/>
<line x1="523.13" y1="243.3" x2="523.13" y2="245.70" stroke="#1a1a1a" stroke-width="1.0"/>
<line x1="530.74" y1="243.3" x2="530.74" y2="245.70" stroke="#1a1a1a" stroke-width="1.0"/>
<line x1="538.36" y1="243.3" x2="538.36" y2="245.70" stroke="#1a1a1a" stroke-width="1.0"/>
<line x1="545.97" y1="243.3" x2="545.97" y2="245.70" stroke="#1a1a1a" stroke-width="1.0"/>
<line x1="553.58" y1="243.3" x2="553.58" y2="245.70" stroke="#1a1a1a" stroke-width="1.0"/>
<line x1="561.19" y1="243.3" x2="561.19" y2="245.70" stroke="#1a1a1a" stroke-width="1.0"/>
<line x1="568.80" y1="243.3" x2="568.80" y2="245.70" stroke="#1a1a1a" stroke-width="1.0"/>
<line x1="576.42" y1="243.3" x2="576.42" y2="245.70" stroke="#1a1a1a" stroke-width="1.0"/>
<line x1="584.03" y1="243.3" x2="584.03" y2="245.70" stroke="#1a1a1a" stroke-width="1.0"/>
<line x1="591.64" y1="243.3" x2="591.64" y2="245.70" stroke="#1a1a1a" stroke-width="1.0"/>
<line x1="599.25" y1="243.3" x2="599.25" y2="245.70" stroke="#1a1a1a" stroke-width="1.0"/>
<line x1="606.86" y1="243.3" x2="606.86" y2="245.70" stroke="#1a1a1a" stroke-width="1.0"/>
<line x1="614.48" y1="243.3" x2="614.48" y2="245.70" stroke="#1a1a1a" stroke-width="1.0"/>
<line x1="622.09" y1="243.3" x2="622.09" y2="245.70" stroke="#1a1a1a" stroke-width="1.0"/>
<line x1="629.70" y1="243.3" x2="629.70" y2="245.70" stroke="#1a1a1a" stroke-width="1.0"/>
<line x1="637.31" y1="243.3" x2="637.31" y2="245.70" stroke="#1a1a1a" stroke-width="1.0"/>
<text x="45.2" y="179.58" font-size="8.0" text-anchor="end" fill="#262626" stroke="#262626" stroke-width="0.22" font-weight="normal" >M−IEP</text>
<text x="45.2" y="187.56" font-size="8.0" text-anchor="end" fill="#262626" stroke="#262626" stroke-width="0.22" font-weight="normal" >M−EEP</text>
<text x="45.2" y="195.54" font-size="8.0" text-anchor="end" fill="#262626" stroke="#262626" stroke-width="0.22" font-weight="normal" >M−EP</text>
<text x="45.2" y="203.52" font-size="8.0" text-anchor="end" fill="#262626" stroke="#262626" stroke-width="0.22" font-weight="normal" >F−IEP</text>
<text x="45.2" y="211.50" font-size="8.0" text-anchor="end" fill="#262626" stroke="#262626" stroke-width="0.22" font-weight="normal" >F−EEP</text>
<text x="45.2" y="219.48" font-size="8.0" text-anchor="end" fill="#262626" stroke="#262626" stroke-width="0.22" font-weight="normal" >F−EP</text>
<text x="45.2" y="227.46" font-size="8.0" text-anchor="end" fill="#262626" stroke="#262626" stroke-width="0.22" font-weight="normal" >O−IEP</text>
<text x="45.2" y="235.44" font-size="8.0" text-anchor="end" fill="#262626" stroke="#262626" stroke-width="0.22" font-weight="normal" >O−EEP</text>
<text x="45.2" y="243.42" font-size="8.0" text-anchor="end" fill="#262626" stroke="#262626" stroke-width="0.22" font-weight="normal" >O−EP</text>
<text x="0" y="0" font-size="12" text-anchor="middle" fill="#111" stroke="#111" stroke-width="0.22" font-weight="normal" transform="translate(13.8,205.8) rotate(-90)">PLS3</text>
<text x="148.4" y="13.0" font-size="12" text-anchor="middle" fill="#111" stroke="#111" stroke-width="0.22" font-weight="normal" >BP</text>
<text x="346.0" y="13.0" font-size="12" text-anchor="middle" fill="#111" stroke="#111" stroke-width="0.22" font-weight="normal" >CC</text>
<text x="544.1" y="13.0" font-size="12" text-anchor="middle" fill="#111" stroke="#111" stroke-width="0.22" font-weight="normal" >MF</text>
<text x="0.6" y="9.7" font-size="12" text-anchor="start" fill="#111" stroke="#111" stroke-width="0.22" font-weight="normal" >(A)</text>
<text x="0" y="0" font-size="6.8" text-anchor="middle" fill="#262626" stroke="#262626" stroke-width="0.22" font-weight="normal" transform="translate(52.30,251.8) scale(0.86,1)">1</text>
<text x="0" y="0" font-size="6.8" text-anchor="middle" fill="#262626" stroke="#262626" stroke-width="0.22" font-weight="normal" transform="translate(60.61,251.8) scale(0.86,1)">2</text>
<text x="0" y="0" font-size="6.8" text-anchor="middle" fill="#262626" stroke="#262626" stroke-width="0.22" font-weight="normal" transform="translate(68.92,251.8) scale(0.86,1)">3</text>
<text x="0" y="0" font-size="6.8" text-anchor="middle" fill="#262626" stroke="#262626" stroke-width="0.22" font-weight="normal" transform="translate(77.23,251.8) scale(0.86,1)">4</text>
<text x="0" y="0" font-size="6.8" text-anchor="middle" fill="#262626" stroke="#262626" stroke-width="0.22" font-weight="normal" transform="translate(85.54,251.8) scale(0.86,1)">5</text>
<text x="0" y="0" font-size="6.8" text-anchor="middle" fill="#262626" stroke="#262626" stroke-width="0.22" font-weight="normal" transform="translate(93.85,251.8) scale(0.86,1)">6</text>
<text x="0" y="0" font-size="6.8" text-anchor="middle" fill="#262626" stroke="#262626" stroke-width="0.22" font-weight="normal" transform="translate(102.16,251.8) scale(0.86,1)">7</text>
<text x="0" y="0" font-size="6.8" text-anchor="middle" fill="#262626" stroke="#262626" stroke-width="0.22" font-weight="normal" transform="translate(110.47,251.8) scale(0.86,1)">8</text>
<text x="0" y="0" font-size="6.8" text-anchor="middle" fill="#262626" stroke="#262626" stroke-width="0.22" font-weight="normal" transform="translate(118.78,251.8) scale(0.86,1)">9</text>
<text x="0" y="0" font-size="6.8" text-anchor="middle" fill="#262626" stroke="#262626" stroke-width="0.22" font-weight="normal" transform="translate(127.09,251.8) scale(0.86,1)">10</text>
<text x="0" y="0" font-size="6.8" text-anchor="middle" fill="#262626" stroke="#262626" stroke-width="0.22" font-weight="normal" transform="translate(135.40,251.8) scale(0.86,1)">11</text>
<text x="0" y="0" font-size="6.8" text-anchor="middle" fill="#262626" stroke="#262626" stroke-width="0.22" font-weight="normal" transform="translate(143.71,251.8) scale(0.86,1)">12</text>
<text x="0" y="0" font-size="6.8" text-anchor="middle" fill="#262626" stroke="#262626" stroke-width="0.22" font-weight="normal" transform="translate(152.02,251.8) scale(0.86,1)">13</text>
<text x="0" y="0" font-size="6.8" text-anchor="middle" fill="#262626" stroke="#262626" stroke-width="0.22" font-weight="normal" transform="translate(160.33,251.8) scale(0.86,1)">14</text>
<text x="0" y="0" font-size="6.8" text-anchor="middle" fill="#262626" stroke="#262626" stroke-width="0.22" font-weight="normal" transform="translate(168.64,251.8) scale(0.86,1)">15</text>
<text x="0" y="0" font-size="6.8" text-anchor="middle" fill="#262626" stroke="#262626" stroke-width="0.22" font-weight="normal" transform="translate(176.95,251.8) scale(0.86,1)">16</text>
<text x="0" y="0" font-size="6.8" text-anchor="middle" fill="#262626" stroke="#262626" stroke-width="0.22" font-weight="normal" transform="translate(185.26,251.8) scale(0.86,1)">17</text>
<text x="0" y="0" font-size="6.8" text-anchor="middle" fill="#262626" stroke="#262626" stroke-width="0.22" font-weight="normal" transform="translate(193.57,251.8) scale(0.86,1)">18</text>
<text x="0" y="0" font-size="6.8" text-anchor="middle" fill="#262626" stroke="#262626" stroke-width="0.22" font-weight="normal" transform="translate(201.88,251.8) scale(0.86,1)">19</text>
<text x="0" y="0" font-size="6.8" text-anchor="middle" fill="#262626" stroke="#262626" stroke-width="0.22" font-weight="normal" transform="translate(210.19,251.8) scale(0.86,1)">20</text>
<text x="0" y="0" font-size="6.8" text-anchor="middle" fill="#262626" stroke="#262626" stroke-width="0.22" font-weight="normal" transform="translate(218.50,251.8) scale(0.86,1)">21</text>
<text x="0" y="0" font-size="6.8" text-anchor="middle" fill="#262626" stroke="#262626" stroke-width="0.22" font-weight="normal" transform="translate(226.81,251.8) scale(0.86,1)">22</text>
<text x="0" y="0" font-size="6.8" text-anchor="middle" fill="#262626" stroke="#262626" stroke-width="0.22" font-weight="normal" transform="translate(235.12,251.8) scale(0.86,1)">23</text>
<text x="0" y="0" font-size="6.8" text-anchor="middle" fill="#4BA6DC" stroke="#4BA6DC" stroke-width="0.22" font-weight="normal" transform="translate(243.43,251.8) scale(0.86,1)">24</text>
<text x="0" y="0" font-size="6.8" text-anchor="middle" fill="#262626" stroke="#262626" stroke-width="0.22" font-weight="normal" transform="translate(260.30,251.8) scale(0.86,1)">1</text>
<text x="0" y="0" font-size="6.8" text-anchor="middle" fill="#262626" stroke="#262626" stroke-width="0.22" font-weight="normal" transform="translate(269.25,251.8) scale(0.86,1)">2</text>
<text x="0" y="0" font-size="6.8" text-anchor="middle" fill="#262626" stroke="#262626" stroke-width="0.22" font-weight="normal" transform="translate(278.20,251.8) scale(0.86,1)">3</text>
<text x="0" y="0" font-size="6.8" text-anchor="middle" fill="#262626" stroke="#262626" stroke-width="0.22" font-weight="normal" transform="translate(287.15,251.8) scale(0.86,1)">4</text>
<text x="0" y="0" font-size="6.8" text-anchor="middle" fill="#262626" stroke="#262626" stroke-width="0.22" font-weight="normal" transform="translate(296.10,251.8) scale(0.86,1)">5</text>
<text x="0" y="0" font-size="6.8" text-anchor="middle" fill="#262626" stroke="#262626" stroke-width="0.22" font-weight="normal" transform="translate(305.05,251.8) scale(0.86,1)">6</text>
<text x="0" y="0" font-size="6.8" text-anchor="middle" fill="#262626" stroke="#262626" stroke-width="0.22" font-weight="normal" transform="translate(314.00,251.8) scale(0.86,1)">7</text>
<text x="0" y="0" font-size="6.8" text-anchor="middle" fill="#262626" stroke="#262626" stroke-width="0.22" font-weight="normal" transform="translate(322.95,251.8) scale(0.86,1)">8</text>
<text x="0" y="0" font-size="6.8" text-anchor="middle" fill="#262626" stroke="#262626" stroke-width="0.22" font-weight="normal" transform="translate(331.90,251.8) scale(0.86,1)">9</text>
<text x="0" y="0" font-size="6.8" text-anchor="middle" fill="#262626" stroke="#262626" stroke-width="0.22" font-weight="normal" transform="translate(340.85,251.8) scale(0.86,1)">10</text>
<text x="0" y="0" font-size="6.8" text-anchor="middle" fill="#262626" stroke="#262626" stroke-width="0.22" font-weight="normal" transform="translate(349.80,251.8) scale(0.86,1)">11</text>
<text x="0" y="0" font-size="6.8" text-anchor="middle" fill="#262626" stroke="#262626" stroke-width="0.22" font-weight="normal" transform="translate(358.75,251.8) scale(0.86,1)">12</text>
<text x="0" y="0" font-size="6.8" text-anchor="middle" fill="#262626" stroke="#262626" stroke-width="0.22" font-weight="normal" transform="translate(367.70,251.8) scale(0.86,1)">13</text>
<text x="0" y="0" font-size="6.8" text-anchor="middle" fill="#262626" stroke="#262626" stroke-width="0.22" font-weight="normal" transform="translate(376.65,251.8) scale(0.86,1)">14</text>
<text x="0" y="0" font-size="6.8" text-anchor="middle" fill="#262626" stroke="#262626" stroke-width="0.22" font-weight="normal" transform="translate(385.60,251.8) scale(0.86,1)">15</text>
<text x="0" y="0" font-size="6.8" text-anchor="middle" fill="#262626" stroke="#262626" stroke-width="0.22" font-weight="normal" transform="translate(394.55,251.8) scale(0.86,1)">16</text>
<text x="0" y="0" font-size="6.8" text-anchor="middle" fill="#262626" stroke="#262626" stroke-width="0.22" font-weight="normal" transform="translate(403.50,251.8) scale(0.86,1)">17</text>
<text x="0" y="0" font-size="6.8" text-anchor="middle" fill="#5DAE4E" stroke="#5DAE4E" stroke-width="0.22" font-weight="normal" transform="translate(412.45,251.8) scale(0.86,1)">18</text>
<text x="0" y="0" font-size="6.8" text-anchor="middle" fill="#4BA6DC" stroke="#4BA6DC" stroke-width="0.22" font-weight="normal" transform="translate(421.40,251.8) scale(0.86,1)">19</text>
<text x="0" y="0" font-size="6.8" text-anchor="middle" fill="#262626" stroke="#262626" stroke-width="0.22" font-weight="normal" transform="translate(440.20,251.8) scale(0.86,1)">1</text>
<text x="0" y="0" font-size="6.8" text-anchor="middle" fill="#262626" stroke="#262626" stroke-width="0.22" font-weight="normal" transform="translate(447.78,251.8) scale(0.86,1)">2</text>
<text x="0" y="0" font-size="6.8" text-anchor="middle" fill="#262626" stroke="#262626" stroke-width="0.22" font-weight="normal" transform="translate(455.36,251.8) scale(0.86,1)">3</text>
<text x="0" y="0" font-size="6.8" text-anchor="middle" fill="#262626" stroke="#262626" stroke-width="0.22" font-weight="normal" transform="translate(462.94,251.8) scale(0.86,1)">4</text>
<text x="0" y="0" font-size="6.8" text-anchor="middle" fill="#262626" stroke="#262626" stroke-width="0.22" font-weight="normal" transform="translate(470.52,251.8) scale(0.86,1)">5</text>
<text x="0" y="0" font-size="6.8" text-anchor="middle" fill="#262626" stroke="#262626" stroke-width="0.22" font-weight="normal" transform="translate(478.10,251.8) scale(0.86,1)">6</text>
<text x="0" y="0" font-size="6.8" text-anchor="middle" fill="#262626" stroke="#262626" stroke-width="0.22" font-weight="normal" transform="translate(485.68,251.8) scale(0.86,1)">7</text>
<text x="0" y="0" font-size="6.8" text-anchor="middle" fill="#262626" stroke="#262626" stroke-width="0.22" font-weight="normal" transform="translate(493.26,251.8) scale(0.86,1)">8</text>
<text x="0" y="0" font-size="6.8" text-anchor="middle" fill="#262626" stroke="#262626" stroke-width="0.22" font-weight="normal" transform="translate(500.84,251.8) scale(0.86,1)">9</text>
<text x="0" y="0" font-size="6.8" text-anchor="middle" fill="#262626" stroke="#262626" stroke-width="0.22" font-weight="normal" transform="translate(508.42,251.8) scale(0.86,1)">10</text>
<text x="0" y="0" font-size="6.8" text-anchor="middle" fill="#262626" stroke="#262626" stroke-width="0.22" font-weight="normal" transform="translate(516.00,251.8) scale(0.86,1)">11</text>
<text x="0" y="0" font-size="6.8" text-anchor="middle" fill="#262626" stroke="#262626" stroke-width="0.22" font-weight="normal" transform="translate(523.58,251.8) scale(0.86,1)">12</text>
<text x="0" y="0" font-size="6.8" text-anchor="middle" fill="#262626" stroke="#262626" stroke-width="0.22" font-weight="normal" transform="translate(531.16,251.8) scale(0.86,1)">13</text>
<text x="0" y="0" font-size="6.8" text-anchor="middle" fill="#262626" stroke="#262626" stroke-width="0.22" font-weight="normal" transform="translate(538.74,251.8) scale(0.86,1)">14</text>
<text x="0" y="0" font-size="6.8" text-anchor="middle" fill="#262626" stroke="#262626" stroke-width="0.22" font-weight="normal" transform="translate(546.32,251.8) scale(0.86,1)">15</text>
<text x="0" y="0" font-size="6.8" text-anchor="middle" fill="#262626" stroke="#262626" stroke-width="0.22" font-weight="normal" transform="translate(553.90,251.8) scale(0.86,1)">16</text>
<text x="0" y="0" font-size="6.8" text-anchor="middle" fill="#262626" stroke="#262626" stroke-width="0.22" font-weight="normal" transform="translate(561.48,251.8) scale(0.86,1)">17</text>
<text x="0" y="0" font-size="6.8" text-anchor="middle" fill="#262626" stroke="#262626" stroke-width="0.22" font-weight="normal" transform="translate(569.06,251.8) scale(0.86,1)">18</text>
<text x="0" y="0" font-size="6.8" text-anchor="middle" fill="#262626" stroke="#262626" stroke-width="0.22" font-weight="normal" transform="translate(576.64,251.8) scale(0.86,1)">19</text>
<text x="0" y="0" font-size="6.8" text-anchor="middle" fill="#262626" stroke="#262626" stroke-width="0.22" font-weight="normal" transform="translate(584.22,251.8) scale(0.86,1)">20</text>
<text x="0" y="0" font-size="6.8" text-anchor="middle" fill="#262626" stroke="#262626" stroke-width="0.22" font-weight="normal" transform="translate(591.80,251.8) scale(0.86,1)">21</text>
<text x="0" y="0" font-size="6.8" text-anchor="middle" fill="#5DAE4E" stroke="#5DAE4E" stroke-width="0.22" font-weight="normal" transform="translate(599.38,251.8) scale(0.86,1)">22</text>
<text x="0" y="0" font-size="6.8" text-anchor="middle" fill="#262626" stroke="#262626" stroke-width="0.22" font-weight="normal" transform="translate(606.96,251.8) scale(0.86,1)">23</text>
<text x="0" y="0" font-size="6.8" text-anchor="middle" fill="#262626" stroke="#262626" stroke-width="0.22" font-weight="normal" transform="translate(614.54,251.8) scale(0.86,1)">24</text>
<text x="0" y="0" font-size="6.8" text-anchor="middle" fill="#262626" stroke="#262626" stroke-width="0.22" font-weight="normal" transform="translate(622.12,251.8) scale(0.86,1)">25</text>
<text x="0" y="0" font-size="6.8" text-anchor="middle" fill="#D9534F" stroke="#D9534F" stroke-width="0.22" font-weight="normal" transform="translate(629.70,251.8) scale(0.86,1)">26</text>
<text x="0" y="0" font-size="6.8" text-anchor="middle" fill="#4BA6DC" stroke="#4BA6DC" stroke-width="0.22" font-weight="normal" transform="translate(637.28,251.8) scale(0.86,1)">27</text>
<text x="246.3" y="259.8" font-size="7.9" text-anchor="end" fill="#4E79C0" stroke="#4E79C0" stroke-width="0.22" font-weight="normal" >fatty acid metabolic process</text>
<text x="415.4" y="261.0" font-size="7.9" text-anchor="end" fill="#5AA84F" stroke="#5AA84F" stroke-width="0.22" font-weight="normal" >cell leading edge</text>
<text x="425.2" y="272.0" font-size="7.9" text-anchor="end" fill="#4E79C0" stroke="#4E79C0" stroke-width="0.22" font-weight="normal" >Mitochondrial matrix</text>
<line x1="421.3" y1="253" x2="421.3" y2="264.5" stroke="#444" stroke-width="0.7"/>
<text x="601.2" y="262.4" font-size="7.9" text-anchor="end" fill="#5AA84F" stroke="#5AA84F" stroke-width="0.22" font-weight="normal" >metallopeptidase activity</text>
<text x="633.0" y="272.9" font-size="7.9" text-anchor="end" fill="#AC2230" stroke="#AC2230" stroke-width="0.22" font-weight="normal" >transmembrane transporter activity</text>
<text x="640.3" y="283.4" font-size="7.9" text-anchor="end" fill="#4E79C0" stroke="#4E79C0" stroke-width="0.22" font-weight="normal" >ATP hydrolysis activity</text>
<line x1="629.3" y1="254" x2="629.3" y2="265.5" stroke="#444" stroke-width="0.7"/>
<line x1="637.4" y1="254" x2="637.4" y2="275" stroke="#444" stroke-width="0.7"/>
<defs><linearGradient id="nesgrad" x1="0" y1="0" x2="0" y2="1"><stop offset="0" stop-color="#A3283A"/><stop offset="0.125" stop-color="#BF413B"/><stop offset="0.25" stop-color="#D46B45"/><stop offset="0.375" stop-color="#DFA058"/><stop offset="0.5" stop-color="#E6D58A"/><stop offset="0.625" stop-color="#BFDCE5"/><stop offset="0.75" stop-color="#94BAD7"/><stop offset="0.875" stop-color="#5F7FB8"/><stop offset="1" stop-color="#2E3A8E"/></linearGradient><linearGradient id="rgrad" x1="0" y1="0" x2="0" y2="1"><stop offset="0" stop-color="#A3283A"/><stop offset="0.125" stop-color="#BF413B"/><stop offset="0.25" stop-color="#D46B45"/><stop offset="0.375" stop-color="#DFA058"/><stop offset="0.5" stop-color="#E6D58A"/><stop offset="0.625" stop-color="#BFDCE5"/><stop offset="0.75" stop-color="#94BAD7"/><stop offset="0.875" stop-color="#5F7FB8"/><stop offset="1" stop-color="#2E3A8E"/></linearGradient></defs>
<text x="642.3" y="68.2" font-size="10.3" text-anchor="start" fill="#111" stroke="#111" stroke-width="0.22" font-weight="normal" >-log10(p)</text>
<circle cx="657.0" cy="78.4" r="0.5" fill="#000"/>
<text x="672.4" y="81.6" font-size="9.0" text-anchor="middle" fill="#111" stroke="#111" stroke-width="0.22" font-weight="normal" >0</text>
<circle cx="657.0" cy="87.8" r="2.1" fill="#000"/>
<text x="672.4" y="91.0" font-size="9.0" text-anchor="middle" fill="#111" stroke="#111" stroke-width="0.22" font-weight="normal" >4</text>
<circle cx="657.0" cy="97.3" r="2.65" fill="#000"/>
<text x="672.4" y="100.5" font-size="9.0" text-anchor="middle" fill="#111" stroke="#111" stroke-width="0.22" font-weight="normal" >8</text>
<circle cx="657.0" cy="106.1" r="3.1" fill="#000"/>
<text x="672.4" y="109.3" font-size="9.0" text-anchor="middle" fill="#111" stroke="#111" stroke-width="0.22" font-weight="normal" >12</text>
<circle cx="657.0" cy="115.0" r="3.45" fill="#000"/>
<text x="672.4" y="118.2" font-size="9.0" text-anchor="middle" fill="#111" stroke="#111" stroke-width="0.22" font-weight="normal" >16</text>
<text x="647.6" y="139.4" font-size="10.3" text-anchor="start" fill="#111" stroke="#111" stroke-width="0.22" font-weight="normal" >NES</text>
<rect x="653.9" y="147.0" width="7" height="46.3" fill="url(#nesgrad)"/>
<text x="679.8" y="151.2" font-size="9.0" text-anchor="end" fill="#111" stroke="#111" stroke-width="0.22" font-weight="normal" >10</text>
<text x="679.8" y="162.3" font-size="9.0" text-anchor="end" fill="#111" stroke="#111" stroke-width="0.22" font-weight="normal" >5</text>
<line x1="653.9" y1="159.1" x2="655.3" y2="159.1" stroke="#fff" stroke-width="0.6"/>
<line x1="659.5" y1="159.1" x2="660.9" y2="159.1" stroke="#fff" stroke-width="0.6"/>
<text x="679.8" y="173.8" font-size="9.0" text-anchor="end" fill="#111" stroke="#111" stroke-width="0.22" font-weight="normal" >0</text>
<line x1="653.9" y1="170.6" x2="655.3" y2="170.6" stroke="#fff" stroke-width="0.6"/>
<line x1="659.5" y1="170.6" x2="660.9" y2="170.6" stroke="#fff" stroke-width="0.6"/>
<text x="679.8" y="185.0" font-size="9.0" text-anchor="end" fill="#111" stroke="#111" stroke-width="0.22" font-weight="normal" >−5</text>
<line x1="653.9" y1="181.8" x2="655.3" y2="181.8" stroke="#fff" stroke-width="0.6"/>
<line x1="659.5" y1="181.8" x2="660.9" y2="181.8" stroke="#fff" stroke-width="0.6"/>
<text x="679.8" y="195.8" font-size="9.0" text-anchor="end" fill="#111" stroke="#111" stroke-width="0.22" font-weight="normal" >−10</text>
<text x="304.09999999999997" y="337.59999999999997" font-size="10.3" text-anchor="start" fill="#111" stroke="#111" stroke-width="0.22" font-weight="normal" >-log10(p)</text>
<circle cx="318.8" cy="347.79999999999995" r="0.5" fill="#000"/>
<text x="334.2" y="351.0" font-size="9.0" text-anchor="middle" fill="#111" stroke="#111" stroke-width="0.22" font-weight="normal" >0</text>
<circle cx="318.8" cy="357.2" r="2.1" fill="#000"/>
<text x="334.2" y="360.4" font-size="9.0" text-anchor="middle" fill="#111" stroke="#111" stroke-width="0.22" font-weight="normal" >4</text>
<circle cx="318.8" cy="366.7" r="2.65" fill="#000"/>
<text x="334.2" y="369.9" font-size="9.0" text-anchor="middle" fill="#111" stroke="#111" stroke-width="0.22" font-weight="normal" >8</text>
<circle cx="318.8" cy="375.5" r="3.1" fill="#000"/>
<text x="334.2" y="378.7" font-size="9.0" text-anchor="middle" fill="#111" stroke="#111" stroke-width="0.22" font-weight="normal" >12</text>
<circle cx="318.8" cy="384.4" r="3.45" fill="#000"/>
<text x="334.2" y="387.6" font-size="9.0" text-anchor="middle" fill="#111" stroke="#111" stroke-width="0.22" font-weight="normal" >16</text>
<text x="309.40000000000003" y="408.79999999999995" font-size="10.3" text-anchor="start" fill="#111" stroke="#111" stroke-width="0.22" font-weight="normal" >NES</text>
<rect x="315.7" y="416.4" width="7" height="46.3" fill="url(#nesgrad)"/>
<text x="341.59999999999997" y="420.6" font-size="9.0" text-anchor="end" fill="#111" stroke="#111" stroke-width="0.22" font-weight="normal" >10</text>
<text x="341.59999999999997" y="431.7" font-size="9.0" text-anchor="end" fill="#111" stroke="#111" stroke-width="0.22" font-weight="normal" >5</text>
<line x1="315.7" y1="428.5" x2="317.09999999999997" y2="428.5" stroke="#fff" stroke-width="0.6"/>
<line x1="321.3" y1="428.5" x2="322.7" y2="428.5" stroke="#fff" stroke-width="0.6"/>
<text x="341.59999999999997" y="443.2" font-size="9.0" text-anchor="end" fill="#111" stroke="#111" stroke-width="0.22" font-weight="normal" >0</text>
<line x1="315.7" y1="440.0" x2="317.09999999999997" y2="440.0" stroke="#fff" stroke-width="0.6"/>
<line x1="321.3" y1="440.0" x2="322.7" y2="440.0" stroke="#fff" stroke-width="0.6"/>
<text x="341.59999999999997" y="454.4" font-size="9.0" text-anchor="end" fill="#111" stroke="#111" stroke-width="0.22" font-weight="normal" >−5</text>
<line x1="315.7" y1="451.2" x2="317.09999999999997" y2="451.2" stroke="#fff" stroke-width="0.6"/>
<line x1="321.3" y1="451.2" x2="322.7" y2="451.2" stroke="#fff" stroke-width="0.6"/>
<text x="341.59999999999997" y="465.2" font-size="9.0" text-anchor="end" fill="#111" stroke="#111" stroke-width="0.22" font-weight="normal" >−10</text>
<path d="M54.10,284.4V356.0M62.00,284.4V356.0M69.90,284.4V356.0M77.80,284.4V356.0M85.70,284.4V356.0M93.60,284.4V356.0M101.50,284.4V356.0M109.40,284.4V356.0M117.30,284.4V356.0M125.20,284.4V356.0M133.10,284.4V356.0M141.00,284.4V356.0M148.90,284.4V356.0M156.80,284.4V356.0M164.70,284.4V356.0M172.60,284.4V356.0M180.50,284.4V356.0M188.40,284.4V356.0M196.30,284.4V356.0M204.20,284.4V356.0M212.10,284.4V356.0M220.00,284.4V356.0M227.90,284.4V356.0M235.80,284.4V356.0M243.70,284.4V356.0M251.60,284.4V356.0M49.6,288.40H256.1M49.6,296.29H256.1M49.6,304.18H256.1M49.6,312.07H256.1M49.6,319.96H256.1M49.6,327.85H256.1M49.6,335.74H256.1M49.6,343.63H256.1M49.6,351.52H256.1" stroke="#B6B6B6" stroke-width="1" fill="none"/>
<path d="M54.10,288.40h0M54.10,296.29h0M54.10,304.18h0M54.10,312.07h0M54.10,319.96h0M54.10,327.85h0M54.10,335.74h0M54.10,343.63h0M54.10,351.52h0M62.00,288.40h0M62.00,296.29h0M62.00,304.18h0M62.00,312.07h0M62.00,319.96h0M62.00,327.85h0M62.00,335.74h0M62.00,343.63h0M62.00,351.52h0M69.90,288.40h0M69.90,296.29h0M69.90,304.18h0M69.90,312.07h0M69.90,319.96h0M69.90,327.85h0M69.90,335.74h0M69.90,343.63h0M69.90,351.52h0M77.80,288.40h0M77.80,296.29h0M77.80,304.18h0M77.80,312.07h0M77.80,319.96h0M77.80,327.85h0M77.80,335.74h0M77.80,343.63h0M77.80,351.52h0M85.70,288.40h0M85.70,296.29h0M85.70,304.18h0M85.70,312.07h0M85.70,319.96h0M85.70,327.85h0M85.70,335.74h0M85.70,343.63h0M85.70,351.52h0M93.60,288.40h0M93.60,296.29h0M93.60,304.18h0M93.60,312.07h0M93.60,319.96h0M93.60,327.85h0M93.60,335.74h0M93.60,343.63h0M93.60,351.52h0M101.50,288.40h0M101.50,296.29h0M101.50,304.18h0M101.50,312.07h0M101.50,319.96h0M101.50,327.85h0M101.50,335.74h0M101.50,343.63h0M101.50,351.52h0M109.40,288.40h0M109.40,296.29h0M109.40,304.18h0M109.40,312.07h0M109.40,319.96h0M109.40,327.85h0M109.40,335.74h0M109.40,343.63h0M109.40,351.52h0M117.30,288.40h0M117.30,296.29h0M117.30,304.18h0M117.30,312.07h0M117.30,319.96h0M117.30,327.85h0M117.30,335.74h0M117.30,343.63h0M117.30,351.52h0M125.20,288.40h0M125.20,296.29h0M125.20,304.18h0M125.20,312.07h0M125.20,319.96h0M125.20,327.85h0M125.20,335.74h0M125.20,343.63h0M125.20,351.52h0M133.10,288.40h0M133.10,296.29h0M133.10,304.18h0M133.10,312.07h0M133.10,319.96h0M133.10,327.85h0M133.10,335.74h0M133.10,343.63h0M133.10,351.52h0M141.00,288.40h0M141.00,296.29h0M141.00,304.18h0M141.00,312.07h0M141.00,319.96h0M141.00,327.85h0M141.00,335.74h0M141.00,343.63h0M141.00,351.52h0M148.90,288.40h0M148.90,296.29h0M148.90,304.18h0M148.90,312.07h0M148.90,319.96h0M148.90,327.85h0M148.90,335.74h0M148.90,343.63h0M148.90,351.52h0M156.80,288.40h0M156.80,296.29h0M156.80,304.18h0M156.80,312.07h0M156.80,319.96h0M156.80,327.85h0M156.80,335.74h0M156.80,343.63h0M156.80,351.52h0M164.70,288.40h0M164.70,296.29h0M164.70,304.18h0M164.70,312.07h0M164.70,319.96h0M164.70,327.85h0M164.70,335.74h0M164.70,343.63h0M164.70,351.52h0M172.60,288.40h0M172.60,296.29h0M172.60,304.18h0M172.60,312.07h0M172.60,319.96h0M172.60,327.85h0M172.60,335.74h0M172.60,343.63h0M172.60,351.52h0M180.50,288.40h0M180.50,296.29h0M180.50,304.18h0M180.50,312.07h0M180.50,319.96h0M180.50,327.85h0M180.50,335.74h0M180.50,343.63h0M180.50,351.52h0M188.40,288.40h0M188.40,296.29h0M188.40,304.18h0M188.40,312.07h0M188.40,319.96h0M188.40,327.85h0M188.40,335.74h0M188.40,343.63h0M188.40,351.52h0M196.30,288.40h0M196.30,296.29h0M196.30,304.18h0M196.30,312.07h0M196.30,319.96h0M196.30,327.85h0M196.30,335.74h0M196.30,343.63h0M196.30,351.52h0M204.20,288.40h0M204.20,296.29h0M204.20,304.18h0M204.20,312.07h0M204.20,319.96h0M204.20,327.85h0M204.20,335.74h0M204.20,343.63h0M204.20,351.52h0M212.10,288.40h0M212.10,296.29h0M212.10,304.18h0M212.10,312.07h0M212.10,319.96h0M212.10,327.85h0M212.10,335.74h0M212.10,343.63h0M212.10,351.52h0M220.00,288.40h0M220.00,296.29h0M220.00,304.18h0M220.00,312.07h0M220.00,319.96h0M220.00,327.85h0M220.00,335.74h0M220.00,343.63h0M220.00,351.52h0M227.90,288.40h0M227.90,296.29h0M227.90,304.18h0M227.90,312.07h0M227.90,319.96h0M227.90,327.85h0M227.90,335.74h0M227.90,343.63h0M227.90,351.52h0M235.80,288.40h0M235.80,296.29h0M235.80,304.18h0M235.80,312.07h0M235.80,319.96h0M235.80,327.85h0M235.80,335.74h0M235.80,343.63h0M235.80,351.52h0M243.70,288.40h0M243.70,296.29h0M243.70,304.18h0M243.70,312.07h0M243.70,319.96h0M243.70,327.85h0M243.70,335.74h0M243.70,343.63h0M243.70,351.52h0M251.60,288.40h0M251.60,296.29h0M251.60,304.18h0M251.60,312.07h0M251.60,319.96h0M251.60,327.85h0M251.60,335.74h0M251.60,343.63h0M251.60,351.52h0" stroke="#EBDB88" stroke-width="1.7" stroke-linecap="round" fill="none"/>
<circle cx="54.10" cy="288.40" r="4.05" fill="#3F4D9D"/>
<circle cx="196.30" cy="288.40" r="2.35" fill="#D9955A"/>
<circle cx="227.90" cy="288.40" r="2.35" fill="#D9955A"/>
<circle cx="235.80" cy="288.40" r="2.35" fill="#D9955A"/>
<circle cx="243.70" cy="288.40" r="2.35" fill="#D9955A"/>
<circle cx="251.60" cy="288.40" r="3.95" fill="#D06E48"/>
<circle cx="54.10" cy="296.29" r="4.05" fill="#3F4D9D"/>
<circle cx="227.90" cy="296.29" r="1.90" fill="#D9955A"/>
<circle cx="251.60" cy="296.29" r="3.95" fill="#D6824D"/>
<circle cx="54.10" cy="304.18" r="4.05" fill="#3F4D9D"/>
<circle cx="109.40" cy="304.18" r="1.90" fill="#D9955A"/>
<circle cx="148.90" cy="304.18" r="2.35" fill="#D9955A"/>
<circle cx="212.10" cy="304.18" r="1.90" fill="#D9955A"/>
<circle cx="243.70" cy="304.18" r="3.95" fill="#D9955A"/>
<circle cx="251.60" cy="304.18" r="3.95" fill="#D6824D"/>
<circle cx="54.10" cy="312.07" r="4.05" fill="#5A78B5"/>
<circle cx="141.00" cy="312.07" r="2.35" fill="#D9955A"/>
<circle cx="204.20" cy="312.07" r="2.35" fill="#D9955A"/>
<circle cx="235.80" cy="312.07" r="2.35" fill="#D9955A"/>
<circle cx="243.70" cy="312.07" r="3.95" fill="#D9955A"/>
<circle cx="251.60" cy="312.07" r="3.95" fill="#D06E48"/>
<circle cx="54.10" cy="319.96" r="4.05" fill="#3F4D9D"/>
<circle cx="133.10" cy="319.96" r="2.35" fill="#D9955A"/>
<circle cx="196.30" cy="319.96" r="2.35" fill="#D9955A"/>
<circle cx="227.90" cy="319.96" r="2.35" fill="#D9955A"/>
<circle cx="243.70" cy="319.96" r="2.35" fill="#D9955A"/>
<circle cx="251.60" cy="319.96" r="3.95" fill="#D06E48"/>
<circle cx="54.10" cy="327.85" r="4.05" fill="#3F4D9D"/>
<circle cx="117.30" cy="327.85" r="2.35" fill="#D9955A"/>
<circle cx="212.10" cy="327.85" r="2.75" fill="#D9955A"/>
<circle cx="220.00" cy="327.85" r="2.35" fill="#D9955A"/>
<circle cx="243.70" cy="327.85" r="2.35" fill="#D9955A"/>
<circle cx="251.60" cy="327.85" r="3.95" fill="#D06E48"/>
<circle cx="54.10" cy="335.74" r="4.05" fill="#5A78B5"/>
<circle cx="125.20" cy="335.74" r="2.35" fill="#D9955A"/>
<circle cx="156.80" cy="335.74" r="2.35" fill="#D9955A"/>
<circle cx="164.70" cy="335.74" r="2.35" fill="#D9955A"/>
<circle cx="243.70" cy="335.74" r="3.95" fill="#D9955A"/>
<circle cx="251.60" cy="335.74" r="3.95" fill="#D06E48"/>
<circle cx="54.10" cy="343.63" r="4.05" fill="#3F4D9D"/>
<circle cx="204.20" cy="343.63" r="2.35" fill="#D9955A"/>
<circle cx="220.00" cy="343.63" r="2.35" fill="#D9955A"/>
<circle cx="235.80" cy="343.63" r="2.35" fill="#D9955A"/>
<circle cx="243.70" cy="343.63" r="3.95" fill="#D9955A"/>
<circle cx="251.60" cy="343.63" r="3.95" fill="#D6824D"/>
<circle cx="54.10" cy="351.52" r="4.05" fill="#3F4D9D"/>
<circle cx="172.60" cy="351.52" r="2.35" fill="#D9955A"/>
<circle cx="180.50" cy="351.52" r="2.75" fill="#D9955A"/>
<circle cx="188.40" cy="351.52" r="3.95" fill="#D9955A"/>
<circle cx="243.70" cy="351.52" r="3.95" fill="#D9955A"/>
<circle cx="251.60" cy="351.52" r="3.95" fill="#D6824D"/>
<rect x="49.5" y="284.5" width="207.00" height="72.00" fill="none" stroke="#2a2a2a" stroke-width="1.1"/>
<line x1="47.00" y1="288.40" x2="49.6" y2="288.40" stroke="#1a1a1a" stroke-width="1.0"/>
<line x1="47.00" y1="296.29" x2="49.6" y2="296.29" stroke="#1a1a1a" stroke-width="1.0"/>
<line x1="47.00" y1="304.18" x2="49.6" y2="304.18" stroke="#1a1a1a" stroke-width="1.0"/>
<line x1="47.00" y1="312.07" x2="49.6" y2="312.07" stroke="#1a1a1a" stroke-width="1.0"/>
<line x1="47.00" y1="319.96" x2="49.6" y2="319.96" stroke="#1a1a1a" stroke-width="1.0"/>
<line x1="47.00" y1="327.85" x2="49.6" y2="327.85" stroke="#1a1a1a" stroke-width="1.0"/>
<line x1="47.00" y1="335.74" x2="49.6" y2="335.74" stroke="#1a1a1a" stroke-width="1.0"/>
<line x1="47.00" y1="343.63" x2="49.6" y2="343.63" stroke="#1a1a1a" stroke-width="1.0"/>
<line x1="47.00" y1="351.52" x2="49.6" y2="351.52" stroke="#1a1a1a" stroke-width="1.0"/>
<line x1="54.10" y1="356.0" x2="54.10" y2="358.40" stroke="#1a1a1a" stroke-width="1.0"/>
<line x1="62.00" y1="356.0" x2="62.00" y2="358.40" stroke="#1a1a1a" stroke-width="1.0"/>
<line x1="69.90" y1="356.0" x2="69.90" y2="358.40" stroke="#1a1a1a" stroke-width="1.0"/>
<line x1="77.80" y1="356.0" x2="77.80" y2="358.40" stroke="#1a1a1a" stroke-width="1.0"/>
<line x1="85.70" y1="356.0" x2="85.70" y2="358.40" stroke="#1a1a1a" stroke-width="1.0"/>
<line x1="93.60" y1="356.0" x2="93.60" y2="358.40" stroke="#1a1a1a" stroke-width="1.0"/>
<line x1="101.50" y1="356.0" x2="101.50" y2="358.40" stroke="#1a1a1a" stroke-width="1.0"/>
<line x1="109.40" y1="356.0" x2="109.40" y2="358.40" stroke="#1a1a1a" stroke-width="1.0"/>
<line x1="117.30" y1="356.0" x2="117.30" y2="358.40" stroke="#1a1a1a" stroke-width="1.0"/>
<line x1="125.20" y1="356.0" x2="125.20" y2="358.40" stroke="#1a1a1a" stroke-width="1.0"/>
<line x1="133.10" y1="356.0" x2="133.10" y2="358.40" stroke="#1a1a1a" stroke-width="1.0"/>
<line x1="141.00" y1="356.0" x2="141.00" y2="358.40" stroke="#1a1a1a" stroke-width="1.0"/>
<line x1="148.90" y1="356.0" x2="148.90" y2="358.40" stroke="#1a1a1a" stroke-width="1.0"/>
<line x1="156.80" y1="356.0" x2="156.80" y2="358.40" stroke="#1a1a1a" stroke-width="1.0"/>
<line x1="164.70" y1="356.0" x2="164.70" y2="358.40" stroke="#1a1a1a" stroke-width="1.0"/>
<line x1="172.60" y1="356.0" x2="172.60" y2="358.40" stroke="#1a1a1a" stroke-width="1.0"/>
<line x1="180.50" y1="356.0" x2="180.50" y2="358.40" stroke="#1a1a1a" stroke-width="1.0"/>
<line x1="188.40" y1="356.0" x2="188.40" y2="358.40" stroke="#1a1a1a" stroke-width="1.0"/>
<line x1="196.30" y1="356.0" x2="196.30" y2="358.40" stroke="#1a1a1a" stroke-width="1.0"/>
<line x1="204.20" y1="356.0" x2="204.20" y2="358.40" stroke="#1a1a1a" stroke-width="1.0"/>
<line x1="212.10" y1="356.0" x2="212.10" y2="358.40" stroke="#1a1a1a" stroke-width="1.0"/>
<line x1="220.00" y1="356.0" x2="220.00" y2="358.40" stroke="#1a1a1a" stroke-width="1.0"/>
<line x1="227.90" y1="356.0" x2="227.90" y2="358.40" stroke="#1a1a1a" stroke-width="1.0"/>
<line x1="235.80" y1="356.0" x2="235.80" y2="358.40" stroke="#1a1a1a" stroke-width="1.0"/>
<line x1="243.70" y1="356.0" x2="243.70" y2="358.40" stroke="#1a1a1a" stroke-width="1.0"/>
<line x1="251.60" y1="356.0" x2="251.60" y2="358.40" stroke="#1a1a1a" stroke-width="1.0"/>
<path d="M268.00,284.4V356.0M275.80,284.4V356.0M283.60,284.4V356.0M291.40,284.4V356.0M299.20,284.4V356.0M263.4,288.40H303.7M263.4,296.29H303.7M263.4,304.18H303.7M263.4,312.07H303.7M263.4,319.96H303.7M263.4,327.85H303.7M263.4,335.74H303.7M263.4,343.63H303.7M263.4,351.52H303.7" stroke="#B6B6B6" stroke-width="1" fill="none"/>
<path d="M268.00,288.40h0M268.00,296.29h0M268.00,304.18h0M268.00,312.07h0M268.00,319.96h0M268.00,327.85h0M268.00,335.74h0M268.00,343.63h0M268.00,351.52h0M275.80,288.40h0M275.80,296.29h0M275.80,304.18h0M275.80,312.07h0M275.80,319.96h0M275.80,327.85h0M275.80,335.74h0M275.80,343.63h0M275.80,351.52h0M283.60,288.40h0M283.60,296.29h0M283.60,304.18h0M283.60,312.07h0M283.60,319.96h0M283.60,327.85h0M283.60,335.74h0M283.60,343.63h0M283.60,351.52h0M291.40,288.40h0M291.40,296.29h0M291.40,304.18h0M291.40,312.07h0M291.40,319.96h0M291.40,327.85h0M291.40,335.74h0M291.40,343.63h0M291.40,351.52h0M299.20,288.40h0M299.20,296.29h0M299.20,304.18h0M299.20,312.07h0M299.20,319.96h0M299.20,327.85h0M299.20,335.74h0M299.20,343.63h0M299.20,351.52h0" stroke="#EBDB88" stroke-width="1.7" stroke-linecap="round" fill="none"/>
<circle cx="283.60" cy="327.85" r="2.35" fill="#DEA260"/>
<circle cx="291.40" cy="327.85" r="2.35" fill="#DEA260"/>
<circle cx="299.20" cy="343.63" r="2.35" fill="#DEA260"/>
<circle cx="291.40" cy="351.52" r="2.35" fill="#DEA260"/>
<circle cx="299.20" cy="351.52" r="2.35" fill="#DEA260"/>
<rect x="263.5" y="284.5" width="40.00" height="72.00" fill="none" stroke="#2a2a2a" stroke-width="1.1"/>
<line x1="268.00" y1="356.0" x2="268.00" y2="358.40" stroke="#1a1a1a" stroke-width="1.0"/>
<line x1="275.80" y1="356.0" x2="275.80" y2="358.40" stroke="#1a1a1a" stroke-width="1.0"/>
<line x1="283.60" y1="356.0" x2="283.60" y2="358.40" stroke="#1a1a1a" stroke-width="1.0"/>
<line x1="291.40" y1="356.0" x2="291.40" y2="358.40" stroke="#1a1a1a" stroke-width="1.0"/>
<line x1="299.20" y1="356.0" x2="299.20" y2="358.40" stroke="#1a1a1a" stroke-width="1.0"/>
<text x="45.2" y="291.86" font-size="8.0" text-anchor="end" fill="#262626" stroke="#262626" stroke-width="0.22" font-weight="normal" >M−IEP</text>
<text x="45.2" y="299.85" font-size="8.0" text-anchor="end" fill="#262626" stroke="#262626" stroke-width="0.22" font-weight="normal" >M−EEP</text>
<text x="45.2" y="307.84" font-size="8.0" text-anchor="end" fill="#262626" stroke="#262626" stroke-width="0.22" font-weight="normal" >M−EP</text>
<text x="45.2" y="315.83" font-size="8.0" text-anchor="end" fill="#262626" stroke="#262626" stroke-width="0.22" font-weight="normal" >F−IEP</text>
<text x="45.2" y="323.82" font-size="8.0" text-anchor="end" fill="#262626" stroke="#262626" stroke-width="0.22" font-weight="normal" >F−EEP</text>
<text x="45.2" y="331.81" font-size="8.0" text-anchor="end" fill="#262626" stroke="#262626" stroke-width="0.22" font-weight="normal" >F−EP</text>
<text x="45.2" y="339.80" font-size="8.0" text-anchor="end" fill="#262626" stroke="#262626" stroke-width="0.22" font-weight="normal" >O−IEP</text>
<text x="45.2" y="347.79" font-size="8.0" text-anchor="end" fill="#262626" stroke="#262626" stroke-width="0.22" font-weight="normal" >O−EEP</text>
<text x="45.2" y="355.78" font-size="8.0" text-anchor="end" fill="#262626" stroke="#262626" stroke-width="0.22" font-weight="normal" >O−EP</text>
<text x="0" y="0" font-size="12" text-anchor="middle" fill="#111" stroke="#111" stroke-width="0.22" font-weight="normal" transform="translate(13.8,321.6) rotate(-90)">PLS1</text>
<path d="M54.10,363.3V434.6M62.00,363.3V434.6M69.90,363.3V434.6M77.80,363.3V434.6M85.70,363.3V434.6M93.60,363.3V434.6M101.50,363.3V434.6M109.40,363.3V434.6M117.30,363.3V434.6M125.20,363.3V434.6M133.10,363.3V434.6M141.00,363.3V434.6M148.90,363.3V434.6M156.80,363.3V434.6M164.70,363.3V434.6M172.60,363.3V434.6M180.50,363.3V434.6M188.40,363.3V434.6M196.30,363.3V434.6M204.20,363.3V434.6M212.10,363.3V434.6M220.00,363.3V434.6M227.90,363.3V434.6M235.80,363.3V434.6M243.70,363.3V434.6M251.60,363.3V434.6M49.6,367.50H256.1M49.6,375.38H256.1M49.6,383.26H256.1M49.6,391.14H256.1M49.6,399.02H256.1M49.6,406.90H256.1M49.6,414.78H256.1M49.6,422.66H256.1M49.6,430.54H256.1" stroke="#B6B6B6" stroke-width="1" fill="none"/>
<path d="M54.10,367.50h0M54.10,375.38h0M54.10,383.26h0M54.10,391.14h0M54.10,399.02h0M54.10,406.90h0M54.10,414.78h0M54.10,422.66h0M54.10,430.54h0M62.00,367.50h0M62.00,375.38h0M62.00,383.26h0M62.00,391.14h0M62.00,399.02h0M62.00,406.90h0M62.00,414.78h0M62.00,422.66h0M62.00,430.54h0M69.90,367.50h0M69.90,375.38h0M69.90,383.26h0M69.90,391.14h0M69.90,399.02h0M69.90,406.90h0M69.90,414.78h0M69.90,422.66h0M69.90,430.54h0M77.80,367.50h0M77.80,375.38h0M77.80,383.26h0M77.80,391.14h0M77.80,399.02h0M77.80,406.90h0M77.80,414.78h0M77.80,422.66h0M77.80,430.54h0M85.70,367.50h0M85.70,375.38h0M85.70,383.26h0M85.70,391.14h0M85.70,399.02h0M85.70,406.90h0M85.70,414.78h0M85.70,422.66h0M85.70,430.54h0M93.60,367.50h0M93.60,375.38h0M93.60,383.26h0M93.60,391.14h0M93.60,399.02h0M93.60,406.90h0M93.60,414.78h0M93.60,422.66h0M93.60,430.54h0M101.50,367.50h0M101.50,375.38h0M101.50,383.26h0M101.50,391.14h0M101.50,399.02h0M101.50,406.90h0M101.50,414.78h0M101.50,422.66h0M101.50,430.54h0M109.40,367.50h0M109.40,375.38h0M109.40,383.26h0M109.40,391.14h0M109.40,399.02h0M109.40,406.90h0M109.40,414.78h0M109.40,422.66h0M109.40,430.54h0M117.30,367.50h0M117.30,375.38h0M117.30,383.26h0M117.30,391.14h0M117.30,399.02h0M117.30,406.90h0M117.30,414.78h0M117.30,422.66h0M117.30,430.54h0M125.20,367.50h0M125.20,375.38h0M125.20,383.26h0M125.20,391.14h0M125.20,399.02h0M125.20,406.90h0M125.20,414.78h0M125.20,422.66h0M125.20,430.54h0M133.10,367.50h0M133.10,375.38h0M133.10,383.26h0M133.10,391.14h0M133.10,399.02h0M133.10,406.90h0M133.10,414.78h0M133.10,422.66h0M133.10,430.54h0M141.00,367.50h0M141.00,375.38h0M141.00,383.26h0M141.00,391.14h0M141.00,399.02h0M141.00,406.90h0M141.00,414.78h0M141.00,422.66h0M141.00,430.54h0M148.90,367.50h0M148.90,375.38h0M148.90,383.26h0M148.90,391.14h0M148.90,399.02h0M148.90,406.90h0M148.90,414.78h0M148.90,422.66h0M148.90,430.54h0M156.80,367.50h0M156.80,375.38h0M156.80,383.26h0M156.80,391.14h0M156.80,399.02h0M156.80,406.90h0M156.80,414.78h0M156.80,422.66h0M156.80,430.54h0M164.70,367.50h0M164.70,375.38h0M164.70,383.26h0M164.70,391.14h0M164.70,399.02h0M164.70,406.90h0M164.70,414.78h0M164.70,422.66h0M164.70,430.54h0M172.60,367.50h0M172.60,375.38h0M172.60,383.26h0M172.60,391.14h0M172.60,399.02h0M172.60,406.90h0M172.60,414.78h0M172.60,422.66h0M172.60,430.54h0M180.50,367.50h0M180.50,375.38h0M180.50,383.26h0M180.50,391.14h0M180.50,399.02h0M180.50,406.90h0M180.50,414.78h0M180.50,422.66h0M180.50,430.54h0M188.40,367.50h0M188.40,375.38h0M188.40,383.26h0M188.40,391.14h0M188.40,399.02h0M188.40,406.90h0M188.40,414.78h0M188.40,422.66h0M188.40,430.54h0M196.30,367.50h0M196.30,375.38h0M196.30,383.26h0M196.30,391.14h0M196.30,399.02h0M196.30,406.90h0M196.30,414.78h0M196.30,422.66h0M196.30,430.54h0M204.20,367.50h0M204.20,375.38h0M204.20,383.26h0M204.20,391.14h0M204.20,399.02h0M204.20,406.90h0M204.20,414.78h0M204.20,422.66h0M204.20,430.54h0M212.10,367.50h0M212.10,375.38h0M212.10,383.26h0M212.10,391.14h0M212.10,399.02h0M212.10,406.90h0M212.10,414.78h0M212.10,422.66h0M212.10,430.54h0M220.00,367.50h0M220.00,375.38h0M220.00,383.26h0M220.00,391.14h0M220.00,399.02h0M220.00,406.90h0M220.00,414.78h0M220.00,422.66h0M220.00,430.54h0M227.90,367.50h0M227.90,375.38h0M227.90,383.26h0M227.90,391.14h0M227.90,399.02h0M227.90,406.90h0M227.90,414.78h0M227.90,422.66h0M227.90,430.54h0M235.80,367.50h0M235.80,375.38h0M235.80,383.26h0M235.80,391.14h0M235.80,399.02h0M235.80,406.90h0M235.80,414.78h0M235.80,422.66h0M235.80,430.54h0M243.70,367.50h0M243.70,375.38h0M243.70,383.26h0M243.70,391.14h0M243.70,399.02h0M243.70,406.90h0M243.70,414.78h0M243.70,422.66h0M243.70,430.54h0M251.60,367.50h0M251.60,375.38h0M251.60,383.26h0M251.60,391.14h0M251.60,399.02h0M251.60,406.90h0M251.60,414.78h0M251.60,422.66h0M251.60,430.54h0" stroke="#EBDB88" stroke-width="1.7" stroke-linecap="round" fill="none"/>
<circle cx="54.10" cy="367.50" r="4.05" fill="#4F69AD"/>
<circle cx="62.00" cy="367.50" r="3.95" fill="#D6824D"/>
<circle cx="220.00" cy="367.50" r="3.95" fill="#D6824D"/>
<circle cx="235.80" cy="367.50" r="3.95" fill="#D6824D"/>
<circle cx="243.70" cy="367.50" r="3.95" fill="#CE6240"/>
<circle cx="251.60" cy="367.50" r="3.95" fill="#B53A2E"/>
<circle cx="54.10" cy="375.38" r="4.05" fill="#4F69AD"/>
<circle cx="62.00" cy="375.38" r="3.95" fill="#D6824D"/>
<circle cx="85.70" cy="375.38" r="3.95" fill="#D6824D"/>
<circle cx="235.80" cy="375.38" r="3.95" fill="#D6824D"/>
<circle cx="243.70" cy="375.38" r="3.95" fill="#CE6240"/>
<circle cx="251.60" cy="375.38" r="3.95" fill="#B53A2E"/>
<circle cx="54.10" cy="391.14" r="4.05" fill="#5A78B5"/>
<circle cx="62.00" cy="391.14" r="3.95" fill="#D6824D"/>
<circle cx="69.90" cy="391.14" r="3.95" fill="#D6824D"/>
<circle cx="227.90" cy="391.14" r="3.95" fill="#D6824D"/>
<circle cx="243.70" cy="391.14" r="3.95" fill="#CE6240"/>
<circle cx="251.60" cy="391.14" r="3.95" fill="#AB3229"/>
<circle cx="54.10" cy="399.02" r="4.05" fill="#5A78B5"/>
<circle cx="220.00" cy="399.02" r="3.95" fill="#D6824D"/>
<circle cx="227.90" cy="399.02" r="3.95" fill="#D6824D"/>
<circle cx="235.80" cy="399.02" r="3.95" fill="#D6824D"/>
<circle cx="243.70" cy="399.02" r="3.95" fill="#CE6240"/>
<circle cx="251.60" cy="399.02" r="3.95" fill="#B53A2E"/>
<circle cx="54.10" cy="406.90" r="4.05" fill="#5A78B5"/>
<circle cx="85.70" cy="406.90" r="3.95" fill="#D6824D"/>
<circle cx="220.00" cy="406.90" r="3.95" fill="#D6824D"/>
<circle cx="235.80" cy="406.90" r="3.95" fill="#D6824D"/>
<circle cx="243.70" cy="406.90" r="3.95" fill="#CE6240"/>
<circle cx="251.60" cy="406.90" r="3.95" fill="#B53A2E"/>
<circle cx="54.10" cy="414.78" r="4.05" fill="#3F4D9D"/>
<circle cx="204.20" cy="414.78" r="3.95" fill="#D6824D"/>
<circle cx="220.00" cy="414.78" r="3.95" fill="#D6824D"/>
<circle cx="235.80" cy="414.78" r="3.95" fill="#D6824D"/>
<circle cx="243.70" cy="414.78" r="3.95" fill="#CE6240"/>
<circle cx="251.60" cy="414.78" r="3.95" fill="#B53A2E"/>
<circle cx="54.10" cy="422.66" r="4.05" fill="#5A78B5"/>
<circle cx="85.70" cy="422.66" r="3.95" fill="#D6824D"/>
<circle cx="227.90" cy="422.66" r="3.95" fill="#D6824D"/>
<circle cx="235.80" cy="422.66" r="3.95" fill="#D6824D"/>
<circle cx="243.70" cy="422.66" r="3.95" fill="#CE6240"/>
<circle cx="251.60" cy="422.66" r="3.95" fill="#B53A2E"/>
<circle cx="54.10" cy="430.54" r="4.05" fill="#5A78B5"/>
<circle cx="180.50" cy="430.54" r="3.95" fill="#D6824D"/>
<circle cx="220.00" cy="430.54" r="3.95" fill="#D6824D"/>
<circle cx="235.80" cy="430.54" r="3.95" fill="#D6824D"/>
<circle cx="243.70" cy="430.54" r="3.95" fill="#CE6240"/>
<circle cx="251.60" cy="430.54" r="3.95" fill="#B53A2E"/>
<rect x="49.5" y="363.5" width="207.00" height="71.00" fill="none" stroke="#2a2a2a" stroke-width="1.1"/>
<line x1="47.00" y1="367.50" x2="49.6" y2="367.50" stroke="#1a1a1a" stroke-width="1.0"/>
<line x1="47.00" y1="375.38" x2="49.6" y2="375.38" stroke="#1a1a1a" stroke-width="1.0"/>
<line x1="47.00" y1="383.26" x2="49.6" y2="383.26" stroke="#1a1a1a" stroke-width="1.0"/>
<line x1="47.00" y1="391.14" x2="49.6" y2="391.14" stroke="#1a1a1a" stroke-width="1.0"/>
<line x1="47.00" y1="399.02" x2="49.6" y2="399.02" stroke="#1a1a1a" stroke-width="1.0"/>
<line x1="47.00" y1="406.90" x2="49.6" y2="406.90" stroke="#1a1a1a" stroke-width="1.0"/>
<line x1="47.00" y1="414.78" x2="49.6" y2="414.78" stroke="#1a1a1a" stroke-width="1.0"/>
<line x1="47.00" y1="422.66" x2="49.6" y2="422.66" stroke="#1a1a1a" stroke-width="1.0"/>
<line x1="47.00" y1="430.54" x2="49.6" y2="430.54" stroke="#1a1a1a" stroke-width="1.0"/>
<line x1="54.10" y1="434.6" x2="54.10" y2="437.00" stroke="#1a1a1a" stroke-width="1.0"/>
<line x1="62.00" y1="434.6" x2="62.00" y2="437.00" stroke="#1a1a1a" stroke-width="1.0"/>
<line x1="69.90" y1="434.6" x2="69.90" y2="437.00" stroke="#1a1a1a" stroke-width="1.0"/>
<line x1="77.80" y1="434.6" x2="77.80" y2="437.00" stroke="#1a1a1a" stroke-width="1.0"/>
<line x1="85.70" y1="434.6" x2="85.70" y2="437.00" stroke="#1a1a1a" stroke-width="1.0"/>
<line x1="93.60" y1="434.6" x2="93.60" y2="437.00" stroke="#1a1a1a" stroke-width="1.0"/>
<line x1="101.50" y1="434.6" x2="101.50" y2="437.00" stroke="#1a1a1a" stroke-width="1.0"/>
<line x1="109.40" y1="434.6" x2="109.40" y2="437.00" stroke="#1a1a1a" stroke-width="1.0"/>
<line x1="117.30" y1="434.6" x2="117.30" y2="437.00" stroke="#1a1a1a" stroke-width="1.0"/>
<line x1="125.20" y1="434.6" x2="125.20" y2="437.00" stroke="#1a1a1a" stroke-width="1.0"/>
<line x1="133.10" y1="434.6" x2="133.10" y2="437.00" stroke="#1a1a1a" stroke-width="1.0"/>
<line x1="141.00" y1="434.6" x2="141.00" y2="437.00" stroke="#1a1a1a" stroke-width="1.0"/>
<line x1="148.90" y1="434.6" x2="148.90" y2="437.00" stroke="#1a1a1a" stroke-width="1.0"/>
<line x1="156.80" y1="434.6" x2="156.80" y2="437.00" stroke="#1a1a1a" stroke-width="1.0"/>
<line x1="164.70" y1="434.6" x2="164.70" y2="437.00" stroke="#1a1a1a" stroke-width="1.0"/>
<line x1="172.60" y1="434.6" x2="172.60" y2="437.00" stroke="#1a1a1a" stroke-width="1.0"/>
<line x1="180.50" y1="434.6" x2="180.50" y2="437.00" stroke="#1a1a1a" stroke-width="1.0"/>
<line x1="188.40" y1="434.6" x2="188.40" y2="437.00" stroke="#1a1a1a" stroke-width="1.0"/>
<line x1="196.30" y1="434.6" x2="196.30" y2="437.00" stroke="#1a1a1a" stroke-width="1.0"/>
<line x1="204.20" y1="434.6" x2="204.20" y2="437.00" stroke="#1a1a1a" stroke-width="1.0"/>
<line x1="212.10" y1="434.6" x2="212.10" y2="437.00" stroke="#1a1a1a" stroke-width="1.0"/>
<line x1="220.00" y1="434.6" x2="220.00" y2="437.00" stroke="#1a1a1a" stroke-width="1.0"/>
<line x1="227.90" y1="434.6" x2="227.90" y2="437.00" stroke="#1a1a1a" stroke-width="1.0"/>
<line x1="235.80" y1="434.6" x2="235.80" y2="437.00" stroke="#1a1a1a" stroke-width="1.0"/>
<line x1="243.70" y1="434.6" x2="243.70" y2="437.00" stroke="#1a1a1a" stroke-width="1.0"/>
<line x1="251.60" y1="434.6" x2="251.60" y2="437.00" stroke="#1a1a1a" stroke-width="1.0"/>
<path d="M268.00,363.3V434.6M275.80,363.3V434.6M283.60,363.3V434.6M291.40,363.3V434.6M299.20,363.3V434.6M263.4,367.50H303.7M263.4,375.38H303.7M263.4,383.26H303.7M263.4,391.14H303.7M263.4,399.02H303.7M263.4,406.90H303.7M263.4,414.78H303.7M263.4,422.66H303.7M263.4,430.54H303.7" stroke="#B6B6B6" stroke-width="1" fill="none"/>
<path d="M268.00,367.50h0M268.00,375.38h0M268.00,383.26h0M268.00,391.14h0M268.00,399.02h0M268.00,406.90h0M268.00,414.78h0M268.00,422.66h0M268.00,430.54h0M275.80,367.50h0M275.80,375.38h0M275.80,383.26h0M275.80,391.14h0M275.80,399.02h0M275.80,406.90h0M275.80,414.78h0M275.80,422.66h0M275.80,430.54h0M283.60,367.50h0M283.60,375.38h0M283.60,383.26h0M283.60,391.14h0M283.60,399.02h0M283.60,406.90h0M283.60,414.78h0M283.60,422.66h0M283.60,430.54h0M291.40,367.50h0M291.40,375.38h0M291.40,383.26h0M291.40,391.14h0M291.40,399.02h0M291.40,406.90h0M291.40,414.78h0M291.40,422.66h0M291.40,430.54h0M299.20,367.50h0M299.20,375.38h0M299.20,383.26h0M299.20,391.14h0M299.20,399.02h0M299.20,406.90h0M299.20,414.78h0M299.20,422.66h0M299.20,430.54h0" stroke="#EBDB88" stroke-width="1.7" stroke-linecap="round" fill="none"/>
<circle cx="275.80" cy="367.50" r="2.35" fill="#DEA260"/>
<circle cx="283.60" cy="375.38" r="2.35" fill="#DEA260"/>
<circle cx="299.20" cy="375.38" r="2.35" fill="#DEA260"/>
<circle cx="275.80" cy="391.14" r="2.35" fill="#DEA260"/>
<circle cx="268.00" cy="399.02" r="2.35" fill="#DEA260"/>
<circle cx="275.80" cy="399.02" r="2.35" fill="#DEA260"/>
<circle cx="275.80" cy="406.90" r="2.35" fill="#DEA260"/>
<circle cx="299.20" cy="414.78" r="2.35" fill="#DEA260"/>
<circle cx="275.80" cy="422.66" r="2.35" fill="#DEA260"/>
<circle cx="275.80" cy="430.54" r="2.75" fill="#DEA260"/>
<circle cx="283.60" cy="430.54" r="1.90" fill="#DEA260"/>
<rect x="263.5" y="363.5" width="40.00" height="71.00" fill="none" stroke="#2a2a2a" stroke-width="1.1"/>
<line x1="268.00" y1="434.6" x2="268.00" y2="437.00" stroke="#1a1a1a" stroke-width="1.0"/>
<line x1="275.80" y1="434.6" x2="275.80" y2="437.00" stroke="#1a1a1a" stroke-width="1.0"/>
<line x1="283.60" y1="434.6" x2="283.60" y2="437.00" stroke="#1a1a1a" stroke-width="1.0"/>
<line x1="291.40" y1="434.6" x2="291.40" y2="437.00" stroke="#1a1a1a" stroke-width="1.0"/>
<line x1="299.20" y1="434.6" x2="299.20" y2="437.00" stroke="#1a1a1a" stroke-width="1.0"/>
<text x="45.2" y="370.96" font-size="8.0" text-anchor="end" fill="#262626" stroke="#262626" stroke-width="0.22" font-weight="normal" >M−IEP</text>
<text x="45.2" y="378.94" font-size="8.0" text-anchor="end" fill="#262626" stroke="#262626" stroke-width="0.22" font-weight="normal" >M−EEP</text>
<text x="45.2" y="386.92" font-size="8.0" text-anchor="end" fill="#262626" stroke="#262626" stroke-width="0.22" font-weight="normal" >M−EP</text>
<text x="45.2" y="394.90" font-size="8.0" text-anchor="end" fill="#262626" stroke="#262626" stroke-width="0.22" font-weight="normal" >F−IEP</text>
<text x="45.2" y="402.88" font-size="8.0" text-anchor="end" fill="#262626" stroke="#262626" stroke-width="0.22" font-weight="normal" >F−EEP</text>
<text x="45.2" y="410.86" font-size="8.0" text-anchor="end" fill="#262626" stroke="#262626" stroke-width="0.22" font-weight="normal" >F−EP</text>
<text x="45.2" y="418.84" font-size="8.0" text-anchor="end" fill="#262626" stroke="#262626" stroke-width="0.22" font-weight="normal" >O−IEP</text>
<text x="45.2" y="426.82" font-size="8.0" text-anchor="end" fill="#262626" stroke="#262626" stroke-width="0.22" font-weight="normal" >O−EEP</text>
<text x="45.2" y="434.80" font-size="8.0" text-anchor="end" fill="#262626" stroke="#262626" stroke-width="0.22" font-weight="normal" >O−EP</text>
<text x="0" y="0" font-size="12" text-anchor="middle" fill="#111" stroke="#111" stroke-width="0.22" font-weight="normal" transform="translate(13.8,402.5) rotate(-90)">PLS2</text>
<path d="M54.10,442.2V513.3M62.00,442.2V513.3M69.90,442.2V513.3M77.80,442.2V513.3M85.70,442.2V513.3M93.60,442.2V513.3M101.50,442.2V513.3M109.40,442.2V513.3M117.30,442.2V513.3M125.20,442.2V513.3M133.10,442.2V513.3M141.00,442.2V513.3M148.90,442.2V513.3M156.80,442.2V513.3M164.70,442.2V513.3M172.60,442.2V513.3M180.50,442.2V513.3M188.40,442.2V513.3M196.30,442.2V513.3M204.20,442.2V513.3M212.10,442.2V513.3M220.00,442.2V513.3M227.90,442.2V513.3M235.80,442.2V513.3M243.70,442.2V513.3M251.60,442.2V513.3M49.6,446.60H256.1M49.6,454.43H256.1M49.6,462.26H256.1M49.6,470.09H256.1M49.6,477.92H256.1M49.6,485.75H256.1M49.6,493.58H256.1M49.6,501.41H256.1M49.6,509.24H256.1" stroke="#B6B6B6" stroke-width="1" fill="none"/>
<path d="M54.10,446.60h0M54.10,454.43h0M54.10,462.26h0M54.10,470.09h0M54.10,477.92h0M54.10,485.75h0M54.10,493.58h0M54.10,501.41h0M54.10,509.24h0M62.00,446.60h0M62.00,454.43h0M62.00,462.26h0M62.00,470.09h0M62.00,477.92h0M62.00,485.75h0M62.00,493.58h0M62.00,501.41h0M62.00,509.24h0M69.90,446.60h0M69.90,454.43h0M69.90,462.26h0M69.90,470.09h0M69.90,477.92h0M69.90,485.75h0M69.90,493.58h0M69.90,501.41h0M69.90,509.24h0M77.80,446.60h0M77.80,454.43h0M77.80,462.26h0M77.80,470.09h0M77.80,477.92h0M77.80,485.75h0M77.80,493.58h0M77.80,501.41h0M77.80,509.24h0M85.70,446.60h0M85.70,454.43h0M85.70,462.26h0M85.70,470.09h0M85.70,477.92h0M85.70,485.75h0M85.70,493.58h0M85.70,501.41h0M85.70,509.24h0M93.60,446.60h0M93.60,454.43h0M93.60,462.26h0M93.60,470.09h0M93.60,477.92h0M93.60,485.75h0M93.60,493.58h0M93.60,501.41h0M93.60,509.24h0M101.50,446.60h0M101.50,454.43h0M101.50,462.26h0M101.50,470.09h0M101.50,477.92h0M101.50,485.75h0M101.50,493.58h0M101.50,501.41h0M101.50,509.24h0M109.40,446.60h0M109.40,454.43h0M109.40,462.26h0M109.40,470.09h0M109.40,477.92h0M109.40,485.75h0M109.40,493.58h0M109.40,501.41h0M109.40,509.24h0M117.30,446.60h0M117.30,454.43h0M117.30,462.26h0M117.30,470.09h0M117.30,477.92h0M117.30,485.75h0M117.30,493.58h0M117.30,501.41h0M117.30,509.24h0M125.20,446.60h0M125.20,454.43h0M125.20,462.26h0M125.20,470.09h0M125.20,477.92h0M125.20,485.75h0M125.20,493.58h0M125.20,501.41h0M125.20,509.24h0M133.10,446.60h0M133.10,454.43h0M133.10,462.26h0M133.10,470.09h0M133.10,477.92h0M133.10,485.75h0M133.10,493.58h0M133.10,501.41h0M133.10,509.24h0M141.00,446.60h0M141.00,454.43h0M141.00,462.26h0M141.00,470.09h0M141.00,477.92h0M141.00,485.75h0M141.00,493.58h0M141.00,501.41h0M141.00,509.24h0M148.90,446.60h0M148.90,454.43h0M148.90,462.26h0M148.90,470.09h0M148.90,477.92h0M148.90,485.75h0M148.90,493.58h0M148.90,501.41h0M148.90,509.24h0M156.80,446.60h0M156.80,454.43h0M156.80,462.26h0M156.80,470.09h0M156.80,477.92h0M156.80,485.75h0M156.80,493.58h0M156.80,501.41h0M156.80,509.24h0M164.70,446.60h0M164.70,454.43h0M164.70,462.26h0M164.70,470.09h0M164.70,477.92h0M164.70,485.75h0M164.70,493.58h0M164.70,501.41h0M164.70,509.24h0M172.60,446.60h0M172.60,454.43h0M172.60,462.26h0M172.60,470.09h0M172.60,477.92h0M172.60,485.75h0M172.60,493.58h0M172.60,501.41h0M172.60,509.24h0M180.50,446.60h0M180.50,454.43h0M180.50,462.26h0M180.50,470.09h0M180.50,477.92h0M180.50,485.75h0M180.50,493.58h0M180.50,501.41h0M180.50,509.24h0M188.40,446.60h0M188.40,454.43h0M188.40,462.26h0M188.40,470.09h0M188.40,477.92h0M188.40,485.75h0M188.40,493.58h0M188.40,501.41h0M188.40,509.24h0M196.30,446.60h0M196.30,454.43h0M196.30,462.26h0M196.30,470.09h0M196.30,477.92h0M196.30,485.75h0M196.30,493.58h0M196.30,501.41h0M196.30,509.24h0M204.20,446.60h0M204.20,454.43h0M204.20,462.26h0M204.20,470.09h0M204.20,477.92h0M204.20,485.75h0M204.20,493.58h0M204.20,501.41h0M204.20,509.24h0M212.10,446.60h0M212.10,454.43h0M212.10,462.26h0M212.10,470.09h0M212.10,477.92h0M212.10,485.75h0M212.10,493.58h0M212.10,501.41h0M212.10,509.24h0M220.00,446.60h0M220.00,454.43h0M220.00,462.26h0M220.00,470.09h0M220.00,477.92h0M220.00,485.75h0M220.00,493.58h0M220.00,501.41h0M220.00,509.24h0M227.90,446.60h0M227.90,454.43h0M227.90,462.26h0M227.90,470.09h0M227.90,477.92h0M227.90,485.75h0M227.90,493.58h0M227.90,501.41h0M227.90,509.24h0M235.80,446.60h0M235.80,454.43h0M235.80,462.26h0M235.80,470.09h0M235.80,477.92h0M235.80,485.75h0M235.80,493.58h0M235.80,501.41h0M235.80,509.24h0M243.70,446.60h0M243.70,454.43h0M243.70,462.26h0M243.70,470.09h0M243.70,477.92h0M243.70,485.75h0M243.70,493.58h0M243.70,501.41h0M243.70,509.24h0M251.60,446.60h0M251.60,454.43h0M251.60,462.26h0M251.60,470.09h0M251.60,477.92h0M251.60,485.75h0M251.60,493.58h0M251.60,501.41h0M251.60,509.24h0" stroke="#EBDB88" stroke-width="1.7" stroke-linecap="round" fill="none"/>
<circle cx="54.10" cy="446.60" r="4.05" fill="#5A78B5"/>
<circle cx="62.00" cy="446.60" r="3.95" fill="#D6824D"/>
<circle cx="220.00" cy="446.60" r="3.95" fill="#D6824D"/>
<circle cx="235.80" cy="446.60" r="3.95" fill="#D6824D"/>
<circle cx="243.70" cy="446.60" r="3.95" fill="#CE6240"/>
<circle cx="251.60" cy="446.60" r="3.95" fill="#B53A2E"/>
<circle cx="54.10" cy="454.43" r="4.05" fill="#5A78B5"/>
<circle cx="77.80" cy="454.43" r="3.95" fill="#D6824D"/>
<circle cx="180.50" cy="454.43" r="3.95" fill="#D6824D"/>
<circle cx="235.80" cy="454.43" r="3.95" fill="#D6824D"/>
<circle cx="243.70" cy="454.43" r="3.95" fill="#CE6240"/>
<circle cx="251.60" cy="454.43" r="3.95" fill="#B53A2E"/>
<circle cx="54.10" cy="462.26" r="4.05" fill="#5A78B5"/>
<circle cx="204.20" cy="462.26" r="3.95" fill="#D6824D"/>
<circle cx="220.00" cy="462.26" r="3.95" fill="#D6824D"/>
<circle cx="235.80" cy="462.26" r="3.95" fill="#D6824D"/>
<circle cx="243.70" cy="462.26" r="3.95" fill="#CE6240"/>
<circle cx="251.60" cy="462.26" r="3.95" fill="#B53A2E"/>
<circle cx="54.10" cy="470.09" r="4.05" fill="#4F66AB"/>
<circle cx="101.50" cy="470.09" r="3.95" fill="#D6824D"/>
<circle cx="180.50" cy="470.09" r="3.95" fill="#D6824D"/>
<circle cx="235.80" cy="470.09" r="3.95" fill="#D6824D"/>
<circle cx="243.70" cy="470.09" r="3.95" fill="#CE6240"/>
<circle cx="251.60" cy="470.09" r="3.95" fill="#B8402F"/>
<circle cx="54.10" cy="477.92" r="4.05" fill="#5A78B5"/>
<circle cx="101.50" cy="477.92" r="3.95" fill="#D6824D"/>
<circle cx="220.00" cy="477.92" r="3.95" fill="#D6824D"/>
<circle cx="235.80" cy="477.92" r="3.95" fill="#D6824D"/>
<circle cx="243.70" cy="477.92" r="3.95" fill="#CE6240"/>
<circle cx="251.60" cy="477.92" r="3.95" fill="#AB3229"/>
<circle cx="54.10" cy="485.75" r="4.05" fill="#5A78B5"/>
<circle cx="62.00" cy="485.75" r="3.95" fill="#D6824D"/>
<circle cx="69.90" cy="485.75" r="3.95" fill="#D6824D"/>
<circle cx="133.10" cy="485.75" r="3.95" fill="#D6824D"/>
<circle cx="243.70" cy="485.75" r="3.95" fill="#CE6240"/>
<circle cx="251.60" cy="485.75" r="3.95" fill="#B53A2E"/>
<circle cx="54.10" cy="493.58" r="4.05" fill="#5A78B5"/>
<circle cx="93.60" cy="493.58" r="2.35" fill="#D6824D"/>
<circle cx="212.10" cy="493.58" r="3.95" fill="#D6824D"/>
<circle cx="235.80" cy="493.58" r="3.95" fill="#D6824D"/>
<circle cx="243.70" cy="493.58" r="3.95" fill="#CE6240"/>
<circle cx="251.60" cy="493.58" r="3.95" fill="#B53A2E"/>
<circle cx="54.10" cy="501.41" r="4.05" fill="#5A78B5"/>
<circle cx="62.00" cy="501.41" r="3.95" fill="#D6824D"/>
<circle cx="220.00" cy="501.41" r="3.95" fill="#D6824D"/>
<circle cx="235.80" cy="501.41" r="3.95" fill="#D6824D"/>
<circle cx="243.70" cy="501.41" r="3.95" fill="#CE6240"/>
<circle cx="251.60" cy="501.41" r="3.95" fill="#B53A2E"/>
<circle cx="54.10" cy="509.24" r="4.05" fill="#5A78B5"/>
<circle cx="180.50" cy="509.24" r="3.95" fill="#D6824D"/>
<circle cx="220.00" cy="509.24" r="3.95" fill="#D6824D"/>
<circle cx="235.80" cy="509.24" r="3.95" fill="#D6824D"/>
<circle cx="243.70" cy="509.24" r="3.95" fill="#CE6240"/>
<circle cx="251.60" cy="509.24" r="3.95" fill="#B53A2E"/>
<rect x="49.5" y="442.5" width="207.00" height="71.00" fill="none" stroke="#2a2a2a" stroke-width="1.1"/>
<line x1="47.00" y1="446.60" x2="49.6" y2="446.60" stroke="#1a1a1a" stroke-width="1.0"/>
<line x1="47.00" y1="454.43" x2="49.6" y2="454.43" stroke="#1a1a1a" stroke-width="1.0"/>
<line x1="47.00" y1="462.26" x2="49.6" y2="462.26" stroke="#1a1a1a" stroke-width="1.0"/>
<line x1="47.00" y1="470.09" x2="49.6" y2="470.09" stroke="#1a1a1a" stroke-width="1.0"/>
<line x1="47.00" y1="477.92" x2="49.6" y2="477.92" stroke="#1a1a1a" stroke-width="1.0"/>
<line x1="47.00" y1="485.75" x2="49.6" y2="485.75" stroke="#1a1a1a" stroke-width="1.0"/>
<line x1="47.00" y1="493.58" x2="49.6" y2="493.58" stroke="#1a1a1a" stroke-width="1.0"/>
<line x1="47.00" y1="501.41" x2="49.6" y2="501.41" stroke="#1a1a1a" stroke-width="1.0"/>
<line x1="47.00" y1="509.24" x2="49.6" y2="509.24" stroke="#1a1a1a" stroke-width="1.0"/>
<line x1="54.10" y1="513.3" x2="54.10" y2="515.70" stroke="#1a1a1a" stroke-width="1.0"/>
<line x1="62.00" y1="513.3" x2="62.00" y2="515.70" stroke="#1a1a1a" stroke-width="1.0"/>
<line x1="69.90" y1="513.3" x2="69.90" y2="515.70" stroke="#1a1a1a" stroke-width="1.0"/>
<line x1="77.80" y1="513.3" x2="77.80" y2="515.70" stroke="#1a1a1a" stroke-width="1.0"/>
<line x1="85.70" y1="513.3" x2="85.70" y2="515.70" stroke="#1a1a1a" stroke-width="1.0"/>
<line x1="93.60" y1="513.3" x2="93.60" y2="515.70" stroke="#1a1a1a" stroke-width="1.0"/>
<line x1="101.50" y1="513.3" x2="101.50" y2="515.70" stroke="#1a1a1a" stroke-width="1.0"/>
<line x1="109.40" y1="513.3" x2="109.40" y2="515.70" stroke="#1a1a1a" stroke-width="1.0"/>
<line x1="117.30" y1="513.3" x2="117.30" y2="515.70" stroke="#1a1a1a" stroke-width="1.0"/>
<line x1="125.20" y1="513.3" x2="125.20" y2="515.70" stroke="#1a1a1a" stroke-width="1.0"/>
<line x1="133.10" y1="513.3" x2="133.10" y2="515.70" stroke="#1a1a1a" stroke-width="1.0"/>
<line x1="141.00" y1="513.3" x2="141.00" y2="515.70" stroke="#1a1a1a" stroke-width="1.0"/>
<line x1="148.90" y1="513.3" x2="148.90" y2="515.70" stroke="#1a1a1a" stroke-width="1.0"/>
<line x1="156.80" y1="513.3" x2="156.80" y2="515.70" stroke="#1a1a1a" stroke-width="1.0"/>
<line x1="164.70" y1="513.3" x2="164.70" y2="515.70" stroke="#1a1a1a" stroke-width="1.0"/>
<line x1="172.60" y1="513.3" x2="172.60" y2="515.70" stroke="#1a1a1a" stroke-width="1.0"/>
<line x1="180.50" y1="513.3" x2="180.50" y2="515.70" stroke="#1a1a1a" stroke-width="1.0"/>
<line x1="188.40" y1="513.3" x2="188.40" y2="515.70" stroke="#1a1a1a" stroke-width="1.0"/>
<line x1="196.30" y1="513.3" x2="196.30" y2="515.70" stroke="#1a1a1a" stroke-width="1.0"/>
<line x1="204.20" y1="513.3" x2="204.20" y2="515.70" stroke="#1a1a1a" stroke-width="1.0"/>
<line x1="212.10" y1="513.3" x2="212.10" y2="515.70" stroke="#1a1a1a" stroke-width="1.0"/>
<line x1="220.00" y1="513.3" x2="220.00" y2="515.70" stroke="#1a1a1a" stroke-width="1.0"/>
<line x1="227.90" y1="513.3" x2="227.90" y2="515.70" stroke="#1a1a1a" stroke-width="1.0"/>
<line x1="235.80" y1="513.3" x2="235.80" y2="515.70" stroke="#1a1a1a" stroke-width="1.0"/>
<line x1="243.70" y1="513.3" x2="243.70" y2="515.70" stroke="#1a1a1a" stroke-width="1.0"/>
<line x1="251.60" y1="513.3" x2="251.60" y2="515.70" stroke="#1a1a1a" stroke-width="1.0"/>
<path d="M268.00,442.2V513.3M275.80,442.2V513.3M283.60,442.2V513.3M291.40,442.2V513.3M299.20,442.2V513.3M263.4,446.60H303.7M263.4,454.43H303.7M263.4,462.26H303.7M263.4,470.09H303.7M263.4,477.92H303.7M263.4,485.75H303.7M263.4,493.58H303.7M263.4,501.41H303.7M263.4,509.24H303.7" stroke="#B6B6B6" stroke-width="1" fill="none"/>
<path d="M268.00,446.60h0M268.00,454.43h0M268.00,462.26h0M268.00,470.09h0M268.00,477.92h0M268.00,485.75h0M268.00,493.58h0M268.00,501.41h0M268.00,509.24h0M275.80,446.60h0M275.80,454.43h0M275.80,462.26h0M275.80,470.09h0M275.80,477.92h0M275.80,485.75h0M275.80,493.58h0M275.80,501.41h0M275.80,509.24h0M283.60,446.60h0M283.60,454.43h0M283.60,462.26h0M283.60,470.09h0M283.60,477.92h0M283.60,485.75h0M283.60,493.58h0M283.60,501.41h0M283.60,509.24h0M291.40,446.60h0M291.40,454.43h0M291.40,462.26h0M291.40,470.09h0M291.40,477.92h0M291.40,485.75h0M291.40,493.58h0M291.40,501.41h0M291.40,509.24h0M299.20,446.60h0M299.20,454.43h0M299.20,462.26h0M299.20,470.09h0M299.20,477.92h0M299.20,485.75h0M299.20,493.58h0M299.20,501.41h0M299.20,509.24h0" stroke="#EBDB88" stroke-width="1.7" stroke-linecap="round" fill="none"/>
<circle cx="299.20" cy="446.60" r="2.35" fill="#DEA260"/>
<circle cx="275.80" cy="454.43" r="2.35" fill="#DEA260"/>
<circle cx="275.80" cy="462.26" r="2.75" fill="#DEA260"/>
<circle cx="299.20" cy="462.26" r="2.75" fill="#DEA260"/>
<circle cx="275.80" cy="470.09" r="2.75" fill="#DEA260"/>
<circle cx="275.80" cy="485.75" r="2.35" fill="#DEA260"/>
<circle cx="291.40" cy="493.58" r="2.35" fill="#DEA260"/>
<circle cx="299.20" cy="493.58" r="2.35" fill="#DEA260"/>
<circle cx="275.80" cy="501.41" r="2.35" fill="#DEA260"/>
<circle cx="275.80" cy="509.24" r="2.35" fill="#DEA260"/>
<circle cx="291.40" cy="509.24" r="2.35" fill="#DEA260"/>
<rect x="263.5" y="442.5" width="40.00" height="71.00" fill="none" stroke="#2a2a2a" stroke-width="1.1"/>
<line x1="268.00" y1="513.3" x2="268.00" y2="515.70" stroke="#1a1a1a" stroke-width="1.0"/>
<line x1="275.80" y1="513.3" x2="275.80" y2="515.70" stroke="#1a1a1a" stroke-width="1.0"/>
<line x1="283.60" y1="513.3" x2="283.60" y2="515.70" stroke="#1a1a1a" stroke-width="1.0"/>
<line x1="291.40" y1="513.3" x2="291.40" y2="515.70" stroke="#1a1a1a" stroke-width="1.0"/>
<line x1="299.20" y1="513.3" x2="299.20" y2="515.70" stroke="#1a1a1a" stroke-width="1.0"/>
<text x="45.2" y="450.06" font-size="8.0" text-anchor="end" fill="#262626" stroke="#262626" stroke-width="0.22" font-weight="normal" >M−IEP</text>
<text x="45.2" y="457.99" font-size="8.0" text-anchor="end" fill="#262626" stroke="#262626" stroke-width="0.22" font-weight="normal" >M−EEP</text>
<text x="45.2" y="465.92" font-size="8.0" text-anchor="end" fill="#262626" stroke="#262626" stroke-width="0.22" font-weight="normal" >M−EP</text>
<text x="45.2" y="473.85" font-size="8.0" text-anchor="end" fill="#262626" stroke="#262626" stroke-width="0.22" font-weight="normal" >F−IEP</text>
<text x="45.2" y="481.78" font-size="8.0" text-anchor="end" fill="#262626" stroke="#262626" stroke-width="0.22" font-weight="normal" >F−EEP</text>
<text x="45.2" y="489.71" font-size="8.0" text-anchor="end" fill="#262626" stroke="#262626" stroke-width="0.22" font-weight="normal" >F−EP</text>
<text x="45.2" y="497.64" font-size="8.0" text-anchor="end" fill="#262626" stroke="#262626" stroke-width="0.22" font-weight="normal" >O−IEP</text>
<text x="45.2" y="505.57" font-size="8.0" text-anchor="end" fill="#262626" stroke="#262626" stroke-width="0.22" font-weight="normal" >O−EEP</text>
<text x="45.2" y="513.50" font-size="8.0" text-anchor="end" fill="#262626" stroke="#262626" stroke-width="0.22" font-weight="normal" >O−EP</text>
<text x="0" y="0" font-size="12" text-anchor="middle" fill="#111" stroke="#111" stroke-width="0.22" font-weight="normal" transform="translate(13.8,478.2) rotate(-90)">PLS3</text>
<text x="160.3" y="282.3" font-size="12" text-anchor="middle" fill="#111" stroke="#111" stroke-width="0.22" font-weight="normal" >Pathways</text>
<text x="283.6" y="282.3" font-size="12" text-anchor="middle" fill="#111" stroke="#111" stroke-width="0.22" font-weight="normal" >Disease</text>
<text x="1.4" y="278.9" font-size="12" text-anchor="start" fill="#111" stroke="#111" stroke-width="0.22" font-weight="normal" >(B)</text>
<text x="0" y="0" font-size="6.8" text-anchor="middle" fill="#262626" stroke="#262626" stroke-width="0.22" font-weight="normal" transform="translate(52.10,522.0) scale(0.86,1)">1</text>
<text x="0" y="0" font-size="6.8" text-anchor="middle" fill="#262626" stroke="#262626" stroke-width="0.22" font-weight="normal" transform="translate(60.10,522.0) scale(0.86,1)">2</text>
<text x="0" y="0" font-size="6.8" text-anchor="middle" fill="#262626" stroke="#262626" stroke-width="0.22" font-weight="normal" transform="translate(68.10,522.0) scale(0.86,1)">3</text>
<text x="0" y="0" font-size="6.8" text-anchor="middle" fill="#262626" stroke="#262626" stroke-width="0.22" font-weight="normal" transform="translate(76.10,522.0) scale(0.86,1)">4</text>
<text x="0" y="0" font-size="6.8" text-anchor="middle" fill="#262626" stroke="#262626" stroke-width="0.22" font-weight="normal" transform="translate(84.10,522.0) scale(0.86,1)">5</text>
<text x="0" y="0" font-size="6.8" text-anchor="middle" fill="#262626" stroke="#262626" stroke-width="0.22" font-weight="normal" transform="translate(92.10,522.0) scale(0.86,1)">6</text>
<text x="0" y="0" font-size="6.8" text-anchor="middle" fill="#262626" stroke="#262626" stroke-width="0.22" font-weight="normal" transform="translate(100.10,522.0) scale(0.86,1)">7</text>
<text x="0" y="0" font-size="6.8" text-anchor="middle" fill="#262626" stroke="#262626" stroke-width="0.22" font-weight="normal" transform="translate(108.10,522.0) scale(0.86,1)">8</text>
<text x="0" y="0" font-size="6.8" text-anchor="middle" fill="#262626" stroke="#262626" stroke-width="0.22" font-weight="normal" transform="translate(116.10,522.0) scale(0.86,1)">9</text>
<text x="0" y="0" font-size="6.8" text-anchor="middle" fill="#262626" stroke="#262626" stroke-width="0.22" font-weight="normal" transform="translate(124.10,522.0) scale(0.86,1)">10</text>
<text x="0" y="0" font-size="6.8" text-anchor="middle" fill="#262626" stroke="#262626" stroke-width="0.22" font-weight="normal" transform="translate(132.10,522.0) scale(0.86,1)">11</text>
<text x="0" y="0" font-size="6.8" text-anchor="middle" fill="#262626" stroke="#262626" stroke-width="0.22" font-weight="normal" transform="translate(140.10,522.0) scale(0.86,1)">12</text>
<text x="0" y="0" font-size="6.8" text-anchor="middle" fill="#262626" stroke="#262626" stroke-width="0.22" font-weight="normal" transform="translate(148.10,522.0) scale(0.86,1)">13</text>
<text x="0" y="0" font-size="6.8" text-anchor="middle" fill="#262626" stroke="#262626" stroke-width="0.22" font-weight="normal" transform="translate(156.10,522.0) scale(0.86,1)">14</text>
<text x="0" y="0" font-size="6.8" text-anchor="middle" fill="#262626" stroke="#262626" stroke-width="0.22" font-weight="normal" transform="translate(164.10,522.0) scale(0.86,1)">15</text>
<text x="0" y="0" font-size="6.8" text-anchor="middle" fill="#262626" stroke="#262626" stroke-width="0.22" font-weight="normal" transform="translate(172.10,522.0) scale(0.86,1)">16</text>
<text x="0" y="0" font-size="6.8" text-anchor="middle" fill="#262626" stroke="#262626" stroke-width="0.22" font-weight="normal" transform="translate(180.10,522.0) scale(0.86,1)">17</text>
<text x="0" y="0" font-size="6.8" text-anchor="middle" fill="#262626" stroke="#262626" stroke-width="0.22" font-weight="normal" transform="translate(188.10,522.0) scale(0.86,1)">18</text>
<text x="0" y="0" font-size="6.8" text-anchor="middle" fill="#262626" stroke="#262626" stroke-width="0.22" font-weight="normal" transform="translate(196.10,522.0) scale(0.86,1)">19</text>
<text x="0" y="0" font-size="6.8" text-anchor="middle" fill="#262626" stroke="#262626" stroke-width="0.22" font-weight="normal" transform="translate(204.10,522.0) scale(0.86,1)">20</text>
<text x="0" y="0" font-size="6.8" text-anchor="middle" fill="#262626" stroke="#262626" stroke-width="0.22" font-weight="normal" transform="translate(212.10,522.0) scale(0.86,1)">21</text>
<text x="0" y="0" font-size="6.8" text-anchor="middle" fill="#262626" stroke="#262626" stroke-width="0.22" font-weight="normal" transform="translate(220.10,522.0) scale(0.86,1)">22</text>
<text x="0" y="0" font-size="6.8" text-anchor="middle" fill="#262626" stroke="#262626" stroke-width="0.22" font-weight="normal" transform="translate(228.10,522.0) scale(0.86,1)">23</text>
<text x="0" y="0" font-size="6.8" text-anchor="middle" fill="#4A8FD0" stroke="#4A8FD0" stroke-width="0.22" font-weight="normal" transform="translate(236.10,522.0) scale(0.86,1)">24</text>
<text x="0" y="0" font-size="6.8" text-anchor="middle" fill="#C9302C" stroke="#C9302C" stroke-width="0.22" font-weight="normal" transform="translate(244.10,522.0) scale(0.86,1)">25</text>
<text x="0" y="0" font-size="6.8" text-anchor="middle" fill="#4BA6DC" stroke="#4BA6DC" stroke-width="0.22" font-weight="normal" transform="translate(252.10,522.0) scale(0.86,1)">26</text>
<text x="0" y="0" font-size="6.8" text-anchor="middle" fill="#262626" stroke="#262626" stroke-width="0.22" font-weight="normal" transform="translate(266.70,522.0) scale(0.86,1)">1</text>
<text x="0" y="0" font-size="6.8" text-anchor="middle" fill="#C89B45" stroke="#C89B45" stroke-width="0.22" font-weight="normal" transform="translate(275.05,522.0) scale(0.86,1)">2</text>
<text x="0" y="0" font-size="6.8" text-anchor="middle" fill="#262626" stroke="#262626" stroke-width="0.22" font-weight="normal" transform="translate(283.40,522.0) scale(0.86,1)">3</text>
<text x="0" y="0" font-size="6.8" text-anchor="middle" fill="#C89B45" stroke="#C89B45" stroke-width="0.22" font-weight="normal" transform="translate(291.75,522.0) scale(0.86,1)">4</text>
<text x="0" y="0" font-size="6.8" text-anchor="middle" fill="#C89B45" stroke="#C89B45" stroke-width="0.22" font-weight="normal" transform="translate(300.10,522.0) scale(0.86,1)">5</text>
<text x="238.0" y="531.4" font-size="7.9" text-anchor="end" fill="#4E79C0" stroke="#4E79C0" stroke-width="0.22" font-weight="normal" >fatty acid degradation</text>
<text x="245.1" y="541.4" font-size="7.9" text-anchor="end" fill="#AC2230" stroke="#AC2230" stroke-width="0.22" font-weight="normal" >ABC transporters</text>
<text x="256.4" y="551.2" font-size="7.9" text-anchor="end" fill="#4E79C0" stroke="#4E79C0" stroke-width="0.22" font-weight="normal" >Metabolic pathways</text>
<line x1="244.1" y1="523.5" x2="244.1" y2="534" stroke="#444" stroke-width="0.7"/>
<line x1="252.0" y1="523.5" x2="252.0" y2="544.5" stroke="#444" stroke-width="0.7"/>
<text x="297.7" y="532.2" font-size="7.9" text-anchor="start" fill="#C89B45" stroke="#C89B45" stroke-width="0.22" font-weight="normal" >Autistic Disorder</text>
<text x="290.2" y="542.3" font-size="7.9" text-anchor="start" fill="#C89B45" stroke="#C89B45" stroke-width="0.22" font-weight="normal" >Alzheimer's Disease</text>
<text x="272.5" y="552.3" font-size="7.9" text-anchor="start" fill="#C89B45" stroke="#C89B45" stroke-width="0.22" font-weight="normal" >Disease Progression</text>
<line x1="275.6" y1="523.5" x2="275.6" y2="543.5" stroke="#444" stroke-width="0.7"/>
<line x1="292.1" y1="523.5" x2="292.1" y2="534" stroke="#444" stroke-width="0.7"/>
<path d="M397.70,307.3V515.2M407.50,307.3V515.2M417.30,307.3V515.2M427.10,307.3V515.2M436.90,307.3V515.2M446.70,307.3V515.2M456.50,307.3V515.2M466.30,307.3V515.2M476.10,307.3V515.2M392.2,313.10H481.5M392.2,323.45H481.5M392.2,333.80H481.5M392.2,344.15H481.5M392.2,354.50H481.5M392.2,364.85H481.5M392.2,375.20H481.5M392.2,385.55H481.5M392.2,395.90H481.5M392.2,406.25H481.5M392.2,416.60H481.5M392.2,426.95H481.5M392.2,437.30H481.5M392.2,447.65H481.5M392.2,458.00H481.5M392.2,468.35H481.5M392.2,478.70H481.5M392.2,489.05H481.5M392.2,499.40H481.5M392.2,509.75H481.5" stroke="#A9A9A9" stroke-width="1" fill="none"/>
<circle cx="397.70" cy="313.10" r="2.00" fill="#D86A40"/>
<circle cx="427.10" cy="313.10" r="3.50" fill="#C94A35"/>
<circle cx="436.90" cy="313.10" r="3.00" fill="#CC5037"/>
<circle cx="456.50" cy="313.10" r="3.00" fill="#D05A3A"/>
<circle cx="466.30" cy="313.10" r="2.75" fill="#D4603C"/>
<circle cx="397.70" cy="323.45" r="2.25" fill="#E09A5A"/>
<circle cx="407.50" cy="323.45" r="2.25" fill="#E0A060"/>
<circle cx="417.30" cy="323.45" r="1.50" fill="#E0A860"/>
<circle cx="397.70" cy="333.80" r="4.50" fill="#C0392B"/>
<circle cx="407.50" cy="333.80" r="4.50" fill="#BF3A2C"/>
<circle cx="417.30" cy="333.80" r="4.50" fill="#CC5038"/>
<circle cx="427.10" cy="333.80" r="4.50" fill="#C84A34"/>
<circle cx="436.90" cy="333.80" r="4.50" fill="#C84A34"/>
<circle cx="446.70" cy="333.80" r="4.50" fill="#C0402E"/>
<circle cx="456.50" cy="333.80" r="4.50" fill="#C0402E"/>
<circle cx="466.30" cy="333.80" r="4.50" fill="#BC3A2C"/>
<circle cx="476.10" cy="333.80" r="4.50" fill="#D05A3A"/>
<circle cx="427.10" cy="344.15" r="2.25" fill="#C03A2C"/>
<circle cx="436.90" cy="344.15" r="2.00" fill="#C84A35"/>
<circle cx="446.70" cy="344.15" r="2.00" fill="#D8704A"/>
<circle cx="397.70" cy="354.50" r="3.00" fill="#C84A35"/>
<circle cx="407.50" cy="354.50" r="3.25" fill="#C94A35"/>
<circle cx="417.30" cy="354.50" r="4.00" fill="#D06040"/>
<circle cx="427.10" cy="354.50" r="2.25" fill="#CC4A35"/>
<circle cx="436.90" cy="354.50" r="2.25" fill="#CC5038"/>
<circle cx="446.70" cy="354.50" r="4.50" fill="#B83025"/>
<circle cx="456.50" cy="354.50" r="2.50" fill="#C84A35"/>
<circle cx="466.30" cy="354.50" r="2.50" fill="#CC5038"/>
<circle cx="476.10" cy="354.50" r="3.50" fill="#D06040"/>
<circle cx="417.30" cy="395.90" r="3.00" fill="#D8804A"/>
<circle cx="446.70" cy="395.90" r="2.50" fill="#DC8A50"/>
<circle cx="476.10" cy="395.90" r="3.75" fill="#D06040"/>
<circle cx="476.10" cy="406.25" r="1.50" fill="#D8704A"/>
<circle cx="427.10" cy="416.60" r="1.50" fill="#E09050"/>
<circle cx="417.30" cy="426.95" r="3.00" fill="#D87A48"/>
<circle cx="446.70" cy="426.95" r="1.50" fill="#E08A50"/>
<circle cx="476.10" cy="426.95" r="3.25" fill="#D4603C"/>
<circle cx="397.70" cy="437.30" r="3.25" fill="#C0392B"/>
<circle cx="407.50" cy="437.30" r="3.00" fill="#C44030"/>
<circle cx="417.30" cy="437.30" r="2.75" fill="#D88050"/>
<circle cx="427.10" cy="437.30" r="2.50" fill="#B02828"/>
<circle cx="436.90" cy="437.30" r="2.75" fill="#C03030"/>
<circle cx="446.70" cy="437.30" r="4.75" fill="#B82828"/>
<circle cx="456.50" cy="437.30" r="2.50" fill="#C03030"/>
<circle cx="466.30" cy="437.30" r="2.50" fill="#C84030"/>
<circle cx="476.10" cy="437.30" r="2.50" fill="#D87A48"/>
<circle cx="476.10" cy="458.00" r="1.75" fill="#D87A48"/>
<circle cx="397.70" cy="468.35" r="2.25" fill="#DC8A50"/>
<circle cx="407.50" cy="468.35" r="2.25" fill="#DC8A50"/>
<circle cx="397.70" cy="489.05" r="2.50" fill="#D06040"/>
<circle cx="407.50" cy="489.05" r="2.75" fill="#D06040"/>
<circle cx="417.30" cy="489.05" r="3.25" fill="#D47048"/>
<circle cx="446.70" cy="489.05" r="3.75" fill="#CC5038"/>
<circle cx="476.10" cy="489.05" r="2.75" fill="#D88050"/>
<circle cx="397.70" cy="499.40" r="3.00" fill="#D06844"/>
<circle cx="407.50" cy="499.40" r="3.25" fill="#D06844"/>
<circle cx="417.30" cy="499.40" r="3.75" fill="#D87048"/>
<circle cx="436.90" cy="499.40" r="1.50" fill="#D87A48"/>
<circle cx="446.70" cy="499.40" r="3.00" fill="#D47048"/>
<circle cx="456.50" cy="499.40" r="1.75" fill="#D87A48"/>
<circle cx="466.30" cy="499.40" r="2.00" fill="#D87A48"/>
<circle cx="476.10" cy="499.40" r="2.75" fill="#DC9050"/>
<circle cx="397.70" cy="509.75" r="3.00" fill="#D06040"/>
<circle cx="407.50" cy="509.75" r="3.00" fill="#D06040"/>
<circle cx="417.30" cy="509.75" r="3.25" fill="#D87A48"/>
<circle cx="427.10" cy="509.75" r="2.50" fill="#C84030"/>
<circle cx="436.90" cy="509.75" r="2.75" fill="#CC4A35"/>
<circle cx="446.70" cy="509.75" r="4.00" fill="#B83028"/>
<circle cx="456.50" cy="509.75" r="3.25" fill="#C84030"/>
<circle cx="466.30" cy="509.75" r="3.50" fill="#C84030"/>
<circle cx="476.10" cy="509.75" r="4.25" fill="#CC5038"/>
<rect x="392.5" y="307.5" width="89.00" height="208.00" fill="none" stroke="#2a2a2a" stroke-width="1.1"/>
<line x1="389.60" y1="313.10" x2="392.2" y2="313.10" stroke="#1a1a1a" stroke-width="1.0"/>
<line x1="389.60" y1="323.45" x2="392.2" y2="323.45" stroke="#1a1a1a" stroke-width="1.0"/>
<line x1="389.60" y1="333.80" x2="392.2" y2="333.80" stroke="#1a1a1a" stroke-width="1.0"/>
<line x1="389.60" y1="344.15" x2="392.2" y2="344.15" stroke="#1a1a1a" stroke-width="1.0"/>
<line x1="389.60" y1="354.50" x2="392.2" y2="354.50" stroke="#1a1a1a" stroke-width="1.0"/>
<line x1="389.60" y1="364.85" x2="392.2" y2="364.85" stroke="#1a1a1a" stroke-width="1.0"/>
<line x1="389.60" y1="375.20" x2="392.2" y2="375.20" stroke="#1a1a1a" stroke-width="1.0"/>
<line x1="389.60" y1="385.55" x2="392.2" y2="385.55" stroke="#1a1a1a" stroke-width="1.0"/>
<line x1="389.60" y1="395.90" x2="392.2" y2="395.90" stroke="#1a1a1a" stroke-width="1.0"/>
<line x1="389.60" y1="406.25" x2="392.2" y2="406.25" stroke="#1a1a1a" stroke-width="1.0"/>
<line x1="389.60" y1="416.60" x2="392.2" y2="416.60" stroke="#1a1a1a" stroke-width="1.0"/>
<line x1="389.60" y1="426.95" x2="392.2" y2="426.95" stroke="#1a1a1a" stroke-width="1.0"/>
<line x1="389.60" y1="437.30" x2="392.2" y2="437.30" stroke="#1a1a1a" stroke-width="1.0"/>
<line x1="389.60" y1="447.65" x2="392.2" y2="447.65" stroke="#1a1a1a" stroke-width="1.0"/>
<line x1="389.60" y1="458.00" x2="392.2" y2="458.00" stroke="#1a1a1a" stroke-width="1.0"/>
<line x1="389.60" y1="468.35" x2="392.2" y2="468.35" stroke="#1a1a1a" stroke-width="1.0"/>
<line x1="389.60" y1="478.70" x2="392.2" y2="478.70" stroke="#1a1a1a" stroke-width="1.0"/>
<line x1="389.60" y1="489.05" x2="392.2" y2="489.05" stroke="#1a1a1a" stroke-width="1.0"/>
<line x1="389.60" y1="499.40" x2="392.2" y2="499.40" stroke="#1a1a1a" stroke-width="1.0"/>
<line x1="389.60" y1="509.75" x2="392.2" y2="509.75" stroke="#1a1a1a" stroke-width="1.0"/>
<line x1="397.70" y1="515.2" x2="397.70" y2="517.60" stroke="#1a1a1a" stroke-width="1.0"/>
<line x1="407.50" y1="515.2" x2="407.50" y2="517.60" stroke="#1a1a1a" stroke-width="1.0"/>
<line x1="417.30" y1="515.2" x2="417.30" y2="517.60" stroke="#1a1a1a" stroke-width="1.0"/>
<line x1="427.10" y1="515.2" x2="427.10" y2="517.60" stroke="#1a1a1a" stroke-width="1.0"/>
<line x1="436.90" y1="515.2" x2="436.90" y2="517.60" stroke="#1a1a1a" stroke-width="1.0"/>
<line x1="446.70" y1="515.2" x2="446.70" y2="517.60" stroke="#1a1a1a" stroke-width="1.0"/>
<line x1="456.50" y1="515.2" x2="456.50" y2="517.60" stroke="#1a1a1a" stroke-width="1.0"/>
<line x1="466.30" y1="515.2" x2="466.30" y2="517.60" stroke="#1a1a1a" stroke-width="1.0"/>
<line x1="476.10" y1="515.2" x2="476.10" y2="517.60" stroke="#1a1a1a" stroke-width="1.0"/>
<text x="389.8" y="316.08" font-size="10.0" text-anchor="end" fill="#111" stroke="#111" stroke-width="0.22" font-weight="normal" >VAChT</text>
<text x="389.8" y="326.68" font-size="10.0" text-anchor="end" fill="#111" stroke="#111" stroke-width="0.22" font-weight="normal" >NMDA</text>
<text x="389.8" y="337.28" font-size="10.0" text-anchor="end" fill="#111" stroke="#111" stroke-width="0.22" font-weight="normal" >NAT</text>
<text x="389.8" y="347.88" font-size="10.0" text-anchor="end" fill="#111" stroke="#111" stroke-width="0.22" font-weight="normal" >MU</text>
<text x="389.8" y="358.48" font-size="10.0" text-anchor="end" fill="#111" stroke="#111" stroke-width="0.22" font-weight="normal" >mGluR5</text>
<text x="389.8" y="369.08" font-size="10.0" text-anchor="end" fill="#111" stroke="#111" stroke-width="0.22" font-weight="normal" >M1</text>
<text x="389.8" y="379.68" font-size="10.0" text-anchor="end" fill="#111" stroke="#111" stroke-width="0.22" font-weight="normal" >H3</text>
<text x="389.8" y="390.28" font-size="10.0" text-anchor="end" fill="#111" stroke="#111" stroke-width="0.22" font-weight="normal" >GABAa</text>
<text x="389.8" y="400.88" font-size="10.0" text-anchor="end" fill="#111" stroke="#111" stroke-width="0.22" font-weight="normal" >FDOPA</text>
<text x="389.8" y="411.48" font-size="10.0" text-anchor="end" fill="#111" stroke="#111" stroke-width="0.22" font-weight="normal" >DAT</text>
<text x="389.8" y="422.08" font-size="10.0" text-anchor="end" fill="#111" stroke="#111" stroke-width="0.22" font-weight="normal" >D2</text>
<text x="389.8" y="432.68" font-size="10.0" text-anchor="end" fill="#111" stroke="#111" stroke-width="0.22" font-weight="normal" >D1</text>
<text x="389.8" y="443.28" font-size="10.0" text-anchor="end" fill="#111" stroke="#111" stroke-width="0.22" font-weight="normal" >CB1</text>
<text x="389.8" y="453.88" font-size="10.0" text-anchor="end" fill="#111" stroke="#111" stroke-width="0.22" font-weight="normal" >A4B2</text>
<text x="389.8" y="464.48" font-size="10.0" text-anchor="end" fill="#111" stroke="#111" stroke-width="0.22" font-weight="normal" >5HTT</text>
<text x="389.8" y="475.08" font-size="10.0" text-anchor="end" fill="#111" stroke="#111" stroke-width="0.22" font-weight="normal" >5HT6</text>
<text x="389.8" y="485.68" font-size="10.0" text-anchor="end" fill="#111" stroke="#111" stroke-width="0.22" font-weight="normal" >5HT4</text>
<text x="389.8" y="496.28" font-size="10.0" text-anchor="end" fill="#111" stroke="#111" stroke-width="0.22" font-weight="normal" >5HT2a</text>
<text x="389.8" y="506.88" font-size="10.0" text-anchor="end" fill="#111" stroke="#111" stroke-width="0.22" font-weight="normal" >5HT1b</text>
<text x="389.8" y="517.48" font-size="10.0" text-anchor="end" fill="#111" stroke="#111" stroke-width="0.22" font-weight="normal" >5HT1a</text>
<text x="357.4" y="296.6" font-size="12" text-anchor="start" fill="#111" stroke="#111" stroke-width="0.22" font-weight="normal" >(C)</text>
<text x="0" y="0" font-size="6.6" text-anchor="end" fill="#262626" stroke="#262626" stroke-width="0.22" font-weight="normal" transform="translate(399.10,524.4) rotate(-66)">F−EEP</text>
<text x="0" y="0" font-size="6.6" text-anchor="end" fill="#262626" stroke="#262626" stroke-width="0.22" font-weight="normal" transform="translate(408.90,524.4) rotate(-66)">F−EP</text>
<text x="0" y="0" font-size="6.6" text-anchor="end" fill="#262626" stroke="#262626" stroke-width="0.22" font-weight="normal" transform="translate(418.70,524.4) rotate(-66)">F−IEP</text>
<text x="0" y="0" font-size="6.6" text-anchor="end" fill="#262626" stroke="#262626" stroke-width="0.22" font-weight="normal" transform="translate(428.50,524.4) rotate(-66)">M−EEP</text>
<text x="0" y="0" font-size="6.6" text-anchor="end" fill="#262626" stroke="#262626" stroke-width="0.22" font-weight="normal" transform="translate(438.30,524.4) rotate(-66)">M−EP</text>
<text x="0" y="0" font-size="6.6" text-anchor="end" fill="#262626" stroke="#262626" stroke-width="0.22" font-weight="normal" transform="translate(448.10,524.4) rotate(-66)">M−IEP</text>
<text x="0" y="0" font-size="6.6" text-anchor="end" fill="#262626" stroke="#262626" stroke-width="0.22" font-weight="normal" transform="translate(457.90,524.4) rotate(-66)">O−EEP</text>
<text x="0" y="0" font-size="6.6" text-anchor="end" fill="#262626" stroke="#262626" stroke-width="0.22" font-weight="normal" transform="translate(467.70,524.4) rotate(-66)">O−EP</text>
<text x="0" y="0" font-size="6.6" text-anchor="end" fill="#262626" stroke="#262626" stroke-width="0.22" font-weight="normal" transform="translate(477.50,524.4) rotate(-66)">O−IEP</text>
<text x="485.8" y="336.9" font-size="10.3" text-anchor="start" fill="#111" stroke="#111" stroke-width="0.22" font-weight="normal" >-log10(Pspin)</text>
<circle cx="495.5" cy="345.6" r="2.75" fill="#000"/>
<text x="504.3" y="349.0" font-size="9.6" text-anchor="start" fill="#111" stroke="#111" stroke-width="0.22" font-weight="normal" >2</text>
<circle cx="495.5" cy="354.2" r="3.45" fill="#000"/>
<text x="504.3" y="357.6" font-size="9.6" text-anchor="start" fill="#111" stroke="#111" stroke-width="0.22" font-weight="normal" >3</text>
<circle cx="495.5" cy="363.9" r="4.3" fill="#000"/>
<text x="504.3" y="367.3" font-size="9.6" text-anchor="start" fill="#111" stroke="#111" stroke-width="0.22" font-weight="normal" >4</text>
<circle cx="495.5" cy="375.0" r="4.8" fill="#000"/>
<text x="504.3" y="378.4" font-size="9.6" text-anchor="start" fill="#111" stroke="#111" stroke-width="0.22" font-weight="normal" >5</text>
<text x="493.6" y="409.0" font-size="10.3" text-anchor="start" fill="#111" stroke="#111" stroke-width="0.22" font-weight="normal" >r</text>
<rect x="490.8" y="418.0" width="7.2" height="46.5" fill="url(#rgrad)"/>
<text x="501.9" y="421.8" font-size="9.6" text-anchor="start" fill="#111" stroke="#111" stroke-width="0.22" font-weight="normal" >0.50</text>
<text x="501.9" y="432.9" font-size="9.6" text-anchor="start" fill="#111" stroke="#111" stroke-width="0.22" font-weight="normal" >0.25</text>
<text x="501.9" y="444.1" font-size="9.6" text-anchor="start" fill="#111" stroke="#111" stroke-width="0.22" font-weight="normal" >0</text>
<text x="501.9" y="455.2" font-size="9.6" text-anchor="start" fill="#111" stroke="#111" stroke-width="0.22" font-weight="normal" >−0.25</text>
<text x="501.9" y="466.4" font-size="9.6" text-anchor="start" fill="#111" stroke="#111" stroke-width="0.22" font-weight="normal" >−0.50</text>
<text x="530.1" y="297.0" font-size="12" text-anchor="start" fill="#111" stroke="#111" stroke-width="0.22" font-weight="normal" >(D)</text>
<g id="brain"><defs><clipPath id="bclip"><path d="M541.7,397.8 C541.9,393.4 542.9,388.6 543.6,384.6 C544.3,380.6 544.7,376.5 545.9,373.6 C547.1,370.7 548.9,369.2 550.8,367.1 C552.7,365.0 555.0,362.7 557.3,360.7 C559.6,358.7 562.3,356.8 564.8,355.3 C567.3,353.9 569.7,353.1 572.4,352.0 C575.1,350.9 578.3,349.7 581.0,348.8 C583.7,347.9 586.0,347.1 588.5,346.6 C591.0,346.1 593.6,346.1 596.1,345.6 C598.6,345.2 601.4,344.3 603.7,343.9 C606.0,343.5 607.1,343.3 610.0,343.0 C612.9,342.7 617.8,341.6 620.8,342.3 C623.8,343.0 626.2,345.8 628.3,347.2 C630.4,348.6 631.2,350.0 633.2,351.0 C635.2,352.0 638.1,352.0 640.2,353.1 C642.3,354.2 644.0,355.8 645.6,357.4 C647.2,359.0 648.3,361.0 649.9,362.8 C651.5,364.6 653.5,366.2 655.3,368.2 C657.1,370.2 658.9,372.2 660.7,374.7 C662.5,377.2 664.7,380.4 666.1,383.3 C667.5,386.2 668.5,388.9 669.0,392.0 C669.5,395.1 669.4,398.6 669.1,401.6 C668.8,404.6 668.1,408.2 667.0,410.2 C665.9,412.2 664.2,412.9 662.6,413.5 C661.0,414.1 660.1,413.5 657.2,413.5 C654.3,413.5 648.6,413.1 645.4,413.5 C642.2,413.9 640.4,414.9 637.8,415.6 C635.2,416.3 633.1,417.1 630.0,417.9 C626.9,418.7 622.4,419.2 619.0,420.5 C615.6,421.8 612.4,423.9 609.4,425.8 C606.4,427.7 602.9,430.3 600.7,431.9 C598.5,433.5 597.8,434.5 596.3,435.4 C594.8,436.3 593.4,437.0 591.9,437.2 C590.4,437.4 589.0,437.1 587.5,436.7 C586.0,436.2 584.9,435.4 583.1,434.5 C581.4,433.6 578.5,432.4 577.0,431.0 C575.5,429.6 574.5,427.3 573.9,425.8 C573.3,424.3 575.1,422.5 573.6,421.9 C572.1,421.3 567.9,422.3 565.1,422.0 C562.3,421.7 559.7,421.1 556.7,420.2 C553.8,419.3 549.7,418.0 547.4,416.4 C545.1,414.8 543.7,413.9 542.7,410.8 C541.8,407.7 541.6,402.2 541.7,397.8 Z"/></clipPath></defs>
<path d="M541.7,397.8 C541.9,393.4 542.9,388.6 543.6,384.6 C544.3,380.6 544.7,376.5 545.9,373.6 C547.1,370.7 548.9,369.2 550.8,367.1 C552.7,365.0 555.0,362.7 557.3,360.7 C559.6,358.7 562.3,356.8 564.8,355.3 C567.3,353.9 569.7,353.1 572.4,352.0 C575.1,350.9 578.3,349.7 581.0,348.8 C583.7,347.9 586.0,347.1 588.5,346.6 C591.0,346.1 593.6,346.1 596.1,345.6 C598.6,345.2 601.4,344.3 603.7,343.9 C606.0,343.5 607.1,343.3 610.0,343.0 C612.9,342.7 617.8,341.6 620.8,342.3 C623.8,343.0 626.2,345.8 628.3,347.2 C630.4,348.6 631.2,350.0 633.2,351.0 C635.2,352.0 638.1,352.0 640.2,353.1 C642.3,354.2 644.0,355.8 645.6,357.4 C647.2,359.0 648.3,361.0 649.9,362.8 C651.5,364.6 653.5,366.2 655.3,368.2 C657.1,370.2 658.9,372.2 660.7,374.7 C662.5,377.2 664.7,380.4 666.1,383.3 C667.5,386.2 668.5,388.9 669.0,392.0 C669.5,395.1 669.4,398.6 669.1,401.6 C668.8,404.6 668.1,408.2 667.0,410.2 C665.9,412.2 664.2,412.9 662.6,413.5 C661.0,414.1 660.1,413.5 657.2,413.5 C654.3,413.5 648.6,413.1 645.4,413.5 C642.2,413.9 640.4,414.9 637.8,415.6 C635.2,416.3 633.1,417.1 630.0,417.9 C626.9,418.7 622.4,419.2 619.0,420.5 C615.6,421.8 612.4,423.9 609.4,425.8 C606.4,427.7 602.9,430.3 600.7,431.9 C598.5,433.5 597.8,434.5 596.3,435.4 C594.8,436.3 593.4,437.0 591.9,437.2 C590.4,437.4 589.0,437.1 587.5,436.7 C586.0,436.2 584.9,435.4 583.1,434.5 C581.4,433.6 578.5,432.4 577.0,431.0 C575.5,429.6 574.5,427.3 573.9,425.8 C573.3,424.3 575.1,422.5 573.6,421.9 C572.1,421.3 567.9,422.3 565.1,422.0 C562.3,421.7 559.7,421.1 556.7,420.2 C553.8,419.3 549.7,418.0 547.4,416.4 C545.1,414.8 543.7,413.9 542.7,410.8 C541.8,407.7 541.6,402.2 541.7,397.8 Z" fill="#EFEDE7"/>
<path d="M541.7,397.8 C541.9,393.4 542.9,388.6 543.6,384.6 C544.3,380.6 544.7,376.5 545.9,373.6 C547.1,370.7 548.9,369.2 550.8,367.1 C552.7,365.0 555.0,362.7 557.3,360.7 C559.6,358.7 562.3,356.8 564.8,355.3 C567.3,353.9 569.7,353.1 572.4,352.0 C575.1,350.9 578.3,349.7 581.0,348.8 C583.7,347.9 586.0,347.1 588.5,346.6 C591.0,346.1 593.6,346.1 596.1,345.6 C598.6,345.2 601.4,344.3 603.7,343.9 C606.0,343.5 607.1,343.3 610.0,343.0 C612.9,342.7 617.8,341.6 620.8,342.3 C623.8,343.0 626.2,345.8 628.3,347.2 C630.4,348.6 631.2,350.0 633.2,351.0 C635.2,352.0 638.1,352.0 640.2,353.1 C642.3,354.2 644.0,355.8 645.6,357.4 C647.2,359.0 648.3,361.0 649.9,362.8 C651.5,364.6 653.5,366.2 655.3,368.2 C657.1,370.2 658.9,372.2 660.7,374.7 C662.5,377.2 664.7,380.4 666.1,383.3 C667.5,386.2 668.5,388.9 669.0,392.0 C669.5,395.1 669.4,398.6 669.1,401.6 C668.8,404.6 668.1,408.2 667.0,410.2 C665.9,412.2 664.2,412.9 662.6,413.5 C661.0,414.1 660.1,413.5 657.2,413.5 C654.3,413.5 648.6,413.1 645.4,413.5 C642.2,413.9 640.4,414.9 637.8,415.6 C635.2,416.3 633.1,417.1 630.0,417.9 C626.9,418.7 622.4,419.2 619.0,420.5 C615.6,421.8 612.4,423.9 609.4,425.8 C606.4,427.7 602.9,430.3 600.7,431.9 C598.5,433.5 597.8,434.5 596.3,435.4 C594.8,436.3 593.4,437.0 591.9,437.2 C590.4,437.4 589.0,437.1 587.5,436.7 C586.0,436.2 584.9,435.4 583.1,434.5 C581.4,433.6 578.5,432.4 577.0,431.0 C575.5,429.6 574.5,427.3 573.9,425.8 C573.3,424.3 575.1,422.5 573.6,421.9 C572.1,421.3 567.9,422.3 565.1,422.0 C562.3,421.7 559.7,421.1 556.7,420.2 C553.8,419.3 549.7,418.0 547.4,416.4 C545.1,414.8 543.7,413.9 542.7,410.8 C541.8,407.7 541.6,402.2 541.7,397.8 Z" fill="none" stroke="#D5D3CC" stroke-width="3.5" clip-path="url(#bclip)"/>
<path d="M541.7,397.8 C541.9,393.4 542.9,388.6 543.6,384.6 C544.3,380.6 544.7,376.5 545.9,373.6 C547.1,370.7 548.9,369.2 550.8,367.1 C552.7,365.0 555.0,362.7 557.3,360.7 C559.6,358.7 562.3,356.8 564.8,355.3 C567.3,353.9 569.7,353.1 572.4,352.0 C575.1,350.9 578.3,349.7 581.0,348.8 C583.7,347.9 586.0,347.1 588.5,346.6 C591.0,346.1 593.6,346.1 596.1,345.6 C598.6,345.2 601.4,344.3 603.7,343.9 C606.0,343.5 607.1,343.3 610.0,343.0 C612.9,342.7 617.8,341.6 620.8,342.3 C623.8,343.0 626.2,345.8 628.3,347.2 C630.4,348.6 631.2,350.0 633.2,351.0 C635.2,352.0 638.1,352.0 640.2,353.1 C642.3,354.2 644.0,355.8 645.6,357.4 C647.2,359.0 648.3,361.0 649.9,362.8 C651.5,364.6 653.5,366.2 655.3,368.2 C657.1,370.2 658.9,372.2 660.7,374.7 C662.5,377.2 664.7,380.4 666.1,383.3 C667.5,386.2 668.5,388.9 669.0,392.0 C669.5,395.1 669.4,398.6 669.1,401.6 C668.8,404.6 668.1,408.2 667.0,410.2 C665.9,412.2 664.2,412.9 662.6,413.5 C661.0,414.1 660.1,413.5 657.2,413.5 C654.3,413.5 648.6,413.1 645.4,413.5 C642.2,413.9 640.4,414.9 637.8,415.6 C635.2,416.3 633.1,417.1 630.0,417.9 C626.9,418.7 622.4,419.2 619.0,420.5 C615.6,421.8 612.4,423.9 609.4,425.8 C606.4,427.7 602.9,430.3 600.7,431.9 C598.5,433.5 597.8,434.5 596.3,435.4 C594.8,436.3 593.4,437.0 591.9,437.2 C590.4,437.4 589.0,437.1 587.5,436.7 C586.0,436.2 584.9,435.4 583.1,434.5 C581.4,433.6 578.5,432.4 577.0,431.0 C575.5,429.6 574.5,427.3 573.9,425.8 C573.3,424.3 575.1,422.5 573.6,421.9 C572.1,421.3 567.9,422.3 565.1,422.0 C562.3,421.7 559.7,421.1 556.7,420.2 C553.8,419.3 549.7,418.0 547.4,416.4 C545.1,414.8 543.7,413.9 542.7,410.8 C541.8,407.7 541.6,402.2 541.7,397.8 Z" fill="none" stroke="#7E7D78" stroke-width="0.9"/>
<g fill="none" stroke-linecap="round" stroke-linejoin="round">
<path d="M554.4,375.1 C555.5,374.2 559.1,370.8 560.7,369.7 C562.3,368.6 562.6,369.1 564.0,368.5 C565.4,367.9 567.3,366.8 568.8,366.1 C570.3,365.4 571.5,365.2 573.0,364.5 C574.5,363.8 576.1,362.7 577.8,361.6 C579.5,360.5 581.6,358.9 583.2,358.0 C584.9,357.1 587.0,356.5 587.7,356.2" stroke="#D2D0C9" stroke-width="3.0"/>
<path d="M549.0,382.3 C550.0,381.6 553.2,378.9 555.3,377.8 C557.4,376.8 559.9,376.1 561.6,376.0 C563.3,375.9 564.1,377.0 565.5,377.0 C566.9,377.0 568.0,376.6 569.7,376.0 C571.5,375.4 574.0,374.4 576.0,373.3 C578.0,372.2 579.9,370.8 581.4,369.7 C582.9,368.6 584.4,367.4 585.0,367.0" stroke="#D2D0C9" stroke-width="3.0"/>
<path d="M550.8,386.8 C551.7,386.5 554.0,385.6 556.0,385.0 C558.0,384.4 560.7,383.8 562.5,383.2 C564.3,382.6 565.5,382.1 567.0,381.5 C568.5,380.9 569.7,380.2 571.5,379.6 C573.3,379.0 576.8,378.1 577.8,377.8" stroke="#D2D0C9" stroke-width="3.0"/>
<path d="M548.0,368.0 C548.8,367.8 551.3,366.9 553.0,366.5 C554.7,366.1 556.3,366.2 558.0,365.5 C559.7,364.8 561.2,363.2 563.0,362.5 C564.8,361.8 567.0,361.8 569.0,361.0 C571.0,360.2 572.8,359.0 575.0,358.0 C577.2,357.0 579.7,355.9 582.0,355.0 C584.3,354.1 587.8,352.9 589.0,352.5" stroke="#D2D0C9" stroke-width="3.0"/>
<path d="M560.7,368.8 C561.1,369.4 562.2,371.1 563.0,372.5 C563.8,373.9 565.1,376.2 565.5,377.0" stroke="#D2D0C9" stroke-width="3.0"/>
<path d="M545.0,402.0 C545.8,401.8 548.3,400.4 550.0,400.5 C551.7,400.6 553.3,402.6 555.0,402.5 C556.7,402.4 559.2,400.4 560.0,400.0" stroke="#D2D0C9" stroke-width="3.0"/>
<path d="M546.0,411.0 C546.8,411.3 549.3,412.5 551.0,413.0 C552.7,413.5 554.2,413.9 556.0,414.0 C557.8,414.1 561.0,413.6 562.0,413.5" stroke="#D2D0C9" stroke-width="3.0"/>
<path d="M626.0,349.0 C625.8,350.0 625.1,352.8 624.5,355.0 C623.9,357.2 622.2,360.5 622.5,362.0 C622.8,363.5 624.4,363.6 626.0,364.0 C627.6,364.4 631.0,364.4 632.0,364.5" stroke="#D2D0C9" stroke-width="3.0"/>
<path d="M633.0,352.5 C633.2,353.2 634.0,355.2 634.5,357.0 C635.0,358.8 635.8,362.4 636.0,363.5" stroke="#D2D0C9" stroke-width="3.0"/>
<path d="M632.0,364.5 C633.0,364.6 636.2,364.8 638.0,365.0 C639.8,365.2 641.3,365.2 643.0,365.5 C644.7,365.8 646.3,366.5 648.0,367.0 C649.7,367.5 652.2,368.2 653.0,368.5" stroke="#D2D0C9" stroke-width="3.0"/>
<path d="M643.0,365.5 C643.1,366.2 643.5,368.4 643.5,370.0 C643.5,371.6 643.1,374.2 643.0,375.0" stroke="#D2D0C9" stroke-width="3.0"/>
<path d="M626.0,369.0 C626.2,370.0 626.7,372.8 627.0,375.0 C627.3,377.2 627.8,380.8 628.0,382.0" stroke="#D2D0C9" stroke-width="3.0"/>
<path d="M629.0,381.0 C629.8,380.9 632.2,380.3 634.0,380.5 C635.8,380.7 637.8,381.6 640.0,382.0 C642.2,382.4 644.8,382.8 647.0,383.0 C649.2,383.2 651.2,382.7 653.0,383.5 C654.8,384.3 656.7,386.2 658.0,388.0 C659.3,389.8 660.5,393.0 661.0,394.0" stroke="#D2D0C9" stroke-width="3.0"/>
<path d="M624.0,390.0 C625.0,390.3 628.0,391.0 630.0,392.0 C632.0,393.0 634.0,395.3 636.0,396.0 C638.0,396.7 640.0,395.5 642.0,396.0 C644.0,396.5 645.8,398.2 648.0,399.0 C650.2,399.8 652.5,399.7 655.0,400.5 C657.5,401.3 661.7,403.4 663.0,404.0" stroke="#D2D0C9" stroke-width="3.0"/>
<path d="M650.0,372.0 C650.8,372.7 653.3,375.0 655.0,376.0 C656.7,377.0 658.5,377.0 660.0,378.0 C661.5,379.0 663.3,381.3 664.0,382.0" stroke="#D2D0C9" stroke-width="3.0"/>
<path d="M634.0,372.0 C634.7,372.5 636.7,374.0 638.0,375.0 C639.3,376.0 640.5,377.7 642.0,378.0 C643.5,378.3 646.2,377.2 647.0,377.0" stroke="#D2D0C9" stroke-width="3.0"/>
<path d="M593.0,420.0 C594.2,419.6 597.7,418.5 600.0,417.5 C602.3,416.5 604.7,415.0 607.0,414.0 C609.3,413.0 611.7,412.3 614.0,411.5 C616.3,410.7 618.7,409.7 621.0,409.0 C623.3,408.3 625.5,408.0 628.0,407.5 C630.5,407.0 633.3,406.2 636.0,406.0 C638.7,405.8 641.3,406.3 644.0,406.5 C646.7,406.7 650.7,406.9 652.0,407.0" stroke="#D2D0C9" stroke-width="3.0"/>
<path d="M581.0,428.0 C582.0,428.1 585.0,428.7 587.0,428.5 C589.0,428.3 591.0,427.8 593.0,427.0 C595.0,426.2 596.8,425.0 599.0,424.0 C601.2,423.0 603.7,421.9 606.0,421.0 C608.3,420.1 610.7,419.3 613.0,418.5 C615.3,417.7 618.8,416.4 620.0,416.0" stroke="#D2D0C9" stroke-width="3.0"/>
<path d="M586.0,434.0 C587.0,433.8 590.2,433.1 592.0,432.5 C593.8,431.9 596.2,430.8 597.0,430.5" stroke="#D2D0C9" stroke-width="3.0"/>
<path d="M579.0,417.0 C579.5,417.8 581.2,420.3 582.0,422.0 C582.8,423.7 583.7,426.2 584.0,427.0" stroke="#D2D0C9" stroke-width="3.0"/>
<path d="M578.0,415.0 C578.8,415.2 581.3,416.2 583.0,416.5 C584.7,416.8 587.2,416.9 588.0,417.0" stroke="#D2D0C9" stroke-width="3.0"/>
<path d="M554.4,375.1 C555.5,374.2 559.1,370.8 560.7,369.7 C562.3,368.6 562.6,369.1 564.0,368.5 C565.4,367.9 567.3,366.8 568.8,366.1 C570.3,365.4 571.5,365.2 573.0,364.5 C574.5,363.8 576.1,362.7 577.8,361.6 C579.5,360.5 581.6,358.9 583.2,358.0 C584.9,357.1 587.0,356.5 587.7,356.2" stroke="#95938D" stroke-width="0.9"/>
<path d="M549.0,382.3 C550.0,381.6 553.2,378.9 555.3,377.8 C557.4,376.8 559.9,376.1 561.6,376.0 C563.3,375.9 564.1,377.0 565.5,377.0 C566.9,377.0 568.0,376.6 569.7,376.0 C571.5,375.4 574.0,374.4 576.0,373.3 C578.0,372.2 579.9,370.8 581.4,369.7 C582.9,368.6 584.4,367.4 585.0,367.0" stroke="#95938D" stroke-width="0.9"/>
<path d="M550.8,386.8 C551.7,386.5 554.0,385.6 556.0,385.0 C558.0,384.4 560.7,383.8 562.5,383.2 C564.3,382.6 565.5,382.1 567.0,381.5 C568.5,380.9 569.7,380.2 571.5,379.6 C573.3,379.0 576.8,378.1 577.8,377.8" stroke="#95938D" stroke-width="0.9"/>
<path d="M548.0,368.0 C548.8,367.8 551.3,366.9 553.0,366.5 C554.7,366.1 556.3,366.2 558.0,365.5 C559.7,364.8 561.2,363.2 563.0,362.5 C564.8,361.8 567.0,361.8 569.0,361.0 C571.0,360.2 572.8,359.0 575.0,358.0 C577.2,357.0 579.7,355.9 582.0,355.0 C584.3,354.1 587.8,352.9 589.0,352.5" stroke="#95938D" stroke-width="0.9"/>
<path d="M560.7,368.8 C561.1,369.4 562.2,371.1 563.0,372.5 C563.8,373.9 565.1,376.2 565.5,377.0" stroke="#95938D" stroke-width="0.9"/>
<path d="M545.0,402.0 C545.8,401.8 548.3,400.4 550.0,400.5 C551.7,400.6 553.3,402.6 555.0,402.5 C556.7,402.4 559.2,400.4 560.0,400.0" stroke="#95938D" stroke-width="0.9"/>
<path d="M546.0,411.0 C546.8,411.3 549.3,412.5 551.0,413.0 C552.7,413.5 554.2,413.9 556.0,414.0 C557.8,414.1 561.0,413.6 562.0,413.5" stroke="#95938D" stroke-width="0.9"/>
<path d="M626.0,349.0 C625.8,350.0 625.1,352.8 624.5,355.0 C623.9,357.2 622.2,360.5 622.5,362.0 C622.8,363.5 624.4,363.6 626.0,364.0 C627.6,364.4 631.0,364.4 632.0,364.5" stroke="#95938D" stroke-width="0.9"/>
<path d="M633.0,352.5 C633.2,353.2 634.0,355.2 634.5,357.0 C635.0,358.8 635.8,362.4 636.0,363.5" stroke="#95938D" stroke-width="0.9"/>
<path d="M632.0,364.5 C633.0,364.6 636.2,364.8 638.0,365.0 C639.8,365.2 641.3,365.2 643.0,365.5 C644.7,365.8 646.3,366.5 648.0,367.0 C649.7,367.5 652.2,368.2 653.0,368.5" stroke="#95938D" stroke-width="0.9"/>
<path d="M643.0,365.5 C643.1,366.2 643.5,368.4 643.5,370.0 C643.5,371.6 643.1,374.2 643.0,375.0" stroke="#95938D" stroke-width="0.9"/>
<path d="M626.0,369.0 C626.2,370.0 626.7,372.8 627.0,375.0 C627.3,377.2 627.8,380.8 628.0,382.0" stroke="#95938D" stroke-width="0.9"/>
<path d="M629.0,381.0 C629.8,380.9 632.2,380.3 634.0,380.5 C635.8,380.7 637.8,381.6 640.0,382.0 C642.2,382.4 644.8,382.8 647.0,383.0 C649.2,383.2 651.2,382.7 653.0,383.5 C654.8,384.3 656.7,386.2 658.0,388.0 C659.3,389.8 660.5,393.0 661.0,394.0" stroke="#95938D" stroke-width="0.9"/>
<path d="M624.0,390.0 C625.0,390.3 628.0,391.0 630.0,392.0 C632.0,393.0 634.0,395.3 636.0,396.0 C638.0,396.7 640.0,395.5 642.0,396.0 C644.0,396.5 645.8,398.2 648.0,399.0 C650.2,399.8 652.5,399.7 655.0,400.5 C657.5,401.3 661.7,403.4 663.0,404.0" stroke="#95938D" stroke-width="0.9"/>
<path d="M650.0,372.0 C650.8,372.7 653.3,375.0 655.0,376.0 C656.7,377.0 658.5,377.0 660.0,378.0 C661.5,379.0 663.3,381.3 664.0,382.0" stroke="#95938D" stroke-width="0.9"/>
<path d="M634.0,372.0 C634.7,372.5 636.7,374.0 638.0,375.0 C639.3,376.0 640.5,377.7 642.0,378.0 C643.5,378.3 646.2,377.2 647.0,377.0" stroke="#95938D" stroke-width="0.9"/>
<path d="M593.0,420.0 C594.2,419.6 597.7,418.5 600.0,417.5 C602.3,416.5 604.7,415.0 607.0,414.0 C609.3,413.0 611.7,412.3 614.0,411.5 C616.3,410.7 618.7,409.7 621.0,409.0 C623.3,408.3 625.5,408.0 628.0,407.5 C630.5,407.0 633.3,406.2 636.0,406.0 C638.7,405.8 641.3,406.3 644.0,406.5 C646.7,406.7 650.7,406.9 652.0,407.0" stroke="#95938D" stroke-width="0.9"/>
<path d="M581.0,428.0 C582.0,428.1 585.0,428.7 587.0,428.5 C589.0,428.3 591.0,427.8 593.0,427.0 C595.0,426.2 596.8,425.0 599.0,424.0 C601.2,423.0 603.7,421.9 606.0,421.0 C608.3,420.1 610.7,419.3 613.0,418.5 C615.3,417.7 618.8,416.4 620.0,416.0" stroke="#95938D" stroke-width="0.9"/>
<path d="M586.0,434.0 C587.0,433.8 590.2,433.1 592.0,432.5 C593.8,431.9 596.2,430.8 597.0,430.5" stroke="#95938D" stroke-width="0.9"/>
<path d="M579.0,417.0 C579.5,417.8 581.2,420.3 582.0,422.0 C582.8,423.7 583.7,426.2 584.0,427.0" stroke="#95938D" stroke-width="0.9"/>
<path d="M578.0,415.0 C578.8,415.2 581.3,416.2 583.0,416.5 C584.7,416.8 587.2,416.9 588.0,417.0" stroke="#95938D" stroke-width="0.9"/>
</g>
<path d="M600.7,346.1 C602.1,344.9 604.0,343.6 606.1,342.9 C608.2,342.2 611.3,341.8 613.6,341.8 C615.9,341.8 618.3,342.3 620.1,342.9 C621.9,343.5 623.3,344.7 624.4,345.6 C625.5,346.5 627.0,346.7 626.6,348.3 C626.2,349.9 623.4,353.2 622.3,355.3 C621.2,357.4 621.0,359.3 620.1,360.7 C619.2,362.1 618.0,362.8 616.9,363.9 C615.8,365.0 614.5,365.9 613.6,367.2 C612.7,368.5 612.0,369.9 611.5,371.5 C611.0,373.1 610.8,374.9 610.4,376.9 C610.0,378.9 609.7,381.4 609.3,383.4 C608.9,385.4 609.1,387.4 608.2,388.8 C607.3,390.2 605.3,391.1 603.9,392.0 C602.5,392.9 601.2,393.4 599.6,394.2 C598.0,395.0 596.1,396.3 594.2,396.9 C592.4,397.5 590.2,397.7 588.5,397.8 C586.8,397.9 585.0,398.8 584.2,397.5 C583.4,396.2 583.6,392.3 583.6,389.8 C583.6,387.3 583.7,384.6 584.2,382.3 C584.7,380.0 585.9,378.0 586.6,375.8 C587.3,373.6 587.9,371.3 588.3,369.3 C588.7,367.3 588.2,365.1 588.8,363.9 C589.4,362.6 591.1,362.7 592.0,361.8 C592.9,360.9 593.7,359.8 594.2,358.5 C594.8,357.2 594.7,355.6 595.3,354.2 C595.9,352.8 597.1,351.2 598.0,349.9 C598.9,348.5 599.4,347.3 600.7,346.1 Z" fill="#C5B2D4" stroke="#9F8AB4" stroke-width="0.5"/>
<g fill="none" stroke-linecap="round">
<path d="M612.0,343.0 C611.7,344.0 610.8,346.8 610.0,349.0 C609.2,351.2 607.8,353.8 607.0,356.0 C606.2,358.2 605.7,359.8 605.0,362.0 C604.3,364.2 603.6,366.7 603.0,369.0 C602.4,371.3 602.0,373.7 601.5,376.0 C601.0,378.3 600.6,380.7 600.0,383.0 C599.4,385.3 598.3,388.8 598.0,390.0" stroke="#B29CC6" stroke-width="2"/>
<path d="M612.0,343.0 C611.7,344.0 610.8,346.8 610.0,349.0 C609.2,351.2 607.8,353.8 607.0,356.0 C606.2,358.2 605.7,359.8 605.0,362.0 C604.3,364.2 603.6,366.7 603.0,369.0 C602.4,371.3 602.0,373.7 601.5,376.0 C601.0,378.3 600.6,380.7 600.0,383.0 C599.4,385.3 598.3,388.8 598.0,390.0" stroke="#9C85B0" stroke-width="0.6"/>
<path d="M604.0,345.5 C603.5,346.4 601.9,349.1 601.0,351.0 C600.1,352.9 599.2,355.0 598.5,357.0 C597.8,359.0 597.2,361.0 596.5,363.0 C595.8,365.0 594.8,367.0 594.0,369.0 C593.2,371.0 592.7,372.8 592.0,375.0 C591.3,377.2 590.6,379.5 590.0,382.0 C589.4,384.5 588.8,388.7 588.5,390.0" stroke="#B29CC6" stroke-width="2"/>
<path d="M604.0,345.5 C603.5,346.4 601.9,349.1 601.0,351.0 C600.1,352.9 599.2,355.0 598.5,357.0 C597.8,359.0 597.2,361.0 596.5,363.0 C595.8,365.0 594.8,367.0 594.0,369.0 C593.2,371.0 592.7,372.8 592.0,375.0 C591.3,377.2 590.6,379.5 590.0,382.0 C589.4,384.5 588.8,388.7 588.5,390.0" stroke="#9C85B0" stroke-width="0.6"/>
<path d="M619.0,344.0 C618.7,345.0 617.8,348.0 617.0,350.0 C616.2,352.0 615.3,354.2 614.5,356.0 C613.7,357.8 612.4,360.2 612.0,361.0" stroke="#B29CC6" stroke-width="2"/>
<path d="M619.0,344.0 C618.7,345.0 617.8,348.0 617.0,350.0 C616.2,352.0 615.3,354.2 614.5,356.0 C613.7,357.8 612.4,360.2 612.0,361.0" stroke="#9C85B0" stroke-width="0.6"/>
</g>
<path d="M563.8,388.1 C564.4,386.8 566.0,386.4 567.3,385.5 C568.6,384.6 570.2,383.6 571.6,382.9 C573.0,382.2 574.5,381.6 575.9,381.2 C577.3,380.8 579.0,380.6 580.2,380.7 C581.4,380.8 582.5,381.0 583.2,381.6 C583.9,382.2 584.4,382.7 584.5,384.6 C584.6,386.6 584.2,390.9 584.1,393.3 C584.0,395.8 584.2,397.8 583.6,399.3 C583.0,400.8 581.4,400.9 580.5,402.5 C579.6,404.1 579.0,406.8 578.5,408.8 C578.0,410.9 578.0,412.9 577.6,414.8 C577.2,416.7 576.6,418.7 575.9,420.0 C575.2,421.3 574.7,422.1 573.3,422.4 C571.9,422.7 568.7,422.1 567.3,421.9 C565.9,421.6 565.3,422.2 564.7,420.9 C564.1,419.6 563.9,416.4 563.8,414.0 C563.7,411.6 564.3,408.6 564.2,406.2 C564.1,403.8 563.5,401.4 563.4,399.3 C563.3,397.2 563.7,395.2 563.8,393.3 C563.9,391.4 563.2,389.4 563.8,388.1 Z" fill="#D59B9F" stroke="#B9868A" stroke-width="0.5"/>
<g fill="none" stroke-linecap="round">
<path d="M566.0,391.0 C566.5,391.5 568.0,393.2 569.0,394.0 C570.0,394.8 571.5,395.7 572.0,396.0" stroke="#C48C90" stroke-width="1.6"/>
<path d="M565.0,405.0 C565.7,404.8 567.7,404.2 569.0,404.0 C570.3,403.8 572.3,403.6 573.0,403.5" stroke="#C48C90" stroke-width="1.6"/>
<path d="M566.0,413.0 C566.7,412.7 568.7,411.7 570.0,411.0 C571.3,410.3 573.3,409.3 574.0,409.0" stroke="#C48C90" stroke-width="1.6"/>
<path d="M574.0,384.0 C574.5,384.7 576.0,386.7 577.0,388.0 C578.0,389.3 579.5,391.3 580.0,392.0" stroke="#C48C90" stroke-width="1.6"/>
</g>
<path d="M584.3,396 C580.5,397 577.5,398.5 575.5,400.5 C577,402.5 579.5,403 582,402.5 C583.5,401 584.3,399 584.3,396 Z" fill="#EEECE6"/>
<path d="M618.8,379.0 C619.4,378.9 620.1,379.3 620.5,380.3 C620.9,381.3 620.8,383.6 620.9,385.2 C621.0,386.8 621.0,388.5 621.3,390.2 C621.6,391.9 622.6,393.8 622.5,395.2 C622.4,396.6 621.9,397.6 620.9,398.5 C619.9,399.4 618.4,399.7 616.7,400.5 C615.1,401.3 612.8,402.5 611.0,403.4 C609.2,404.3 607.7,405.1 606.0,405.9 C604.3,406.7 602.5,407.6 601.0,408.4 C599.5,409.2 598.0,409.9 596.9,410.9 C595.8,411.9 595.4,413.2 594.4,414.2 C593.4,415.2 591.9,416.4 591.1,416.7 C590.3,417.0 589.9,416.6 589.4,415.8 C588.9,415.0 588.5,413.1 588.2,411.7 C587.9,410.3 587.7,408.8 587.8,407.6 C587.9,406.4 588.0,405.1 588.6,404.3 C589.2,403.5 590.1,403.3 591.1,402.6 C592.1,401.9 593.4,401.1 594.4,400.1 C595.4,399.1 595.9,397.8 596.9,396.8 C597.9,395.8 598.6,395.3 600.2,394.3 C601.9,393.3 605.0,392.0 606.8,391.0 C608.6,390.0 609.8,389.5 611.0,388.5 C612.2,387.5 613.3,386.4 614.3,385.2 C615.2,384.0 616.0,382.1 616.7,381.1 C617.5,380.1 618.2,379.1 618.8,379.0 Z" fill="#58A8B7" stroke="#4793A2" stroke-width="0.5"/>
<path d="M596.5,397.5 C600,394.5 605,392 610,389.5" fill="none" stroke="#F4F3EE" stroke-width="1.2" stroke-linecap="round"/>
<g stroke="#1F3A5C" stroke-width="1.35" fill="#1F3A5C" stroke-linecap="butt">
<line x1="593.6" y1="404.5" x2="594.5" y2="384.5"/>
<path d="M594.8,380.6 L596.6,385.8 L592.7,385.6 Z" stroke="none"/>
<line x1="591.3" y1="378.8" x2="575.6" y2="392.8"/>
<path d="M572.6,395.4 L574.3,390.4 L577.1,393.5 Z" stroke="none"/>
<line x1="589.2" y1="407.2" x2="576.6" y2="401.9"/>
<path d="M573.1,400.5 L578.4,399.8 L576.8,403.8 Z" stroke="none"/>
</g>
<g fill="#F3E33C">
<circle cx="613.8" cy="394.7" r="1.0"/><circle cx="610.6" cy="396.6" r="1.0"/><circle cx="607.5" cy="398.6" r="1.0"/><circle cx="604.4" cy="400.7" r="1.0"/>
<path d="M597.2,405.6 L599.6,401.2 L602.5,404.4 Z"/>
</g>
<g stroke="#2E2E2E" stroke-width="1.2">
<line x1="594.8" y1="376" x2="611.4" y2="376"/>
<line x1="618.2" y1="392" x2="635.3" y2="392"/>
<line x1="592.8" y1="408.8" x2="608.2" y2="408.8"/>
<line x1="551.7" y1="399.1" x2="568.1" y2="399.1"/>
</g>
<g fill="#262626">
<circle cx="594.8" cy="376" r="1.8"/><circle cx="618.2" cy="392" r="1.8"/><circle cx="592.8" cy="408.8" r="1.8"/><circle cx="568.1" cy="399.1" r="1.8"/>
</g>
<g font-size="8" font-weight="bold" fill="#111">
<text x="614.6" y="379.1">PreCG &amp; PostCG</text>
<text x="640.0" y="395.3">PAC</text>
<text x="612.7" y="411.6">STG &amp; STS</text>
<text x="524.9" y="397.0">IFG &amp; OFC</text>
</g></g>
<circle cx="549.9" cy="480.6" r="2.7" fill="#5BAAB8"/>
<circle cx="549.9" cy="493.3" r="2.7" fill="#D99AA0"/>
<circle cx="549.9" cy="506.0" r="2.7" fill="#C5B0D5"/>
<text x="560.5" y="483.4" font-size="7.95" text-anchor="start" fill="#262626" stroke="#262626" stroke-width="0.22" font-weight="normal" >Input integration regions</text>
<text x="560.5" y="496.1" font-size="7.95" text-anchor="start" fill="#262626" stroke="#262626" stroke-width="0.22" font-weight="normal" >Decision-making regions</text>
<text x="560.5" y="508.8" font-size="7.95" text-anchor="start" fill="#262626" stroke="#262626" stroke-width="0.22" font-weight="normal" >Auxiliary decision-making regions</text>
<text x="560.5" y="522.2" font-size="7.95" text-anchor="start" fill="#262626" stroke="#262626" stroke-width="0.22" font-weight="normal" >Integration pathway</text>
<text x="560.5" y="533.8" font-size="7.95" text-anchor="start" fill="#262626" stroke="#262626" stroke-width="0.22" font-weight="normal" >Decision-making pathway</text>
<line x1="546" y1="519.4" x2="556" y2="519.4" stroke="#EAD24A" stroke-width="1.1" stroke-dasharray="1.5,1.2"/>
<path d="M543.2,519.4 L547,517.4 L547,521.4 Z" fill="#EAD24A"/>
<line x1="546" y1="530.8" x2="556" y2="530.8" stroke="#24364E" stroke-width="1.5"/>
<path d="M543.2,530.8 L547.4,528.6 L547.4,533 Z" fill="#24364E"/>
</svg>
</body></html>
